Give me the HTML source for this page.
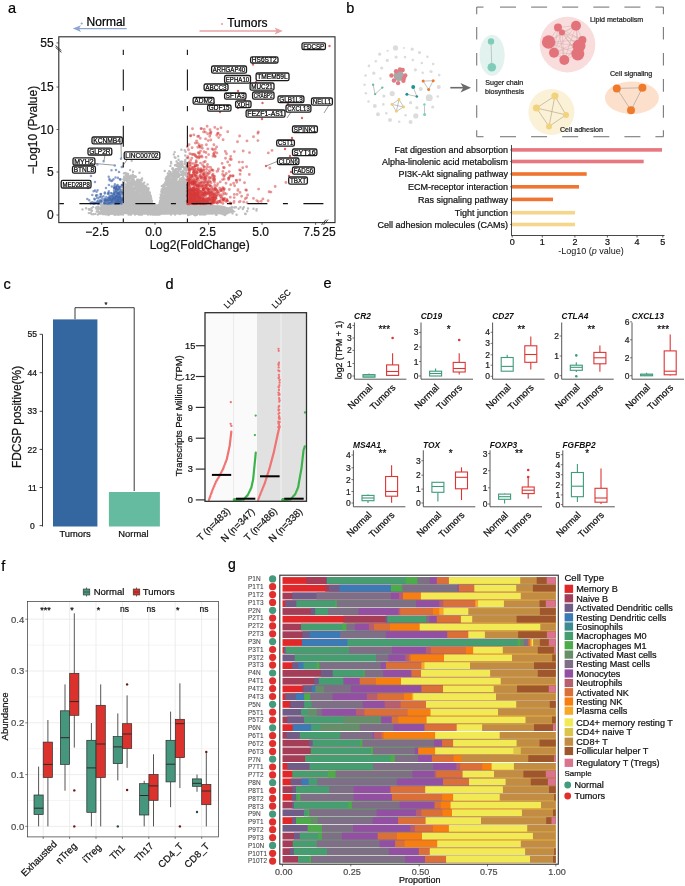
<!DOCTYPE html>
<html><head><meta charset="utf-8"><style>
html,body{margin:0;padding:0;background:#fff;}
svg{display:block;font-family:"Liberation Sans", sans-serif;will-change:transform;}
</style></head><body>
<svg width="685" height="886" viewBox="0 0 685 886">
<rect width="685" height="886" fill="#fff"/>
<text x="8" y="12.8" font-size="14.5" text-anchor="start" fill="#000" stroke="#000" stroke-width="0.22" >a</text>
<text x="86.6" y="25.5" font-size="12" text-anchor="start" fill="#000" stroke="#000" stroke-width="0.22" >Normal</text>
<line x1="126.7" y1="28.6" x2="77" y2="28.6" stroke="#8ea6cf" stroke-width="1.3" />
<polygon points="72.8,28.6 81,25.2 79,28.6 81,32" fill="#8ea6cf"/>
<circle cx="81.7" cy="23.5" r="1.1" fill="#8ea6cf" />
<text x="227.2" y="26.7" font-size="12" text-anchor="start" fill="#000" stroke="#000" stroke-width="0.22" >Tumors</text>
<line x1="199.5" y1="31" x2="278" y2="31" stroke="#e8a3a6" stroke-width="1.3" />
<polygon points="282.8,31 274.6,27.6 276.6,31 274.6,34.4" fill="#e8a3a6"/>
<circle cx="222" cy="24" r="1.1" fill="#e8a3a6" />
<defs><clipPath id="cpa"><rect x="59.3" y="37.3" width="275.2" height="184.8"/></clipPath></defs>
<g clip-path="url(#cpa)">
<polygon points="123,191.8 123.5,191.8 124,191.9 124.6,191.9 125.1,191.9 125.6,192 126.2,192 126.7,192.1 127.2,192.1 127.8,192.1 128.3,192.2 128.8,192.2 129.4,192.2 129.9,192.3 130.4,192.3 131,192.4 131.5,192.4 132,192.4 132.6,192.5 133.1,192.5 133.7,192.6 134.2,192.7 134.7,192.9 135.3,193.1 135.8,193.3 136.3,193.5 136.9,193.7 137.4,193.9 137.9,194.1 138.5,194.3 139,194.5 139.5,194.7 140.1,194.9 140.6,195.1 141.1,195.3 141.7,195.5 142.2,195.7 142.7,195.8 143.3,196 143.8,196.2 144.3,196.4 144.9,197 145.4,197.5 145.9,198.1 146.5,198.6 147,199.2 147.5,199.7 148.1,200.3 148.6,200.9 149.1,201.4 149.7,202 150.2,202.6 150.7,203.7 151.3,204.8 151.8,205.9 152.3,207 152.9,208.1 153.4,209.3 153.9,210.4 154.5,211.5 155,212.7 155.5,212.1 156.1,211.6 156.6,211.1 157.1,210.5 157.7,210 158.2,209.4 158.7,208.9 159.3,208.4 159.8,206.8 160.3,204.7 160.9,202.5 161.4,200.4 161.9,199.1 162.5,198.4 163,197.7 163.5,196.9 164.1,196.2 164.6,195.5 165.1,194.8 165.7,194.1 166.2,193.4 166.7,192.6 167.3,191.9 167.8,191.4 168.3,191 168.9,190.6 169.4,190.1 169.9,189.7 170.5,189.2 171,188.8 171.5,188.4 172.1,187.9 172.6,187.5 173.1,187.1 173.7,186.7 174.2,186.5 174.7,186.2 175.3,185.9 175.8,185.7 176.3,185.4 176.9,185.1 177.4,184.9 178,184.6 178.5,184.4 179,184.1 179.6,183.8 180.1,183.6 180.6,183.4 181.2,183.3 181.7,183.2 182.2,183.1 182.8,183 183.3,182.9 183.8,182.8 184.4,182.7 184.9,182.6 185.4,182.5 186,182.4 186.5,182.3 187,182.2 187,214.2 187,213.8 184.9,213.8 182.8,213.9 180.6,213.9 178.5,214 176.3,214 174.2,214 172.1,214.1 169.9,214.1 167.8,214.2 165.7,214.2 163.5,214.2 161.4,214.3 159.3,214.3 157.1,214.4 155,214.4 152.9,214.4 150.7,214.3 148.6,214.3 146.5,214.2 144.3,214.2 142.2,214.2 140.1,214.1 137.9,214.1 135.8,214 133.7,214 131.5,214 129.4,213.9 127.2,213.9 125.1,213.8 123,213.8" fill="#bdbdbd"/>
<polygon points="104,205.5 112,204.2 200,204.2 222,205.5 232,208.5 236,212 226,214.2 150,214.8 108,213.8 100,211 99,208" fill="#bdbdbd"/>
<path d="M180.4 204.4h0M155.6 211.2h0M140.8 188.8h0M186.7 184.6h0M133.2 213.1h0M152.8 207.7h0M138.8 184.9h0M146.6 199.8h0M179.4 184.6h0M128.8 187.2h0M161.3 194.9h0M175.3 186.7h0M163.8 212.2h0M148.8 204.5h0M142.2 193.8h0M162.4 199.7h0M182.4 166.2h0M159.5 205.1h0M179.1 174h0M124.6 180.2h0M151.7 201.8h0M160.8 208h0M181.2 186.9h0M174.9 173.8h0M163.2 202.9h0M135.7 184.7h0M146 192.4h0M185.8 174.5h0M160.2 206.6h0M141.4 188.6h0M174.6 180.6h0M148.5 189.7h0M143.7 190.5h0M165.2 196.1h0M163.7 186.2h0M175.2 210.8h0M154.6 212h0M124.3 179.3h0M125.5 177.4h0M142.9 196.4h0M162.1 194.8h0M175.1 214.6h0M130.2 187.9h0M157.8 209.6h0M159.7 208.1h0M163.5 192h0M178.5 205.8h0M136.7 196.3h0M152.2 213.7h0M165.4 205.9h0M136.7 185.7h0M171.2 174.5h0M131.4 177.8h0M157.3 210.7h0M150.8 209.3h0M169.6 179.8h0M127.1 192.9h0M157.3 208h0M174.2 177h0M164.8 201.7h0M171.6 181.7h0M149.9 202h0M158.1 211.1h0M152.6 208.2h0M168.6 176.6h0M151.7 202.6h0M181.5 182.5h0M125.1 179.4h0M126.6 179.9h0M148.2 192.8h0M130.9 194.9h0M165.9 187.9h0M163.2 190.2h0M161.3 191.8h0M140 208.3h0M181.6 163.6h0M138.1 195.7h0M156.2 209.6h0M142.3 195.3h0M141.1 197.7h0M128.8 192.8h0M174.3 187.2h0M149.6 195.2h0M136.4 194.6h0M124 196.6h0M156.5 214.1h0M182.7 173h0M127.7 183h0M164.4 195.7h0M174.7 183.1h0M164.1 192.2h0M147.3 198.6h0M175.9 184.8h0M168.6 179.5h0M158.7 207.9h0M134.7 182.2h0M137.7 182.7h0M157.6 207.7h0M166.9 195.8h0M135.7 195.2h0M172.2 176.2h0M143.3 193h0M175.3 169.8h0M164.2 193.2h0M156.6 213.1h0M142.6 185h0M168.4 176.6h0M154.2 210.9h0M171 179.2h0M132.1 188.6h0M134.1 196.2h0M133.5 177.5h0M173.7 180.6h0M175.3 189.4h0M126.1 191h0M184 206.3h0M176.2 169.5h0M166.4 192.6h0M155.8 211.8h0M177.5 200h0M134.8 185.1h0M180.5 168.6h0M173.4 172.3h0M136.6 195.3h0M131.3 210.8h0M158.2 214.1h0M161.9 195.3h0M153.3 208h0M169.4 199.3h0M166.2 191.2h0M178.1 169.5h0M137 183.8h0M136.7 181.7h0M155.4 210.6h0M174.5 175.3h0M155.7 210.9h0M139.9 202h0M162.1 192.6h0M159.3 208.7h0M159.6 208.2h0M135.7 187.8h0M175.3 174h0M140.3 189h0M129.8 178.7h0M134.1 180.4h0M135.3 196.6h0M154.2 210.2h0M145.6 196h0M142.1 214.6h0M152.2 208.2h0M141.2 185.3h0M145.8 191.1h0M171.3 178.8h0M179.8 192.9h0M131.9 190.2h0M168.6 173.7h0M131.2 214.6h0M183.1 182.2h0M159.4 206.4h0M186.8 183.9h0M180.1 205.1h0M145.2 200.2h0M171.4 180.2h0M131.9 188.8h0M174.4 172.5h0M171.7 176.6h0M129.8 187.7h0M125.2 187.2h0M162 191.1h0M185.1 169.6h0M149.9 194.4h0M156.4 210.4h0M123.2 187.5h0M144.3 182.6h0M136.1 210.2h0M149.7 211.7h0M137 181.2h0M133 200.8h0M174 184.9h0M139.6 198h0M156.2 212h0M167.4 183.3h0M125.2 173h0M152.7 205.7h0M135.8 194.3h0M147.8 201.7h0M125.9 191.5h0M155.3 212.9h0M132.7 195.4h0M159.9 206.6h0M135.4 197.1h0M150.4 213.9h0M157.6 209h0M134.1 177.1h0M178 185h0M144.4 185.4h0M162.9 190h0M162.9 197.1h0M152.6 213.3h0M178.6 183.6h0M156.2 209.4h0M166.3 179.2h0M135.1 184.7h0M165.5 183.2h0M174 201.3h0M155.3 212.4h0M186.4 169.8h0M133.3 180.8h0M143.4 195h0M131.8 187.6h0M157.1 207.7h0M169.8 198h0M149.5 211.4h0M156 212.7h0M181.9 181.6h0M164.2 201.5h0M154.8 211.5h0M142.5 186.8h0M159.5 204.7h0M178.7 199.5h0M180.3 165h0M132.4 183.6h0M177.9 172.8h0M172.3 191.9h0M152.8 214.6h0M140 190.9h0M153.1 205.8h0M155.8 211.4h0M152.6 207.9h0M147.6 197.7h0M149.1 193.7h0M175.1 189.1h0M176.2 183.1h0M128.5 214.5h0M144.9 194.6h0M154.9 211.6h0M166.2 189.9h0M160.7 204.5h0M158.6 210.5h0M128.3 203.4h0M146.4 187.7h0M153.4 208.6h0M164.6 185.8h0M169.6 178.9h0M156.4 213.8h0M131.1 208.1h0M146.1 195.1h0M155 212.3h0M162.5 189.8h0M157.1 211.3h0M158 206.1h0M127.8 178.2h0M134.3 188.7h0M162.1 196h0M146.4 192.4h0M151.2 203.1h0M162.6 205.9h0M164.6 209.2h0M174 175.5h0M139.9 190.9h0M173.6 182.5h0M128.3 190.2h0M137.4 195.9h0M128.6 186.4h0M152.9 212.3h0M143.6 192.8h0M166.4 193.3h0M152.4 203.7h0M147.7 197.5h0M129.7 210.6h0M146.2 186.8h0M168.7 200.8h0M160.1 201.9h0M131.6 194.8h0M178.8 176.5h0M146.7 188.9h0M124.4 200.1h0M165.2 200.9h0M170.7 172.1h0M174.3 175.1h0M135 183.6h0M176.1 181.4h0M143.9 186.5h0M177.5 176.8h0M155.5 211.6h0M171.5 192.7h0M145.6 189.8h0M186.3 169.6h0M184.8 182.5h0M129.8 182.2h0M162.5 194h0M183.4 170.4h0M152.5 206.7h0M154.3 209.7h0M164.1 193.3h0M135.5 193.2h0M156.8 209.8h0M150 213.3h0M166.3 191h0M142.8 196.5h0M125.1 190.4h0M145.3 193.1h0M135.2 182.1h0M186.4 170.7h0M127.2 190.8h0M135 195.2h0M128.1 175.6h0M149.5 197.4h0M129.6 195h0M157.7 209.6h0M124.5 202.7h0M163.1 199.3h0M139.9 186.1h0M152.8 205.8h0M145.1 192.3h0M146.8 199.9h0M143.2 194.3h0M180.4 178.6h0M179 190.1h0M147.3 190.4h0M141.4 187.1h0M154.8 212.2h0M168.7 179.3h0M169.2 187.6h0M130.7 178.3h0M172.6 185.9h0M135.4 187.7h0M145 198.8h0M168.3 188.4h0M145.8 192.1h0M138.9 185.8h0M125.4 179.4h0M146.1 192.3h0M143.8 186.3h0M165.4 187.9h0M137.7 191.4h0M176.8 171.8h0M164.4 189.5h0M176.8 181.5h0M151 200h0M160.5 201.1h0M154.8 211.5h0M141.9 185.3h0M136.1 186.5h0M155.1 211.2h0M151.9 200.9h0M136.1 193.2h0M156.4 209h0M148.2 192.5h0M141 188.4h0M153.9 207.9h0M127.8 192.3h0M152.5 207.9h0M145.5 189.2h0M178.6 200.1h0M181.8 166.9h0M186.3 165.9h0M141.9 211.1h0M159 207.6h0M147.6 193.9h0M156.2 211.6h0M145.4 205.8h0M164.9 209.5h0M151.7 205h0M156.4 209.4h0M172.8 186.2h0M176.3 179.8h0M176.4 186h0M180.4 182.3h0M157 211.5h0M167.9 193.8h0M175.5 184.2h0M126.2 187.3h0M173.3 197.6h0M123.3 179.1h0M150.3 196.2h0M153.1 206.1h0M157.5 209.8h0M153.9 210.1h0M156.8 208.8h0M147.8 196.2h0M174.2 211.1h0M171.1 179.4h0M141.6 195.6h0M170.1 184.2h0M154.1 210.4h0M172.7 194.1h0M133.6 199.8h0M132.3 186.5h0M174.3 173.6h0M151.5 201.1h0M147.4 196.3h0M185.4 181.7h0M174.1 175.6h0M155.4 213.8h0M138.2 184.5h0M142.1 193.2h0M137.1 212.1h0M154.5 211.1h0M167.4 204.3h0M173.1 176h0M155.5 212.1h0M155 214h0M127.8 184.9h0M130.8 197.3h0M136.4 185.2h0M176.6 188.5h0M134.7 193.8h0M165.7 178.7h0M143.1 206.8h0M164.3 185.8h0M165.4 192h0M130.4 189.5h0M164.8 202.6h0M156.4 211.5h0M150.2 200.8h0M141.5 183.3h0M124.4 184h0M167.3 187.4h0M155.2 212.3h0M130.7 189.5h0M159.9 205.2h0M153.1 212.5h0M134.5 184.7h0M178.2 174.6h0M163.1 190.5h0M143.3 187h0M153.6 209.3h0M176.8 190.4h0M176.2 184.6h0M138.5 194h0M162.4 196.3h0M129.2 188.9h0M161.9 205.1h0M158 209.2h0M150.1 198.8h0M161.5 206.2h0M159.7 204.7h0M172.6 183.8h0M141.8 180.4h0M171.9 175.8h0M155.1 211.2h0M156.7 210.1h0M145.6 191.1h0M184 182.1h0M161.1 201.1h0M154.5 210.3h0M140.6 194h0M185.9 173.3h0M171.9 177h0M133.3 191.5h0M186.5 179.5h0M128.4 192h0M157.1 210.7h0M146.4 188.2h0M138 188.8h0M155.7 213.1h0M170 180.7h0M137.3 189.9h0M144 198.4h0M168.1 205.2h0M133.9 194.7h0M131.7 195.7h0M161.9 193.7h0M164.7 190.6h0M168.8 189.2h0M147.2 198.9h0M146.8 193h0M178.9 167.3h0M139.5 189.8h0M140.2 190.1h0M147.1 207.2h0M141.9 187.2h0M135.4 192.2h0M172.7 168.3h0M148 195.1h0M172.1 177.8h0M161.2 203.3h0M184.3 168.3h0M178.7 170.8h0M138.4 185.6h0M155.6 211.7h0M140.1 188.7h0M134.2 189.5h0M159 209.2h0M176.3 180.7h0M167.8 185.7h0M152.4 203.8h0M154.7 213.3h0M171.6 209.6h0M181.5 161.7h0M155.9 211.3h0M152.7 212.3h0M140.5 181.1h0M149.8 196.6h0M155.5 211.1h0M175 187.9h0M147.1 189.1h0M184.6 179.5h0M180.9 174.7h0M168.8 190.5h0M186.4 172.8h0M168.5 190.9h0M180.1 180.2h0M138.6 190.3h0M123.1 190.3h0M138.8 190.3h0M169.3 196.8h0M177.4 205.7h0M149.9 205.1h0M143.1 196h0M186.8 158.1h0M155.8 211.3h0M149.5 196.5h0M180.6 166h0M147.3 193.2h0M126.1 200.5h0M155.2 212h0M147.6 202.3h0M126.8 199h0M150.3 205.4h0M156.2 211.6h0M132.8 187.9h0M164.1 185.4h0M183.6 166.7h0M143.6 189.4h0M125.1 194.1h0M153.5 212.6h0M181.2 164.8h0M163.5 191.9h0M132.7 181.6h0M141.7 198.5h0M155.4 211.9h0M159.6 211.5h0M156.2 209.2h0M142.8 208.4h0M166.1 188.7h0M170.5 172.8h0M157 208.7h0M151.5 204.8h0M178.7 166.1h0M164.5 190.4h0M161.8 199.3h0M162.7 204.6h0M136.6 183.6h0M140.5 180h0M166.5 177.1h0M124.1 196.7h0M164.9 202.9h0M181.3 182.8h0M154.3 212.3h0M143.6 201.5h0M167.6 189.6h0M178.2 166.3h0M162 212.8h0M149.2 202.2h0M159.9 202.6h0M149.9 196.9h0M140.3 183.9h0M168.6 178.7h0M156.2 210.3h0M163.4 190.9h0M162.9 186.2h0M156.2 210.2h0M159 208.5h0M143.6 185.2h0M173 183.6h0M148.6 194.9h0M146.6 199.4h0M136.9 212.5h0M154.7 211.3h0M140.5 197.2h0M135.4 186.3h0M147.2 201.4h0M127.8 186.3h0M148.3 195.7h0M141.2 187.2h0M175.3 191.5h0M132.1 177.5h0M175.8 173.9h0M154.1 211h0M152.8 204.9h0M172.3 168.7h0M182.6 185h0M154 209.2h0M157.3 211.3h0M170.3 190h0M127.4 195h0M146.3 201.8h0M154.9 214.6h0M156.8 208.4h0M179.8 179.4h0M136.7 213.7h0M160.4 197.7h0M168.1 181.1h0M163.2 200.9h0M169.6 173.9h0M152 200.7h0M127.5 181h0M185.3 175h0M179.2 186.3h0M155.9 211.1h0M140.7 190.5h0M154.6 214.3h0M144.6 192.7h0M172.1 189.2h0M157.9 211.2h0M161.1 202.8h0M157.9 209h0M168.6 175.9h0M161.7 194.8h0M129.9 211.4h0M180.8 168.9h0M169.5 188.8h0M174.5 182.1h0M124.3 194.2h0M129.3 202.7h0M150.8 207.1h0M123.1 181.9h0M176.7 179.2h0M145.3 203.8h0M155.3 214.6h0M156.5 210h0M125.9 184.5h0M164.1 184.6h0M179.5 181.5h0M138.6 194.6h0M170.7 179.5h0M138.4 204.3h0M142.8 187.9h0M136.9 188.1h0M138.6 187.2h0M126.5 178.1h0M182.9 166.6h0M163.1 204.4h0M174.6 193.4h0M166.9 183.1h0M158.7 206.2h0M172 182.9h0M155.6 212.2h0M159.2 207.2h0M136.5 189.1h0M146 190.5h0M151.9 204.3h0M123.1 207.7h0M160.6 208.6h0M177 165.9h0M150.3 197.1h0M139.3 211.4h0M155.7 211.5h0M166.3 194.2h0M154 208.4h0M181.1 195.4h0M135.7 191.2h0M170 175.9h0M175.6 175.9h0M131.4 183.7h0M151.7 208.6h0M148.2 200.8h0M128.9 176.5h0M142.9 187.6h0M163.5 207.2h0M131.6 176.7h0M143.6 194.4h0M130.2 185.5h0M162.2 198.8h0M148.1 193.2h0M170.5 187.7h0M147.7 197.6h0M168.7 184h0M169.7 182h0M180.9 171.8h0M136 185.3h0M125.4 191.6h0M156.1 209.5h0M155.3 214.4h0M157.5 213.6h0M173 180.4h0M148.6 200.8h0M128.9 190.1h0M154.5 210.4h0M147.6 200.5h0M167.7 190h0M172.1 176.9h0M178 165.8h0M159.6 214.6h0M146.1 189.4h0M147.1 192.1h0M157.1 208.5h0M162.1 200.5h0M139 207.5h0M176.3 172.8h0M172.3 180.2h0M156.9 208.7h0M145 203.6h0M129.7 196.3h0M159.6 205.5h0M171.3 201.3h0M183.3 186.9h0M136.5 208.5h0M184 201.1h0M149.1 200.6h0M123.8 211.7h0M147.5 194.6h0M173.3 172h0M169.5 178.3h0M176.8 173h0M141.3 183.2h0M173.5 174.8h0M183 182.6h0M158.7 207.9h0M131 176.5h0M151.1 199.1h0M135.5 188.9h0M142.8 193.7h0M178.4 171.2h0M154.7 210.2h0M166.4 206h0M158.8 207.3h0M140.3 195.5h0M174.4 187.4h0M185.8 181.8h0M154.1 210.8h0M151.5 202.6h0M162.3 202.1h0M173.1 177.4h0M139.5 184.8h0M146.8 199.7h0M156.7 213.1h0M152.3 203.9h0M161.4 195.6h0M159.4 209.8h0M151.7 206.4h0M154.6 211h0M157.7 214h0M145 192.1h0M160.7 194.6h0M183.7 178.5h0M127.5 177.9h0M143 185.9h0M166.7 194.8h0M156 209.8h0M177.2 207h0M152 213.1h0M146.4 205.4h0M153.6 206h0M150 196.1h0M152.1 211.3h0M161.7 199.6h0M138.2 202.8h0M167.6 180h0M179.6 208.8h0M166.7 179.7h0M162.4 190.8h0M128.3 186.8h0M152.9 207h0M136.7 183.2h0M153.3 209.5h0M144 189.4h0M132.7 200.4h0M155.3 211h0M175.9 174.9h0M177.3 174h0M125.9 187.2h0M161.9 191.9h0M150.7 201.8h0M164.1 189.8h0M146.1 206.4h0M140.5 185.3h0M175.8 179.8h0M161.6 194.1h0M127.1 181.6h0M165.2 209.2h0M139.6 180.2h0M135.6 193.9h0M160.3 204.1h0M156.1 212.1h0M163.7 195.9h0M124.5 186.6h0M165.5 195.4h0M145.6 191.5h0M139.9 182.1h0M186 187.6h0M123.9 203.5h0M168.2 194.2h0M136.1 181.8h0M145.5 192.4h0M169.5 204.8h0M164.3 184.1h0M168.1 186.5h0M159.7 206.4h0M159.9 209.3h0M138.9 181.6h0M180.3 210h0M132.7 181.6h0M175.2 181.7h0M182.5 171.4h0M169.4 177.8h0M177.9 173.1h0M130 190.9h0M176.4 172.4h0M179.1 167.8h0M131.8 193.4h0M170.5 179.7h0M163.1 196h0M135.7 176.8h0M139.4 188.4h0M130.3 187.5h0M167 188.6h0M181.1 178.7h0M142 191.7h0M126.1 206.4h0M141.9 186.7h0M160.5 213.4h0M124.1 181.3h0M164.4 201.7h0M139.1 196.4h0M169.4 182.5h0M174.2 173.7h0M183.9 174.1h0M172.6 180.3h0M158 207.6h0M168 184.5h0M140.2 182.3h0M166.7 192h0M139.6 212.9h0M134.5 193h0M141 187.7h0M142.4 196.1h0M147.5 196.7h0M136.2 181.8h0M139.1 186.8h0M137.2 179.6h0M142.8 188.5h0M176.9 182.6h0M163.7 191.4h0M146.2 194.8h0M167.4 205.6h0M147.8 202h0M159.6 203.7h0M139.2 201.9h0M180.6 183.7h0M154.6 210.1h0M138.5 179.6h0M123.2 191.8h0M167 198.1h0M147.1 210.7h0M127 200.8h0M170.6 182.7h0M137.8 192.1h0M169.8 174.2h0M166.6 207.7h0M149 200.5h0M124.7 207.2h0M133.9 193.4h0M134.8 184.8h0M177.9 203.4h0M176.7 189.7h0M151.8 208.1h0M169.5 184.7h0M177 192.8h0M130.8 195.9h0M170 210.1h0M142.1 206.3h0M150.6 198.2h0M128.4 191.4h0M157.9 208.1h0M143.4 183.6h0M153.3 208.7h0M131.2 184.8h0M150.5 204.7h0M143.7 190.9h0M149.7 194.3h0M173.2 171.8h0M185.3 159.9h0M172.5 169.1h0M159 207.5h0M145.4 190.3h0M149.2 203.4h0M153.7 207.8h0M125.1 189.6h0M152.5 206.4h0M158.8 205.8h0M164.4 191.5h0M143.2 194.7h0M164 191.9h0M179.2 164.8h0M131.7 182.2h0M141.8 202h0M135 214.6h0M141.5 190h0M157.5 210.5h0M159.2 208.2h0M172.6 193.6h0M127.3 179h0M159.4 210.2h0M150.5 195.6h0M128.1 204.5h0M158.3 214.6h0M139.8 203.7h0M143.1 188h0M157 209.5h0M153.4 207.1h0M162.4 204.6h0M123.8 189.4h0M151.5 210h0M147.1 198.4h0M127.3 200.1h0M146.5 202.3h0M141.7 202.1h0M148.9 204.4h0M151.2 200.8h0M124 205.8h0M170.6 185.8h0M166.1 184.7h0M184.8 201.2h0M164.6 188.8h0M182.1 202.6h0M161.6 194.9h0M130.4 214.6h0M172.6 186h0M147.9 207h0M160.3 201.7h0M170.5 205h0M138.9 182.7h0M145.4 187.4h0M133.5 179.2h0M149.1 200.7h0M168.1 175.6h0M139.2 189.4h0M147.4 203.6h0M148.9 193.2h0M141.2 185.8h0M159.3 206.4h0M129 203.6h0M181.4 212.6h0M161.8 200.6h0M152.4 209.2h0M163.1 185.3h0M145.8 193h0M143.6 185.8h0M143.7 211.4h0M125.3 210.2h0M149.6 203.7h0M163.6 190.8h0M150.4 202.4h0M127.5 179.5h0M123.3 197.6h0M181.7 173.1h0M170.9 189.3h0M159.2 205.1h0M158.4 211.9h0M151.2 201.1h0M144.5 186.5h0M140.7 214.6h0M144.2 203.3h0M181.6 185.1h0M184.9 188.5h0M132.8 179h0M152.2 208.6h0M127.6 188.9h0M142.1 195.1h0M173 190.3h0M142.1 206.1h0M151.7 205.8h0M140.1 194.9h0M154.7 213.6h0M167.5 209.5h0M126.8 190.4h0M154.7 211.3h0M124.3 181.9h0M169.2 180.9h0M180.7 167h0M145.7 189.1h0M127.5 203.2h0M145.6 186.4h0M131 180.9h0M133.8 206.7h0M187 209.7h0M180.5 208h0M157.8 206.1h0M145.6 187.1h0M172.5 173.7h0M135.5 195.8h0M133.2 181.9h0M148 199.4h0M126.8 179.3h0M153.5 206.9h0M127.5 178.2h0M168.6 190.8h0M169.1 199.4h0M137.4 189.8h0M170.2 174h0M150.8 196.3h0M149.8 202.4h0M165.4 194.9h0M153.6 209.6h0M131.5 192.7h0M128.4 182.8h0M179.6 187.1h0M159.6 204.6h0M159.1 207h0M179.8 214.1h0M155.2 214.6h0M185.7 211.9h0M159 213.5h0M141.7 208.7h0M167.2 188.5h0M165.3 193.2h0M177.4 174h0M152.5 213.3h0M157.3 208.3h0M178 162.9h0M172.4 176.1h0M156.1 210.2h0M145 196.5h0M155.8 210.5h0M161.6 191.4h0M124.6 198.4h0M139.3 187.3h0M166.2 180.8h0M133.5 195.9h0M173.3 185.7h0M170.9 184.6h0M176.4 177.4h0M159.6 210.4h0M164 195.9h0M144.1 199.6h0M170.6 201h0M128.4 198h0M150.2 199.8h0M124.2 177.3h0M147.5 209.2h0M136.3 183.4h0M166.4 193.1h0M182.1 173.2h0M161.2 197.5h0M163.7 196.3h0M187 173.7h0M158 206.9h0M125.3 190.1h0M156.1 210.1h0M145 198.1h0M135.8 176.7h0M127.2 176.5h0M177.3 190.7h0M139.7 214.6h0M179.2 176.2h0M182.4 177.6h0M162.7 192h0M180.8 206.6h0M137.7 191.8h0M158.3 206h0M145.3 197.6h0M149.7 197.3h0M151 198.3h0M146 198.9h0M184.6 161.8h0M167.4 183.2h0M146.3 200.3h0M148.7 201.9h0M154.5 211.4h0M168.3 194.1h0M152.1 214h0M150.9 207.1h0M176.4 190.3h0M123.3 182h0M149.8 200.8h0M151.1 211.4h0M138 184.3h0M157.8 206.4h0M148.4 198.8h0M148.8 196.5h0M131.9 190.5h0M174.9 182.4h0M138.6 182.8h0M154.8 211.9h0M186.6 191.5h0M177.3 168.6h0M158.7 213h0M140.3 185.7h0M171.6 181h0M129.3 189.3h0M145.3 193.8h0M173.3 178.1h0M153.4 214.2h0M148 191.2h0M123.3 212.1h0M148.8 206.9h0M134.6 210.8h0M163.8 187h0M143.1 186.4h0M123.8 183.5h0M153.7 210.2h0M179.1 181.3h0M128 188.7h0M131.2 185.5h0M143.8 187.2h0M123.9 173.4h0M165.3 201h0M134.9 188.5h0M170.7 203.6h0M140.8 185.5h0M149.7 194.6h0M132.1 205.7h0M186 162.7h0M152.1 204.5h0M133.1 206.2h0M130.5 185.4h0M146.6 195.1h0M163 198h0M145.3 199.7h0M177.7 208.9h0M143.5 195.4h0M171 214.6h0M141.8 200.1h0M136.1 195.6h0M174.1 175.6h0M172.4 178.2h0M123.5 209.5h0M139.3 196.4h0M149.5 196.2h0M154.1 214.6h0M150.3 197.9h0M124.1 190.6h0M135.5 198.4h0M147.2 204.1h0M186.9 176.7h0M170.4 180.2h0M172.7 187.1h0M174.6 186h0M172 189.4h0M178.5 170.3h0M174.2 193.8h0M178 184.1h0M167.4 177.2h0M163.7 210.1h0M162.4 194.3h0M157.8 210.7h0M152.6 203.8h0M132.9 179.6h0M162.5 204.8h0M150.5 214.6h0M157.2 211h0M145.2 208.3h0M150.7 196.9h0M171.1 202.7h0M138.1 212.1h0M140.3 195h0M128.2 197.7h0M155.1 212.8h0M164.5 192.2h0M156 209.9h0M123.4 182.7h0M134.1 184.6h0M139.2 196.2h0M163.2 192h0M160.7 199.1h0M163.5 189.8h0M185 169.5h0M151.4 207.4h0M123.9 184.4h0M171.2 212.3h0M165 192.6h0M172 190.4h0M124.3 176.5h0M138.6 193.3h0M183.5 173.1h0M148.5 199.2h0M153.4 205.8h0M133.5 184.8h0M157.6 210.9h0M163.4 191.6h0M128.8 179.8h0M150.1 199h0M145.8 190.2h0M150.3 199.4h0M123.1 214.6h0M126.3 197.9h0M145.5 195.7h0M155.3 210.8h0M153.1 205h0M169.2 188.1h0M136.9 182.9h0M144.7 196.2h0M140.4 198.5h0M167.8 185.1h0M182 161.6h0M133.5 196.4h0M145.6 212.9h0M166.5 197.1h0M161 205.6h0M155.8 214.6h0M157.2 209.9h0M132.3 199.5h0M183.8 187h0M168.8 211.8h0M180.9 189.6h0M151.4 201.2h0M129.9 184.7h0M139.2 188.4h0M151.2 198.5h0M171.7 179.1h0M152.8 204.9h0M182.5 179.8h0M178.9 166.1h0M155.9 213.6h0M171.7 188.5h0M157 213.2h0M159.4 204.2h0M173.8 188.1h0M170.5 184.9h0M153.2 212.1h0M142.4 198h0M178.1 185.9h0M180.3 180.9h0M141.3 198.4h0M142.5 194.1h0M169.1 204.7h0M157.1 208.1h0M169.9 191.9h0M148.3 193.9h0M137.8 195.7h0M149.8 192.5h0M178.7 169.5h0M126.4 203.4h0M139.2 182.3h0M173 169.5h0M129 213.1h0M168.8 190.9h0M156.8 212h0M165.3 195.8h0M147.2 193h0M148.3 211.1h0M131.3 186.1h0M136.2 196.7h0M161.1 198.8h0M175 178h0M177.9 182.6h0M183.7 192.6h0M160.6 198.4h0M134.6 199.6h0M124.6 178.3h0M145.3 207.7h0M159.6 205.5h0M138.7 184.6h0M140.9 186.1h0M145.6 212.5h0M129 193h0M178.3 169.2h0M169.5 211.8h0M158.8 206.8h0M157.9 210.3h0M132.9 195.6h0M173.1 182.5h0M148 214.6h0M124.6 198.2h0M137.8 195.3h0M180.1 187.6h0M159.4 207.9h0M164.6 198.7h0M137.4 192.8h0M172.2 185.3h0M159.5 208.8h0M182.9 187.9h0M186.7 163.4h0M163.7 192.9h0M138.4 184.8h0M179.6 199.1h0M160.9 205.3h0M169.8 189.4h0M128.7 183.5h0M163.8 190.8h0M138.3 191.3h0M176.6 189.2h0M185.3 163.5h0M166.7 183.1h0M150.6 198.7h0M138.8 214.6h0M174.5 181.4h0M134.6 187.5h0M169.5 176.3h0M176.1 199.2h0M132.4 177h0M174.1 180.7h0M162.3 194.7h0M140.2 189.9h0M146.2 192.1h0M163.7 186.3h0M171.5 198.7h0M167.3 192.3h0M163 198.4h0M158.4 214.2h0M153.2 207.8h0M140 195.3h0M182 207h0M158.7 206.1h0M169.1 186.3h0M127.8 182.2h0M155.2 214.2h0M152.6 209.4h0M136.8 195.7h0M159.8 202.3h0M149.8 195.7h0M166.3 193.5h0M180.3 163.3h0M177.5 176.1h0M155.9 212h0M155.4 210.8h0M140.2 198h0M183.5 202.2h0M152.6 207.4h0M170.4 193.8h0M163.9 186.3h0M145.6 188.3h0M145.6 186.8h0M167.1 178.2h0M152.4 206.9h0M157.1 214.6h0M157.6 210.5h0M183.2 177.3h0M177.9 188.6h0M184.8 168h0M143.9 189.8h0M153.2 205.3h0M184.3 172.5h0M164.4 195.8h0M154.5 212.1h0M165.8 190.5h0M157.8 214.1h0M158.1 208h0M158.4 211.6h0M145.9 188.8h0M156.3 210.2h0M150.6 199.7h0M175.5 207.9h0M134.4 203.9h0M158.6 208.3h0M127.2 191.4h0M129.6 190.3h0M169.5 182.7h0M158.4 209.5h0M173.9 176.4h0M161 211.2h0M177.9 176.1h0M152.6 207h0M165.3 182.5h0M151 212.8h0M163.1 191.3h0M157.8 206.3h0M182.7 179.6h0M171.4 188.5h0M159.8 208.1h0M158.7 206.1h0M170.8 191.1h0M185.3 161.9h0M163.2 201.9h0M173 168.8h0M131.9 188.2h0M170.8 174.7h0M186.4 166.4h0M131.9 197h0M166.6 178.8h0M150.9 202.2h0M132.5 190.3h0M133.5 184h0M171.2 189.5h0M182.2 166.8h0M154.2 209.3h0M135.5 186.9h0M132.2 179.2h0M132.8 174.8h0M134.6 199.3h0M180 169.3h0M159.1 210.2h0M133.9 180.7h0M146.2 191.6h0M159.4 204.9h0M178.3 177.1h0M125.9 188.4h0M167.2 185.3h0M157 209.9h0M180.8 182.5h0M156.5 212.4h0M182.5 164h0M157.3 211.9h0M160.2 200.7h0M126.4 188.8h0M165.7 184h0M130.1 191.9h0M165.5 193.7h0M160.1 201.2h0M140 183.1h0M168.1 181.8h0M161 196.6h0M164.2 187.2h0M159.3 206.3h0M184.1 180.1h0M172.5 176.7h0M154.5 212.6h0M173.3 170.6h0M166.6 180h0M173.8 171h0M150.7 198.6h0M150.8 197.7h0M166.6 200.2h0M149.7 194.1h0M167.5 184.2h0M130.2 181.7h0M141.2 190.6h0M157.9 210h0M164.5 192.9h0M125 196.7h0M157.1 209.7h0M133.8 182h0M155.6 210.6h0M175.5 181.3h0M151.6 203.7h0M145.5 211h0M139.6 210.7h0M155.3 213.8h0M171.1 205.2h0M156.3 212.8h0M173.3 191.8h0M150 197.2h0M140.2 198.2h0M186.5 168.8h0M153.6 209h0M178.3 172.6h0M163.2 189.6h0M127.3 211.8h0M125.1 184.5h0M185.5 168.2h0M138.7 214h0M125.2 187h0M141.6 190.7h0M165.5 192.6h0M174.8 171.9h0M168.2 181h0M183.7 199.7h0M175.8 169.2h0M146.1 193.7h0M169.8 179.2h0M127.1 189.1h0M161.8 200.9h0M155.5 214.6h0M159.8 207h0M182.9 175.5h0M174.8 187.7h0M159.8 210.3h0M132 203.1h0M141.1 188.5h0M182.2 178.8h0M147.3 197.5h0M152.9 204.7h0M128.5 188h0M127.2 186.7h0M157 208.2h0M130.1 176.6h0M163.5 189.5h0M173.9 179.5h0M185.8 175.5h0M179.2 194.8h0M148.2 204.1h0M183.4 180h0M126.1 211.2h0M149 211.8h0M132.7 195.4h0M140.2 191.5h0M154.6 210.5h0M145 194.6h0M153.9 209h0M141.3 188.9h0M143.6 204.1h0M154.2 210h0M175.8 177.1h0M168.2 177.6h0M131.1 194.7h0M128.8 185.7h0M167.9 185.7h0M166.6 209.4h0M146.8 190.5h0M143.6 199h0M153.7 209.7h0M184.9 163.9h0M166.8 210.8h0M126.6 173.5h0M147.3 194.7h0M128.9 179.4h0M148.8 202h0M161.7 189.5h0M163.2 187.9h0M145 204.4h0M130.7 213.3h0M155.5 213.8h0M127.1 178.9h0M177.3 183.9h0M165 199.1h0M179.3 209.6h0M198 206.3h0M119.4 207.4h0M231.8 210h0M189.3 208.3h0M207.4 209.2h0M120.1 206.9h0M202.9 212.5h0M193.6 207.1h0M203.4 209.5h0M201.1 209.5h0M110.6 209.6h0M103 206.5h0M118.3 214.7h0M189.9 212.8h0M200.6 210.4h0M199.3 213.8h0M212.2 210.2h0M115.4 208h0M220.9 212.6h0M197.8 208.8h0M215.7 212.4h0M110.7 211.7h0M215.5 208.7h0M105 208.1h0M197 203.5h0M187.6 211.6h0M226.3 210.2h0M112.5 210.4h0M222.8 208.2h0M199.5 208.7h0M191.3 206.2h0M211.5 213h0M205.7 205.3h0M193.6 213.9h0M110.4 210.1h0M115.2 207.1h0M194.4 213.1h0M119 210.7h0M119.2 214.3h0M220.8 208.3h0M111.8 210.8h0M114.7 207.4h0M200.8 208.4h0M119 213.2h0M188.9 205.9h0M102.5 214h0M116.8 211.2h0M109.7 213.3h0M195.9 214.2h0M110.7 208.2h0M202.8 212.6h0M203.4 210.2h0M190.4 205.1h0M198.9 204.4h0M219.4 208.2h0M108.3 204.4h0M201.1 208.8h0M118.5 213.2h0M99.1 213.6h0M232.3 207.5h0M236.6 214.8h0M121.5 211.9h0M117.3 208.9h0M103.1 209.5h0M189.5 213.3h0M211.3 207.2h0M189.5 206.1h0M121.9 214.1h0M188.7 207.3h0M196.5 211.4h0M192.6 204h0M188.3 205.7h0M116.4 214h0M206.5 208.6h0M196.8 209.6h0M120.7 206.4h0M188.9 211.1h0M119 207.3h0M214.6 207.1h0M225.9 211.3h0M224.3 207.5h0M119.4 213.1h0M92 210.8h0M191.3 207.5h0M198.9 211.5h0M112.8 206.2h0M225.3 214.5h0M106.4 212.5h0M230.4 209.5h0M229.6 208.2h0M205.3 209.7h0M205.8 207.6h0M207.2 208.2h0M211.6 211h0M118.1 213.3h0M121 207h0M98.1 207.7h0M98.1 206.7h0M195.5 212.7h0M222.7 214.1h0M210.7 208.5h0M230.6 208.5h0M196.5 214.5h0M196.2 211.2h0M188.6 214.9h0M120 211.1h0M119.2 210.9h0M96.7 211.6h0M224.5 214.8h0M118.1 205.4h0M200.8 213.2h0M227.2 213.3h0M119.5 209h0M104.7 204.2h0M218.9 208.7h0M191.3 213.7h0M95.9 207.8h0M112 210.5h0M82.5 209.4h0M107 213h0M102.5 208.7h0M236 207.2h0M117 214.3h0M107.1 206.4h0M188.1 215h0M112.4 213.2h0M202.1 214.1h0M194.4 203.4h0M189.5 211.6h0M91.6 208.3h0M205.1 207.1h0M208.3 207.4h0M188.3 204.8h0M196.1 214.3h0M202.2 205.5h0M210.9 210.2h0M101.3 203.5h0M112.1 210.3h0M187.2 207.4h0M248 208.5h0M217.6 209.4h0M197.4 204.3h0M119.9 210.4h0M116.6 205h0M89.3 209.9h0M199.3 204.3h0M197.6 208.3h0M93.2 214.2h0M195.1 211.9h0M116.6 210.1h0M105.7 204.1h0M116.8 211.6h0M212.4 213.6h0M115 204.5h0M199.2 209h0M190.5 206.8h0M205.6 207.3h0M103.8 204.6h0M223.4 207.4h0M214.4 208.9h0M91.5 214.1h0M120.2 213.3h0M104 206.4h0M112.9 209.8h0M105.6 214.3h0M116.9 212.6h0M201.3 214.1h0M100.1 208.4h0M195.9 204.4h0M99 212.1h0M98.9 212.5h0M207.1 212.5h0M114.9 212.7h0M107.2 207.1h0M109.6 205.1h0M122.2 214.3h0M209.6 209.3h0M203.4 209.9h0M197 208.2h0M90.2 209.5h0M211.2 211h0M111.1 213.7h0M117.8 206.6h0M101.6 205.4h0M103.4 209.8h0M121 206h0M247.2 211.3h0M121.5 204.8h0M117.8 213.4h0M194.7 213.3h0M207.3 208.8h0M118.5 211.2h0M97 211.3h0M121 214.2h0M104.7 211.6h0M204.1 204.9h0M118.1 211.8h0M112.7 204.7h0M256.5 210.6h0M111.7 212.7h0M93 207.1h0M115.1 214.8h0M111.7 210.1h0M114.2 210.6h0M100.8 211.4h0M232.6 213.4h0M109.8 208.7h0M192.1 213.5h0M231.7 207h0M104.1 212.7h0M202.1 212h0M97.9 214.6h0M118.2 211.5h0M108.6 205.5h0M189.9 214.3h0M218.9 206.4h0M116.1 213.5h0M216.3 210.9h0M115.3 209.6h0M114.3 210.1h0M118.8 212.9h0M113.6 207h0M117.5 205h0M194.7 206.7h0M192.3 213.3h0M199 205.5h0M113.2 207.6h0M196.4 211.6h0M116.5 211.6h0M253.5 208.7h0M205.6 208.7h0M105.6 207h0M190.7 210.1h0M191.5 213.4h0M242.8 209h0M122.9 208.5h0M108.1 206.5h0M114.5 212.9h0M99.4 207.7h0M122.2 211.6h0M118.9 212.4h0M104.8 206.9h0M228 210h0M206.5 208.1h0M234.5 207.5h0M204.6 206.5h0M121.9 210.3h0M204.2 205.7h0M116.5 210.9h0M102.2 206.8h0M189.5 204.8h0M189.7 208h0M116.9 210.9h0M256.7 209.1h0M98.6 207.8h0M114 205.3h0M116.7 204.6h0M106.9 212.9h0M194.6 211.7h0M117.2 211.5h0M202.6 206.1h0M199.7 210h0M198.3 207.1h0M122.3 209.8h0M197.7 211.8h0M203.8 214.3h0M109.2 214.3h0M196.5 209.1h0M121.1 212.5h0M88.8 213.1h0M110.4 211.9h0M215.7 214.6h0M113.5 211.9h0M100.7 204.8h0M106.3 211.1h0M111.9 204.6h0M194.9 214.8h0M113.7 208.5h0M113.9 214.4h0M120.5 206.6h0M189 210.1h0M113.7 213.1h0M121 207.8h0M199.1 212.1h0M201.6 204.7h0M205.6 210.7h0M108.4 204.2h0M228.3 210.4h0M201.1 204.1h0M117.1 208.9h0M121 211.1h0M240.4 207.2h0M197.4 203.7h0M191.5 209.2h0M238.6 208.7h0M225.7 214.1h0M115.2 212.8h0M107.7 204.3h0M197.3 211.2h0M201.5 213.6h0M217.1 209.3h0M115 214h0M106.2 212.7h0M191.3 206.6h0M202.5 214.2h0M190.7 210.4h0M193.8 210.6h0M114.7 204.8h0M108.9 213h0M189.2 211.2h0M121.9 206.5h0M103.1 212.3h0M188.3 214.2h0M212.1 212.8h0M97 207.1h0M195 206h0M203 207h0M243.8 207.1h0M198.8 208.5h0M194.1 210.6h0M115.1 205h0M104.4 206.3h0M209 211.2h0M218.3 209.4h0M201.6 205.1h0M100.1 213.7h0M108.6 207h0M121.6 211.5h0M107.1 212.1h0M108.4 212.8h0M102.6 210.8h0M108.5 215h0M205.2 206h0M226.9 209.1h0M192.6 208.5h0M96.2 208.6h0M104.2 211.3h0M121.5 204.4h0M201 204.7h0M111.2 205.5h0M198.3 205.1h0M100 213.4h0M204.7 207.9h0M200.6 209.2h0M192.7 210.9h0M118.6 211.7h0M192 204.9h0M121.8 208.6h0M200.5 211h0M118.6 206.9h0M90.7 212.8h0M225.8 213h0M195.4 212.5h0M191.5 207.4h0M115.9 213.7h0M109.1 205.7h0M204 208.1h0M117.5 211.3h0M111.4 205.2h0M204.8 208.4h0M225 215.1h0M229.5 208h0M88.8 209.3h0M120.5 208h0M193.5 209.3h0M120.4 207.9h0M221.2 208.8h0M205.4 212.3h0M190.7 209.6h0M106.8 209.2h0M216.6 214.8h0M120.9 205h0M207.1 209.8h0M195.9 214.6h0M108.2 212.4h0M118.3 207.4h0M193.3 212.8h0M213.5 210.3h0M97.5 208h0M111.4 206.5h0M116.6 208.4h0M109 211.8h0M103.9 204.1h0M109.8 209.1h0M194.7 206.7h0M111.4 206.4h0M114.4 211.2h0M101.9 204.4h0M201.7 205.8h0M118.4 208.2h0M204.7 214.5h0M120.6 203.9h0M98.2 211.6h0M223 213.1h0M119.7 212.5h0M194.1 211.9h0M205.5 214.3h0M97.8 210h0M256.5 209.6h0M190.7 214.3h0M86.1 208.2h0M193.7 213.5h0M194.2 214.7h0M201.6 211.7h0M207.9 209h0M112.4 205.2h0M203.7 204.4h0M214 206.9h0M188 209.9h0M195.1 212.6h0M194.6 211.6h0M118.8 209.3h0M220.7 213.2h0M215.8 207.7h0M245.1 213.7h0M112.1 213.6h0M202.8 209.7h0M89.6 209.2h0M209.5 208.4h0M100.3 213.4h0M194.9 207.8h0M117.3 205.2h0M215.9 214.2h0M103.8 208.7h0M121.9 207.6h0M122.3 211.7h0M120.8 214.3h0M207.8 208.7h0M117.7 211.9h0M189.2 208.8h0M119.8 213.1h0M211.9 210.9h0M114.6 205.9h0M199.4 206.3h0M111.5 206h0M104.5 204.5h0M213.9 209.2h0M107.4 206.9h0M113.8 214.2h0M199.1 204.9h0M193.4 212.8h0M190.2 208.6h0M189.1 212.3h0M109.3 210.2h0M204 211.2h0M229.8 209.6h0M191.1 204.4h0M200 214.6h0M195.3 215.3h0M119 204.4h0M207.7 212.2h0M197.8 204.6h0M100.8 212.7h0M201.2 214.4h0M203.2 210.6h0M211.6 210.8h0M187.9 211.4h0M209.8 213.4h0M103.9 214h0M207.8 213.3h0M101.9 212.5h0M243.3 208.1h0M106.8 205.6h0M188.9 214h0M112.8 212.4h0M199.2 205.7h0M120.7 207.2h0M100.3 207.7h0M205 208.9h0M189.8 213.9h0M204.6 207.6h0M197.3 208.5h0M196.9 214.4h0M234.8 207.4h0M98 208.7h0M190.3 206.3h0M245.8 214.1h0M112.8 206.9h0M194.1 213h0M119.5 213h0M196.6 214.9h0M99.9 208.9h0M190.7 205.8h0M196 207.3h0M106.3 214.4h0M192 213.6h0M194.2 207.7h0M122.4 207.1h0M95.4 213.9h0M181.4 149.7h0M166.9 176.6h0M184.7 150.3h0M142.1 178.5h0M133 171.8h0M147.6 184.4h0M174.7 157.3h0M173.8 154.4h0M167.9 173.4h0M133.9 176h0M169.2 171.3h0M161.8 186.1h0M176.5 161.5h0M134.4 176.3h0M185.2 155.5h0M176.6 164.4h0M130.1 170.1h0M178.2 156.2h0M139.5 172.7h0M171.1 162h0M131.7 160.8h0M175.5 157.8h0M148.6 188.3h0M132.5 177.2h0M180.3 161.6h0M171.2 163.4h0M170.4 165.9h0M164.7 170.9h0M128.1 173.9h0M130.6 175.8h0M175 165.3h0M126.2 174.9h0M185.6 151.7h0M178.5 159.7h0M174.7 152.1h0" stroke="#bdbdbd" stroke-width="2.4" stroke-linecap="round" fill="none"/>
<path d="M116.3 192.1h0M93.4 203.8h0M114.3 192h0M114.6 197.6h0M118.4 185.9h0M101.8 196.9h0M118.8 202.6h0M116.1 201.4h0M117.7 201.3h0M118.5 202h0M113 200.6h0M110.8 199.6h0M122.5 185.1h0M122.1 203.3h0M114 187.8h0M121.6 200.7h0M101 193.9h0M117 195.8h0M95 190.5h0M108.7 194.2h0M119 197.1h0M112.7 199.3h0M110 200h0M105.6 200.4h0M121.3 186.5h0M115.4 197.8h0M118.1 185.8h0M106.4 203.4h0M108.9 185h0M118.3 197.2h0M109 197.6h0M111.4 202.1h0M115.7 188.9h0M117.1 192.8h0M110.1 203.2h0M107.8 201.1h0M122.7 200h0M101 196.3h0M96.1 195.8h0M111.8 186.5h0M117.8 199.4h0M122.7 199.1h0M120.4 196.9h0M109.6 180.2h0M115.6 188.6h0M121.8 199.9h0M117 193.6h0M111.9 193.5h0M121.8 201.4h0M89.2 200.3h0M113.6 194.9h0M102 198.9h0M112.8 199.9h0M113.4 200.4h0M120.4 202.6h0M116 195.9h0M117.7 184.9h0M107.1 201.5h0M112.8 195.7h0M119.2 195.3h0M115.6 203.3h0M116 203.2h0M110.3 203.7h0M118.1 193h0M117 186.6h0M121.2 199.3h0M90.7 202.7h0M104.5 202.8h0M114.7 195.6h0M100.3 199.9h0M102.3 201.3h0M94 203.7h0M119.2 202h0M114.6 196.4h0M97.4 164.4h0M91 176h0" stroke="#3a62a8" stroke-width="2.5" stroke-linecap="round" fill="none" stroke-opacity="0.6"/>
<path d="M122.1 197.7h0M112.4 196.5h0M104.8 192.6h0M115.2 198.8h0M119.1 189.5h0M117.6 193.8h0M116.5 196.7h0M118.5 193.7h0M105 199.7h0M118.6 197.9h0M115 203.4h0M117.4 191.7h0M92.4 202.4h0M110.1 197.7h0M109.7 202.8h0M104.3 199.1h0M113.7 194.2h0M114.9 187.5h0M106 200.3h0M96.4 195.2h0M109.5 178.9h0M115.5 177.5h0M118.8 197.8h0M119.2 201.1h0M112.3 180.5h0M115.9 201.4h0M99.1 202.4h0M115.4 187.9h0M119.9 198.5h0M118.4 203.5h0M119 187h0M120.3 196.9h0M114.5 203h0M97.2 201.4h0M120.9 200.4h0M116.6 200.1h0M107.9 200.2h0M116.3 196.3h0M122.3 198.5h0M112.4 197.1h0M115.4 203.4h0M115.7 192.5h0M112.1 199.1h0M117.1 193h0M119.9 198.3h0M111 193h0M104.5 200.3h0M115 200.6h0M120.8 191.9h0M116.1 190.2h0M119.6 191.6h0M120.8 203.4h0M117.8 199.7h0M104.4 203.5h0M113.1 197.4h0M119.1 197.4h0M117.6 198.7h0M92.1 202.5h0M104.1 203.2h0M118.8 198.4h0M111.5 196.5h0M109.6 196.5h0M114.9 184.2h0M119.2 193.2h0M116.6 192.5h0M117.4 194.6h0M120.5 179.4h0M116.9 189.2h0M118.4 202.3h0M117.1 201.8h0M95.7 202.9h0M119.9 200.6h0M97.2 195.2h0M98 203.6h0M121 158.7h0M95 182h0" stroke="#3a62a8" stroke-width="2.5" stroke-linecap="round" fill="none" stroke-opacity="0.6"/>
<path d="M106.3 199.6h0M112.1 202h0M120.2 200.9h0M121.8 185.1h0M120.2 192.1h0M108.8 191.3h0M119.6 198h0M114.1 188h0M112.1 202.2h0M121 190.2h0M118 193.3h0M117.3 201h0M121.2 201.8h0M114.4 199.3h0M93.6 202.7h0M114.4 186h0M108.2 198.5h0M110.6 197.6h0M116 201.5h0M108.7 192h0M113.9 202.1h0M118.8 202.7h0M115.8 201.7h0M118.7 200.1h0M100 201.5h0M117.8 203.2h0M115.3 202.9h0M113.3 197.8h0M116.3 201.3h0M116.5 203.3h0M115.5 190.6h0M121.1 200h0M118.3 203.2h0M103.5 196.3h0M118.8 188.1h0M115.3 201.7h0M118.4 200h0M117.1 200.6h0M112.1 200.4h0M116 188h0M107.7 193.4h0M116.1 197.1h0M99.8 196.9h0M118.4 203.2h0M116 202.6h0M111.5 170.3h0M116.8 185.8h0M110 199.7h0M108.9 203.3h0M113.5 199.4h0M115.9 200.5h0M119.4 193.4h0M115.9 202.4h0M117.5 189.4h0M99.1 203.4h0M114.8 194.3h0M115.7 196.5h0M113.5 179.3h0M93.5 202.9h0M101.1 201.2h0M119.5 196.6h0M120.3 194.7h0M120.5 202.4h0M95.2 203h0M87.3 199h0M122.6 192.7h0M121.1 191.3h0M104.6 200.3h0M94.7 199.6h0M113 198.8h0M114.1 200.9h0M114 190.2h0M119.8 179.2h0M103.6 161.2h0M121.8 166.9h0M119 172h0" stroke="#3a62a8" stroke-width="2.5" stroke-linecap="round" fill="none" stroke-opacity="0.6"/>
<path d="M118.9 193.4h0M97.2 202.9h0M105.5 198.3h0M121.5 193.9h0M117.4 197.9h0M117.9 177.8h0M118.5 197h0M118 189.6h0M118.2 195.5h0M121.4 199h0M112.5 199.4h0M106 188.1h0M107.9 202.6h0M101 201.6h0M120.9 194.5h0M117.9 202h0M122.6 193h0M122.7 200h0M110.5 199.7h0M98.2 197.9h0M90.7 203.5h0M115.4 199.1h0M120.1 197.7h0M108.7 199.4h0M107.8 203.7h0M98.4 203.3h0M108.7 176.7h0M97.6 190.3h0M105 201.7h0M97 198h0M113.8 193.8h0M116.4 196h0M111.3 181.1h0M106.7 197.7h0M105.6 200.1h0M116.4 186.9h0M92.3 195h0M122.1 194.6h0M111 201.1h0M118.9 197.6h0M93.6 191.2h0M120 187.2h0M115 197.3h0M109.8 201.8h0M114.1 193h0M106.3 197.1h0M117.5 201.3h0M117.5 199.2h0M120.1 198.1h0M104.8 193.6h0M94.4 198.8h0M116.4 198.8h0M109.2 198.3h0M112 196.2h0M112.2 201.5h0M98.3 200.8h0M96.6 191.8h0M111.8 202.7h0M104.8 203h0M120.3 188.4h0M114.1 198.1h0M94.9 203h0M110.7 195.8h0M100.5 194.3h0M109.2 201.4h0M119.7 201.4h0M105.6 202.5h0M114.3 203.4h0M112 203.3h0M108.4 193.1h0M118.6 199.1h0M108.1 200h0M106.1 200.3h0M114.8 165.4h0M88 188h0M116 170h0" stroke="#3a62a8" stroke-width="2.5" stroke-linecap="round" fill="none" stroke-opacity="0.6"/>
<path d="M211 186.2h0M194.3 195.2h0M238 189.7h0M193.5 201.7h0M195.4 172.8h0M200.2 203.5h0M233 175.7h0M194.5 193.2h0M194.8 199.2h0M195.2 201.3h0M199.2 153.2h0M201.9 199.4h0M200.1 196.6h0M194.8 201.1h0M191 197.8h0M192.1 194.7h0M189 192.1h0M194.4 203.4h0M195.7 200.6h0M188.3 202.7h0M194.8 183.8h0M212.7 197.5h0M200.4 196.1h0M188.5 196.4h0M218.3 193.3h0M196.9 172.6h0M233.9 202.5h0M213.5 200h0M189.9 153.8h0M210.4 192.9h0M261.2 201.3h0M202.4 148.3h0M207 200.2h0M191.8 189.6h0M201.2 195.9h0M199.8 157.2h0M191.8 158.3h0M204.8 195h0M198.2 152.8h0M207.7 181.5h0M206.1 187.7h0M201.4 185.9h0M207.8 193h0M196.3 175h0M191.6 182h0M214.2 196.4h0M195 188.7h0M199.6 191.3h0M241.6 196.2h0M189.3 163.1h0M240.6 170.6h0M198.5 197.2h0M194 191.4h0M197.4 202.3h0M197.6 165.2h0M203 196.4h0M191.2 190.5h0M203.5 189.1h0M195.6 185.8h0M189.9 190.5h0M192.5 200.5h0M213.9 144.7h0M215.3 196.5h0M230.7 203.3h0M208.1 201.8h0M205.8 200.1h0M207.7 188.7h0M221.2 198.2h0M194.1 182h0M224.3 189.2h0M213.6 195.6h0M193.6 184.4h0M187.8 203.7h0M211.1 203.7h0M198.9 146.3h0M196.8 193h0M199.6 197.4h0M187.7 194.2h0M190.5 194.7h0M202.4 194.8h0M200.2 138.2h0M188.4 200h0M197.7 185.1h0M203.4 198.1h0M210.2 194.5h0M193.4 172.3h0M188.4 167.4h0M188.9 196.7h0M193.4 188.8h0M217.1 185.6h0M228.6 179.6h0M196.6 194.7h0M190.6 199.1h0M193.5 194.9h0M213.7 176.3h0M197.2 203.4h0M189.5 202.8h0M198 191.8h0M199.5 195.2h0M207.9 173.4h0M194.4 183.2h0M196.4 161.9h0M234.1 201.4h0M198.4 169.8h0M208.6 154.6h0M196.4 202h0M209.2 190.7h0M197 191.8h0M212.8 195.4h0M197.8 202.5h0M190 191.1h0M205.1 200.8h0M208.1 188.1h0M195.1 193.6h0M205.2 200h0M214.9 196.6h0M210.7 191.9h0M205.6 180.1h0M188.2 177h0M203.6 203.5h0M201.6 195.1h0M226 183.2h0M210 129.7h0M194.5 200.9h0M195.2 174.6h0M203.3 194.6h0M194.4 154.2h0M212.2 186.9h0M191.9 202.1h0M189.2 202.5h0M194.4 181.6h0M210.6 189.8h0M206.2 201.2h0M223.3 199.5h0M226.9 200.6h0M192 197h0M202.8 182.4h0M189.8 200.3h0M198.4 191.2h0M189.6 179.9h0M247.6 194.9h0M198 194.6h0M191.8 199.9h0M189.3 195.8h0M191.9 188.1h0M210.3 132.8h0M205.7 199.1h0M191.2 200.8h0M194.7 189.9h0M190 175.7h0M197.6 195.6h0M195 155.6h0M196.1 176.2h0M200.7 196.8h0M189.4 196.7h0M192.5 201.2h0M199.2 185.7h0M211.7 200.8h0M208.2 198.7h0M203.9 193.7h0M205.5 178.6h0M191 182.3h0M200.4 175.8h0M197.8 147.2h0M218.4 193.4h0M201.3 170.5h0M188.7 202.5h0M224.3 167.7h0M213 156.2h0M268.3 152.9h0M201.9 192.6h0M243.2 151h0M204.4 176.3h0M201 128.6h0M237.9 190.4h0M205.9 152.5h0M213.5 201.8h0M229.4 176.9h0M257.9 140.6h0M239.2 162.1h0M215.1 189.9h0M230.6 176.3h0M214.8 127.4h0M257.9 133.2h0" stroke="#d63434" stroke-width="2.9" stroke-linecap="round" fill="none" stroke-opacity="0.5"/>
<path d="M198.5 200h0M204.9 200h0M193.1 202h0M193.3 174.1h0M190.5 166h0M188.2 194.7h0M208 203.3h0M215.7 197.9h0M193.5 190.4h0M193.5 173h0M200.7 200.5h0M222.9 171.4h0M200.4 199.1h0M215.3 156.5h0M211.6 188.8h0M205.8 202.8h0M222.5 179.6h0M213.2 149.7h0M195.6 194h0M199.5 203.5h0M197.1 179.2h0M199.5 193.3h0M193 190.6h0M188.5 199.2h0M195.3 155.2h0M211.8 191.3h0M193.6 192.2h0M217.2 190.1h0M194.7 169.3h0M190.6 199.8h0M190.6 201.7h0M198.6 201.2h0M188.4 200.2h0M204.7 193.6h0M194 171.7h0M191.4 199.3h0M204.6 173.4h0M192.6 192.2h0M187.1 180.1h0M220.2 196.3h0M190.4 192.8h0M223.5 190.3h0M187.8 203.8h0M210.6 167.5h0M191.1 182.7h0M216.8 190.2h0M190.2 202.3h0M196.1 196.8h0M197.8 202.1h0M211.8 202h0M205.3 200.3h0M253.5 198.4h0M209.6 199.9h0M196.6 194.6h0M190.5 177.9h0M191.6 167.5h0M188 197h0M221.8 190.8h0M206.1 194.6h0M196.7 202.8h0M205.7 182.1h0M206.7 201h0M214 153.8h0M197.8 194.4h0M191.1 180.8h0M223.4 191.7h0M211 202.8h0M203.2 189.5h0M192 168.8h0M200.2 201h0M191.5 202.5h0M195.4 200.4h0M190.6 189.5h0M213.1 170.5h0M205.2 182h0M211.2 196.8h0M206.3 203.4h0M190.8 194.9h0M204.1 182.9h0M193.1 198.1h0M195.6 194.1h0M193.7 184.9h0M188.5 179.9h0M223.6 199h0M199.1 153h0M193.2 189.5h0M193.8 187.5h0M188.8 190.2h0M195.3 175.4h0M196.3 201.8h0M203.6 201.3h0M189.9 198.8h0M193.4 202.7h0M210.4 182h0M230.1 159.3h0M236.8 182.3h0M200.3 199.5h0M201.9 191.3h0M206.3 172.4h0M211.3 193.8h0M207.4 202.5h0M200.7 177h0M192.9 203.3h0M201.5 202.8h0M230.3 197.2h0M208 189.7h0M189.8 190.8h0M190.6 193.1h0M220.4 202.2h0M198.8 203h0M191.1 163.3h0M202 170.9h0M194.8 196.9h0M191 199.7h0M202.6 203.4h0M189.9 180.4h0M195 201.5h0M216.7 195.8h0M212.4 202.3h0M245.3 198.8h0M214.3 194.3h0M194.1 195.1h0M191.9 184.2h0M195.1 165.7h0M194.8 196.1h0M188.4 180h0M202.3 177h0M194.2 185.2h0M194.3 183.1h0M242.7 167.8h0M201 194.7h0M230.7 184.7h0M202.1 199.2h0M198 197.8h0M203.1 199.5h0M196.2 160.6h0M236.3 180.6h0M194.2 200h0M200.2 202.9h0M194.1 195.2h0M196.6 194.7h0M202.9 192.7h0M227 201h0M210.4 196.5h0M188.9 189.1h0M226.2 201.6h0M188.7 185h0M205.6 192.2h0M189 144.6h0M203.6 131.9h0M194.6 203.7h0M224.7 193.2h0M211.8 202.7h0M215 188.3h0M198.8 199.2h0M204.2 129.2h0M193.3 201.7h0M200.9 183.3h0M222.8 200.3h0M192 176.5h0M193.4 180.1h0M194.2 182.3h0M205 203.8h0M197.1 194.2h0M192.5 203.6h0M189.7 169.2h0M211.1 183.1h0M199.4 186.3h0M218.2 133.3h0M220.3 200.7h0M227.7 162h0M214 154.2h0M209.1 167.1h0M201.5 128.6h0M233 176.1h0M216.8 135.3h0M209.7 136.3h0M216.6 146.9h0M229.2 171.6h0M214.9 152.1h0M240.1 174.2h0M209.8 177.4h0M207.5 164.5h0M285.9 182.5h0" stroke="#d63434" stroke-width="2.9" stroke-linecap="round" fill="none" stroke-opacity="0.5"/>
<path d="M199.2 200.2h0M189.1 197.6h0M196.8 202.6h0M188.1 179.3h0M246.5 190.2h0M196.1 196.8h0M205 195.4h0M194.6 203.5h0M189.1 200.4h0M213.1 201.4h0M228.5 178.1h0M217.6 192h0M192.1 201.6h0M200.6 203.7h0M194 200.8h0M189.3 192h0M269.1 191.7h0M216.3 198.5h0M204.4 188.7h0M198.7 203h0M190.6 200.5h0M187.5 165.7h0M194.3 201.6h0M203.3 199.9h0M200.1 170.6h0M197.9 190.9h0M190.8 191.8h0M190 197.8h0M222.2 189.2h0M195 181.7h0M197.7 136.5h0M197.5 203.4h0M203.5 174.2h0M193.7 193.1h0M194.7 203.2h0M191.9 193.6h0M197.5 178.1h0M208.3 192.6h0M204.5 191.1h0M203.1 201.2h0M187.7 156.8h0M209.2 197.7h0M190 200.7h0M202.6 195.5h0M189 162.1h0M189.1 203.7h0M220.9 190.2h0M213.8 178.6h0M192.2 202.4h0M197.5 201h0M191.9 200h0M197.6 190.9h0M190.7 198.8h0M189.5 171.7h0M189.3 182.9h0M223.4 167.5h0M192.5 201h0M193.1 191.9h0M211.2 199.1h0M196.6 172.8h0M197 201.8h0M190.9 189.4h0M189.6 194.9h0M210 172.4h0M191.8 175.3h0M193.7 197.4h0M204.8 200.9h0M198 195h0M198.9 189.1h0M240.1 201.5h0M197.1 200.1h0M219.9 201.5h0M217.9 201.4h0M195.3 200.7h0M206.6 185.1h0M193.1 163.6h0M195.6 193.5h0M191.9 192.7h0M196.3 190.3h0M198.5 198.3h0M194.2 201.9h0M197.8 195.8h0M239.2 201.9h0M197.3 142.8h0M195.1 199.5h0M205.6 196.5h0M187.5 196.4h0M212.8 202.4h0M234.6 185.7h0M199.4 193.4h0M246.9 202.6h0M196.6 140.9h0M193.3 202.1h0M206.4 193.6h0M187.2 191.3h0M195.6 188.6h0M190.8 197.1h0M193.2 195.5h0M194.1 198.4h0M196.3 201.1h0M196.5 202.1h0M198.9 199.2h0M188.7 163.1h0M223.3 188.2h0M215.7 188.8h0M199.3 197.7h0M202 202.2h0M210.3 186.1h0M207.1 198.5h0M188.8 168.1h0M194.8 195.8h0M189.9 199.1h0M200.8 181.6h0M201.4 191.9h0M224 188.6h0M193.7 182.9h0M201.3 201.4h0M189.6 165h0M197.6 186.8h0M256.8 200.6h0M195.8 179.2h0M198.9 200.7h0M192.1 182.2h0M193.6 170h0M197.2 197.9h0M188.2 200.6h0M192.7 195.3h0M215.4 201.4h0M200 197.7h0M222.1 163.4h0M187.4 184.8h0M191.1 168.9h0M226.3 194h0M194 172.8h0M188.8 199.9h0M190.6 202.4h0M213.2 200.8h0M200.7 195.9h0M201 195.7h0M193 154.6h0M190.5 178.4h0M201.1 191.9h0M189.5 190.7h0M197.5 187.9h0M196.9 188.3h0M189.7 203.8h0M194.4 182.1h0M212.9 197.9h0M217 171.4h0M189.1 190.7h0M197.3 170h0M209.3 189.5h0M187.7 187.4h0M226.3 173.5h0M195.7 179h0M188.9 194h0M191.5 183.6h0M196.1 202.2h0M199.7 193.5h0M193.8 200.1h0M213.2 197.9h0M200.3 195.5h0M196 169.5h0M200.5 163.1h0M207.4 198.3h0M207.7 133.8h0M269.8 168h0M199.2 200.6h0M258.3 132h0M199.8 146.4h0M205.2 161.5h0M217.8 170.9h0M239.8 180h0M204.1 166.9h0M195.2 189.5h0M201.8 177.3h0M213.6 194.1h0M220.3 135.2h0M210.8 140h0M249.5 152.6h0M246.7 197.6h0M247 140.9h0M223.1 139.8h0M213.8 180.4h0" stroke="#d63434" stroke-width="2.9" stroke-linecap="round" fill="none" stroke-opacity="0.5"/>
<path d="M194.7 203.2h0M207.5 182.4h0M194 180.3h0M193.6 196.3h0M204.8 180.2h0M188.3 191.1h0M190.6 135.7h0M191.6 175.8h0M203.5 186.9h0M191.2 189.7h0M201.9 182.6h0M206.9 201.3h0M198.7 185.7h0M223 203.5h0M190 198h0M188.7 178.4h0M199.7 201.5h0M200.2 147.4h0M208 194.3h0M189.9 194.1h0M188.7 179.6h0M214.7 179.9h0M190.6 195.1h0M193.3 191.9h0M204.7 185.1h0M214.6 156.1h0M203.5 189.8h0M188.6 181.4h0M199.3 197h0M213.1 199.4h0M195.7 171.4h0M210 192.3h0M258.6 189.1h0M225.3 151.4h0M194.5 200.7h0M220.9 189.6h0M193.1 188.1h0M195.9 176.1h0M193 192.9h0M201.9 145.5h0M193.6 198.6h0M195.7 182.6h0M193.9 181.1h0M195.3 183.2h0M212.1 192.8h0M198.6 199.7h0M223.4 199.4h0M206.6 169.4h0M194.5 195.8h0M201.1 183.2h0M208.7 179.6h0M193.8 167h0M229.9 202.9h0M222.5 202.9h0M196.7 185.4h0M233.6 183.3h0M198.4 201.3h0M208.2 189.3h0M204.2 180.5h0M190.6 199.6h0M197.5 189.3h0M197.7 194h0M206.1 157.2h0M213.4 180h0M240 192.4h0M213.1 174.3h0M202.2 194h0M205.1 192h0M205.9 186.5h0M226.8 199.1h0M209.4 178.5h0M193.9 170.7h0M191.2 194.5h0M191.4 202.5h0M190.8 180.2h0M204 202.5h0M188.9 183.8h0M188.3 199.5h0M189.8 189.9h0M200.5 172.3h0M203.2 185.7h0M196.2 192.9h0M197.9 202.1h0M197.7 177.7h0M195.3 194.6h0M223.2 194.4h0M197.9 190.4h0M208.6 199.4h0M189.9 187h0M199.4 199h0M222.8 187.8h0M189.9 202.3h0M203.1 199.7h0M197 165.4h0M195.2 202h0M190.4 175.1h0M190.6 198h0M193.8 179.1h0M188.5 203.8h0M190.6 193.8h0M199.2 144.6h0M197.6 194.3h0M190.7 200.8h0M213.8 196.9h0M193.2 194.5h0M207.6 190.9h0M193.1 202.6h0M217.2 203.1h0M194.3 190.1h0M194.2 198.8h0M193.4 201.4h0M195 180.6h0M216.4 194.6h0M190.8 203.5h0M193.7 183.8h0M197.6 192.2h0M192 180.4h0M206.4 199h0M195.3 143.1h0M193.8 200.4h0M196.7 190.6h0M202.5 197.8h0M195.3 196.6h0M203.8 196h0M197.9 201.7h0M188.1 192.5h0M192.7 193.2h0M187.6 201.7h0M188.9 170.2h0M214.7 176.4h0M236.4 180.1h0M195.3 176.6h0M219.1 191.5h0M188.4 203.5h0M196.7 203.2h0M188 203.4h0M204.7 182.3h0M209.8 185.8h0M198.3 199.6h0M222.6 174.4h0M202.1 201.6h0M191.2 200.5h0M216.6 192.9h0M200.8 169.7h0M207 199.6h0M192.3 190.8h0M192.1 182.4h0M189.6 201h0M195.2 201.2h0M190.6 196.5h0M203.3 169.9h0M196.6 156.9h0M189.8 195h0M193.4 188h0M197.2 199.7h0M190.3 176.5h0M192.5 199.1h0M195.5 199.2h0M220.3 190.8h0M207.4 199.7h0M218.4 191.6h0M203 203.7h0M221.2 194.8h0M207 201.9h0M197.9 176.7h0M188.9 183.7h0M210.5 134h0M202.7 188.1h0M227.7 131.7h0M198.7 158.1h0M253.5 136.8h0M197.4 196.2h0M213.4 189.2h0M204 166.6h0M204.4 178.2h0M208.8 178h0M226.5 153.8h0M268.1 200.8h0M214.3 199.6h0M196.2 180.4h0M234.2 197.6h0M217.6 133.5h0M231.3 159.5h0M211.6 170.1h0" stroke="#d63434" stroke-width="2.9" stroke-linecap="round" fill="none" stroke-opacity="0.5"/>
<path d="M196.4 203.8h0M214.5 178.8h0M202.6 179.3h0M206.4 144.7h0M200.1 171.4h0M199.9 200.2h0M195.5 202.7h0M230.7 156.5h0M203.7 202.7h0M218.4 168.9h0M195.3 190h0M193.3 201.1h0M188.4 175.4h0M203 189.8h0M206.1 186.9h0M213.1 198.3h0M199 196.1h0M203.7 162.2h0M199 192.6h0M196.1 184.7h0M223.6 199h0M195 200.8h0M193.9 183h0M193 176h0M219.8 188.2h0M200.9 201.2h0M213.7 153.7h0M195.1 166.7h0M197.9 185.3h0M193.7 203.6h0M189.8 194h0M198.1 200.8h0M197.1 195.2h0M204.1 169.6h0M188.8 182.1h0M188.7 190.4h0M199.9 191.2h0M188.4 182.9h0M230.9 203.4h0M197.4 185.2h0M199.7 184.6h0M205.2 177.2h0M207.2 202.1h0M208.4 173.9h0M193.4 191.3h0M193.8 134.9h0M191.1 198.9h0M204.3 193.3h0M212.8 194.5h0M195 203.4h0M188.6 173.8h0M190.8 199.8h0M214.8 185.3h0M208.8 184.8h0M190.8 193.5h0M224.6 175.2h0M190.5 183.7h0M197.5 172.7h0M203.3 198.4h0M205.8 185h0M210.6 192.9h0M206.6 203.4h0M224.6 198.4h0M214 202.5h0M206.6 187.6h0M195 191.9h0M203.2 189.3h0M210.4 194.7h0M229.6 165.3h0M212.7 201.9h0M191.3 200h0M194.7 200h0M203 174.4h0M206.3 193.4h0M188.9 186.2h0M193.4 189.8h0M201 168.6h0M215.1 185.9h0M189.2 173.8h0M197 199.2h0M191.7 183.5h0M192.5 197h0M205.3 186.3h0M224.2 179.1h0M197.1 200.9h0M214.5 182.2h0M275.2 186.5h0M199.7 192.5h0M198.8 200.6h0M192.7 197.7h0M205.4 132.1h0M214.9 199h0M188.7 191.5h0M188.5 202.7h0M211.8 193.2h0M212 202.5h0M208.1 183.3h0M199 183.4h0M200.5 198h0M199.1 171.2h0M194.1 194.7h0M193.3 194.9h0M190.2 201.4h0M197.7 178.9h0M204 151.7h0M193.1 197.7h0M196.8 203.2h0M215.4 198h0M190 196.8h0M191.8 200.2h0M202.2 185.8h0M210 200.7h0M213.4 202.4h0M207.3 175.7h0M191.1 197.6h0M203.7 171.7h0M217.8 183.6h0M196.6 185h0M205.5 179.1h0M198.1 193.2h0M199.1 201h0M208.9 201.1h0M188.9 190h0M201.3 172.4h0M192.1 147.7h0M187.3 201.3h0M190.4 185.4h0M211.2 178.1h0M194.7 197.4h0M197.6 186.9h0M201.3 178.5h0M227.5 200.8h0M187.7 188.7h0M203.7 202.1h0M197.4 193.4h0M197.4 188.8h0M188.5 189.9h0M190.6 189.5h0M194.9 192.6h0M190.6 135.8h0M193.5 181.4h0M188.7 181.1h0M195.5 203.5h0M189.3 202.8h0M212.1 148.9h0M193.1 189.6h0M198.8 196.2h0M200.6 202.4h0M190.5 197.3h0M192.9 167.5h0M192 190.6h0M197.1 194.5h0M190.6 160.4h0M237.1 194.4h0M204.2 193.2h0M198.4 192.5h0M206.6 201.7h0M192.4 199.5h0M193.4 184h0M209.6 202.3h0M203.2 201.3h0M210.4 198.9h0M194.5 174.8h0M197.7 180.7h0M215.4 149.3h0M199 156.3h0M221 127.7h0M237.5 141.7h0M203.6 178.8h0M218.6 137.6h0M225.5 158.2h0M212.2 177h0M198.6 180.3h0M211 131.9h0M198.1 168.3h0M244.5 182.7h0M213.7 178.2h0M272 150.4h0M228.9 178.4h0M200.5 151.1h0M217.6 129.1h0M201.4 155.9h0M200.7 169.3h0M230.4 175.6h0" stroke="#d63434" stroke-width="2.9" stroke-linecap="round" fill="none" stroke-opacity="0.5"/>
<path d="M196.6 202.5h0M207.9 202.5h0M209.9 199.4h0M192.5 128.8h0M188.6 184.4h0M217.6 203h0M206.7 167h0M192.6 201.8h0M200 175.2h0M195.7 198.6h0M189 169.9h0M209 198.2h0M224.5 200.6h0M195.8 197.2h0M200 198.1h0M205.6 201.8h0M204.1 202.6h0M205.9 189.1h0M192.8 198.7h0M200 199.5h0M191.8 202.3h0M197 201.4h0M199.2 190.3h0M192.3 196.5h0M193.7 195h0M188.9 201.2h0M187.4 146.7h0M195.4 196.5h0M209.2 170.7h0M187.4 185.2h0M214.8 202.7h0M210.2 203.7h0M201.5 199.3h0M212.5 203.8h0M195.6 165.6h0M187.2 195.4h0M197.9 201.4h0M193.3 193.6h0M223.8 176.4h0M188.8 173.4h0M189.1 202.8h0M187.8 199.5h0M192.9 194.6h0M219 201.4h0M188.3 199.8h0M199.1 199.6h0M189.3 201.2h0M205.2 177.3h0M193.4 199.9h0M190 200.6h0M205.2 193h0M187.9 187.8h0M216.6 190.4h0M214.8 194.9h0M202.5 165h0M211.4 196.7h0M197.8 192.3h0M239.6 169.9h0M191.9 154.2h0M201.2 198.6h0M189.6 199h0M221.8 196.9h0M198.6 190.3h0M194.2 182.5h0M216.9 152.9h0M209.6 198.8h0M215.5 193.4h0M242.5 162.1h0M207.6 184.4h0M198.7 202.3h0M206 175.6h0M192.1 203.1h0M200.4 200.3h0M187.2 200.9h0M193.5 198h0M208.1 189.6h0M189.5 188h0M194 198.5h0M213.4 196.6h0M197.9 197.8h0M192.8 190.8h0M218.8 195h0M196.9 191.3h0M214.7 200.3h0M208.9 193.7h0M195.5 164.8h0M202.1 157h0M205 200.5h0M203 185.7h0M215.9 196.3h0M187.6 165.7h0M189.6 190.6h0M209.8 198.2h0M196.8 189.2h0M213.9 192h0M190.8 195.6h0M197.4 196h0M190.8 192.8h0M193.2 189.3h0M196.1 194.8h0M198.6 183.2h0M214.4 196.7h0M197 157.3h0M210.1 181.6h0M245.8 189.9h0M214 191h0M188.6 182.4h0M196.8 203.1h0M209.9 196.2h0M217 202.7h0M212.5 203h0M205.7 175h0M270.9 192.1h0M188.8 186.5h0M189.1 188.6h0M205.9 177.9h0M191.2 198.2h0M188.5 149.7h0M200.7 202h0M208.1 199.1h0M195.4 198.2h0M200.4 177.7h0M196.8 202.9h0M192.2 200.4h0M203.7 188.3h0M194.3 182.8h0M239.6 136h0M188.9 199.6h0M202.9 189.7h0M215.3 188.8h0M189.5 190.9h0M190.1 170h0M203.2 194.7h0M195.5 163.1h0M188.1 201.6h0M196.4 193.2h0M203.4 193.8h0M194.8 189.8h0M203.9 199.4h0M196 201.7h0M192.3 177.4h0M190.5 193h0M212.4 199.8h0M195.2 189.4h0M214.1 202.2h0M220.2 181.9h0M187.7 200.5h0M188.2 158.1h0M194.2 203.5h0M234.3 194.4h0M195 195.8h0M195.5 193.1h0M197.1 192.9h0M201.5 186.9h0M229.3 189.5h0M193.7 187.8h0M193 203.6h0M212.1 169.8h0M203.9 174.6h0M196.6 182.4h0M190.3 195.6h0M209.4 203.3h0M209.1 202.7h0M258.4 201.6h0M188.6 199.4h0M192.4 194.4h0M205.5 175.7h0M199.9 187.9h0M208.4 201.6h0M262.9 198.9h0M208.2 140.6h0M198.7 136.1h0M206.9 185.3h0M249.3 174.5h0M196.8 185.8h0M243.7 201.9h0M205.6 138.9h0M207.8 148.9h0M212.3 175.1h0M208.6 191.9h0M234.3 151.6h0M246.6 166.7h0M213.7 189.7h0M207.1 126.3h0" stroke="#d63434" stroke-width="2.9" stroke-linecap="round" fill="none" stroke-opacity="0.5"/>
<line x1="123.3" y1="-6.4" x2="123.3" y2="240" stroke="#111" stroke-width="1.1" stroke-dasharray="5.2 14.6 21 15.4" />
<line x1="187.4" y1="-6.4" x2="187.4" y2="240" stroke="#111" stroke-width="1.1" stroke-dasharray="5.2 14.6 21 15.4" />
<line x1="23.4" y1="203.6" x2="340" y2="203.6" stroke="#111" stroke-width="1.1" stroke-dasharray="20 15.5 5 15.5" />
<path d="M329.5 46h0M253 64.5h0M247 76h0M256 82h0M238 91h0M262 92.5h0M245 100h0M262.5 103h0M288 104h0M300 110h0M214 103h0M220 112h0M238 108h0M262 119h0M302 118h0M296 128h0M292 138h0M285 149h0M290 156h0M266 166h0M291 172h0M289 176h0" stroke="#e06868" stroke-width="2.4" stroke-linecap="round" fill="none"/>
</g>
<line x1="121" y1="143.7" x2="121.3" y2="158.2" stroke="#555" stroke-width="0.6" />
<line x1="105" y1="154.9" x2="104" y2="160.6" stroke="#555" stroke-width="0.6" />
<line x1="94.9" y1="163.5" x2="114.2" y2="165.2" stroke="#555" stroke-width="0.6" />
<line x1="127.5" y1="159.2" x2="122.5" y2="166.2" stroke="#555" stroke-width="0.6" />
<line x1="277.5" y1="161.3" x2="267" y2="165.6" stroke="#555" stroke-width="0.6" />
<line x1="329" y1="105" x2="324" y2="113" stroke="#555" stroke-width="0.6" />
<line x1="291" y1="112" x2="287" y2="118" stroke="#555" stroke-width="0.6" />
<rect x="302" y="42.9" width="23.4" height="6.6" rx="1.6" fill="#fff" stroke="#1a1a1a" stroke-width="1.3"/>
<text x="313.8" y="48.5" font-size="6.4" text-anchor="middle" fill="#000" stroke="#000" stroke-width="0.22" textLength="20.9" lengthAdjust="spacingAndGlyphs">FDCSP</text>
<rect x="250.6" y="56.9" width="27.4" height="6.1" rx="1.6" fill="#fff" stroke="#1a1a1a" stroke-width="1.3"/>
<text x="264.2" y="62.3" font-size="6.4" text-anchor="middle" fill="#000" stroke="#000" stroke-width="0.22" textLength="24.9" lengthAdjust="spacingAndGlyphs">HS6ST2</text>
<rect x="211.6" y="66" width="34.9" height="7.1" rx="1.6" fill="#fff" stroke="#1a1a1a" stroke-width="1.3"/>
<text x="229" y="71.8" font-size="6.4" text-anchor="middle" fill="#000" stroke="#000" stroke-width="0.22" textLength="32.4" lengthAdjust="spacingAndGlyphs">ARHGAP40</text>
<rect x="256.1" y="73" width="32.9" height="7.6" rx="1.6" fill="#fff" stroke="#1a1a1a" stroke-width="1.3"/>
<text x="272.5" y="79" font-size="6.4" text-anchor="middle" fill="#000" stroke="#000" stroke-width="0.22" textLength="30.4" lengthAdjust="spacingAndGlyphs">TMEM59L</text>
<rect x="224.6" y="75.5" width="25.9" height="7.6" rx="1.6" fill="#fff" stroke="#1a1a1a" stroke-width="1.3"/>
<text x="237.5" y="81.5" font-size="6.4" text-anchor="middle" fill="#000" stroke="#000" stroke-width="0.22" textLength="23.4" lengthAdjust="spacingAndGlyphs">EPHA10</text>
<rect x="204.1" y="84" width="23.9" height="6.6" rx="1.6" fill="#fff" stroke="#1a1a1a" stroke-width="1.3"/>
<text x="216" y="89.5" font-size="6.4" text-anchor="middle" fill="#000" stroke="#000" stroke-width="0.22" textLength="21.4" lengthAdjust="spacingAndGlyphs">ABCC3</text>
<rect x="250.1" y="83" width="23.9" height="7.1" rx="1.6" fill="#fff" stroke="#1a1a1a" stroke-width="1.3"/>
<text x="262" y="88.8" font-size="6.4" text-anchor="middle" fill="#000" stroke="#000" stroke-width="0.22" textLength="21.4" lengthAdjust="spacingAndGlyphs">MUC21</text>
<rect x="224.6" y="93" width="21.4" height="6.1" rx="1.6" fill="#fff" stroke="#1a1a1a" stroke-width="1.3"/>
<text x="235.2" y="98.3" font-size="6.4" text-anchor="middle" fill="#000" stroke="#000" stroke-width="0.22" textLength="18.9" lengthAdjust="spacingAndGlyphs">SFTA3</text>
<rect x="252.6" y="92" width="21.4" height="7.1" rx="1.6" fill="#fff" stroke="#1a1a1a" stroke-width="1.3"/>
<text x="263.2" y="97.8" font-size="6.4" text-anchor="middle" fill="#000" stroke="#000" stroke-width="0.22" textLength="18.9" lengthAdjust="spacingAndGlyphs">CRABP2</text>
<rect x="278" y="96" width="25.9" height="6.6" rx="1.6" fill="#fff" stroke="#1a1a1a" stroke-width="1.3"/>
<text x="291" y="101.5" font-size="6.4" text-anchor="middle" fill="#000" stroke="#000" stroke-width="0.22" textLength="23.4" lengthAdjust="spacingAndGlyphs">GLB1L3</text>
<rect x="311.5" y="98" width="20.9" height="7.1" rx="1.6" fill="#fff" stroke="#1a1a1a" stroke-width="1.3"/>
<text x="322" y="103.8" font-size="6.4" text-anchor="middle" fill="#000" stroke="#000" stroke-width="0.22" textLength="18.4" lengthAdjust="spacingAndGlyphs">NELL1</text>
<rect x="193.1" y="97.5" width="20.9" height="6.6" rx="1.6" fill="#fff" stroke="#1a1a1a" stroke-width="1.3"/>
<text x="203.5" y="103" font-size="6.4" text-anchor="middle" fill="#000" stroke="#000" stroke-width="0.22" textLength="18.4" lengthAdjust="spacingAndGlyphs">ADM2</text>
<rect x="207.6" y="105" width="23.4" height="6.1" rx="1.6" fill="#fff" stroke="#1a1a1a" stroke-width="1.3"/>
<text x="219.2" y="110.3" font-size="6.4" text-anchor="middle" fill="#000" stroke="#000" stroke-width="0.22" textLength="20.9" lengthAdjust="spacingAndGlyphs">GDF15</text>
<rect x="235.6" y="101" width="15.4" height="6.6" rx="1.6" fill="#fff" stroke="#1a1a1a" stroke-width="1.3"/>
<text x="243.2" y="106.5" font-size="6.4" text-anchor="middle" fill="#000" stroke="#000" stroke-width="0.22" textLength="12.9" lengthAdjust="spacingAndGlyphs">XDH</text>
<rect x="286" y="105" width="24.9" height="7.1" rx="1.6" fill="#fff" stroke="#1a1a1a" stroke-width="1.3"/>
<text x="298.5" y="110.8" font-size="6.4" text-anchor="middle" fill="#000" stroke="#000" stroke-width="0.22" textLength="22.4" lengthAdjust="spacingAndGlyphs">CXCL13</text>
<rect x="246.1" y="110" width="38.9" height="7.1" rx="1.6" fill="#fff" stroke="#1a1a1a" stroke-width="1.3"/>
<text x="265.5" y="115.8" font-size="6.4" text-anchor="middle" fill="#000" stroke="#000" stroke-width="0.22" textLength="36.4" lengthAdjust="spacingAndGlyphs">FEZF1-AS1</text>
<rect x="292.5" y="126" width="24.9" height="6.6" rx="1.6" fill="#fff" stroke="#1a1a1a" stroke-width="1.3"/>
<text x="305" y="131.6" font-size="6.4" text-anchor="middle" fill="#000" stroke="#000" stroke-width="0.22" textLength="22.4" lengthAdjust="spacingAndGlyphs">SPINK1</text>
<rect x="276.7" y="140" width="17.7" height="6.1" rx="1.6" fill="#fff" stroke="#1a1a1a" stroke-width="1.3"/>
<text x="285.6" y="145.3" font-size="6.4" text-anchor="middle" fill="#000" stroke="#000" stroke-width="0.22" textLength="15.2" lengthAdjust="spacingAndGlyphs">CST1</text>
<rect x="292.5" y="149" width="24.4" height="6.6" rx="1.6" fill="#fff" stroke="#1a1a1a" stroke-width="1.3"/>
<text x="304.8" y="154.6" font-size="6.4" text-anchor="middle" fill="#000" stroke="#000" stroke-width="0.22" textLength="21.9" lengthAdjust="spacingAndGlyphs">SYT16</text>
<rect x="277.5" y="158" width="21.4" height="6.6" rx="1.6" fill="#fff" stroke="#1a1a1a" stroke-width="1.3"/>
<text x="288.2" y="163.6" font-size="6.4" text-anchor="middle" fill="#000" stroke="#000" stroke-width="0.22" textLength="18.9" lengthAdjust="spacingAndGlyphs">CLDN6</text>
<rect x="292.5" y="167" width="21.9" height="7.1" rx="1.6" fill="#fff" stroke="#1a1a1a" stroke-width="1.3"/>
<text x="303.5" y="172.8" font-size="6.4" text-anchor="middle" fill="#000" stroke="#000" stroke-width="0.22" textLength="19.4" lengthAdjust="spacingAndGlyphs">FADS6</text>
<rect x="288.7" y="177" width="18.7" height="7.1" rx="1.6" fill="#fff" stroke="#1a1a1a" stroke-width="1.3"/>
<text x="298.1" y="182.8" font-size="6.4" text-anchor="middle" fill="#000" stroke="#000" stroke-width="0.22" textLength="16.2" lengthAdjust="spacingAndGlyphs">TBXT</text>
<rect x="92" y="137" width="30.3" height="6.8" rx="1.6" fill="#fff" stroke="#1a1a1a" stroke-width="1.3"/>
<text x="107.1" y="142.7" font-size="6.4" text-anchor="middle" fill="#000" stroke="#000" stroke-width="0.22" textLength="27.8" lengthAdjust="spacingAndGlyphs">KCNMB4</text>
<rect x="88" y="148.2" width="23.8" height="6.8" rx="1.6" fill="#fff" stroke="#1a1a1a" stroke-width="1.3"/>
<text x="99.8" y="153.9" font-size="6.4" text-anchor="middle" fill="#000" stroke="#000" stroke-width="0.22" textLength="21.3" lengthAdjust="spacingAndGlyphs">GLP2R</text>
<rect x="73" y="157.9" width="21.9" height="7.1" rx="1.6" fill="#fff" stroke="#1a1a1a" stroke-width="1.3"/>
<text x="83.9" y="163.7" font-size="6.4" text-anchor="middle" fill="#000" stroke="#000" stroke-width="0.22" textLength="19.4" lengthAdjust="spacingAndGlyphs">MYH2</text>
<rect x="72.5" y="166.2" width="22.9" height="7" rx="1.6" fill="#fff" stroke="#1a1a1a" stroke-width="1.3"/>
<text x="83.9" y="171.9" font-size="6.4" text-anchor="middle" fill="#000" stroke="#000" stroke-width="0.22" textLength="20.4" lengthAdjust="spacingAndGlyphs">BTNL8</text>
<rect x="124.2" y="151.9" width="35.6" height="7.4" rx="1.6" fill="#fff" stroke="#1a1a1a" stroke-width="1.3"/>
<text x="141.9" y="157.9" font-size="6.4" text-anchor="middle" fill="#000" stroke="#000" stroke-width="0.22" textLength="33.1" lengthAdjust="spacingAndGlyphs">LINC00702</text>
<rect x="61.2" y="180.4" width="29.8" height="7.6" rx="1.6" fill="#fff" stroke="#1a1a1a" stroke-width="1.3"/>
<text x="76.1" y="186.5" font-size="6.4" text-anchor="middle" fill="#000" stroke="#000" stroke-width="0.22" textLength="27.3" lengthAdjust="spacingAndGlyphs">MED28P8</text>
<rect x="58.8" y="36.8" width="276.2" height="185.8" fill="none" stroke="#2a2a2a" stroke-width="1.1"/>
<line x1="55.6" y1="45.6" x2="61.4" y2="50.6" stroke="#2a2a2a" stroke-width="0.9" />
<line x1="55.6" y1="47.4" x2="61.4" y2="52.4" stroke="#2a2a2a" stroke-width="0.9" />
<line x1="321.5" y1="225" x2="326" y2="219.6" stroke="#2a2a2a" stroke-width="0.9" />
<line x1="323.5" y1="225" x2="328" y2="219.6" stroke="#2a2a2a" stroke-width="0.9" />
<text x="53.7" y="47.2" font-size="12" text-anchor="end" fill="#111" stroke="#111" stroke-width="0.22" >55</text>
<line x1="56.5" y1="42.9" x2="58.8" y2="42.9" stroke="#333" stroke-width="0.8" />
<text x="53.7" y="91.3" font-size="12" text-anchor="end" fill="#111" stroke="#111" stroke-width="0.22" >15</text>
<line x1="56.5" y1="87" x2="58.8" y2="87" stroke="#333" stroke-width="0.8" />
<text x="53.7" y="133.8" font-size="12" text-anchor="end" fill="#111" stroke="#111" stroke-width="0.22" >10</text>
<line x1="56.5" y1="129.5" x2="58.8" y2="129.5" stroke="#333" stroke-width="0.8" />
<text x="53.7" y="176.3" font-size="12" text-anchor="end" fill="#111" stroke="#111" stroke-width="0.22" >5</text>
<line x1="56.5" y1="172" x2="58.8" y2="172" stroke="#333" stroke-width="0.8" />
<text x="53.7" y="219.3" font-size="12" text-anchor="end" fill="#111" stroke="#111" stroke-width="0.22" >0</text>
<line x1="56.5" y1="215" x2="58.8" y2="215" stroke="#333" stroke-width="0.8" />
<text transform="translate(37.2 130) rotate(-90)" font-size="12" text-anchor="middle" fill="#111" stroke="#111" stroke-width="0.22" >−Log10 (Pvalue)</text>
<text x="97.1" y="236.2" font-size="12" text-anchor="middle" fill="#111" stroke="#111" stroke-width="0.22" >−2.5</text>
<text x="153.5" y="236.2" font-size="12" text-anchor="middle" fill="#111" stroke="#111" stroke-width="0.22" >0.0</text>
<text x="207.5" y="236.2" font-size="12" text-anchor="middle" fill="#111" stroke="#111" stroke-width="0.22" >2.5</text>
<text x="260.7" y="236.2" font-size="12" text-anchor="middle" fill="#111" stroke="#111" stroke-width="0.22" >5.0</text>
<text x="311.6" y="236.2" font-size="12" text-anchor="middle" fill="#111" stroke="#111" stroke-width="0.22" >7.5</text>
<text x="328.9" y="236.2" font-size="12" text-anchor="middle" fill="#111" stroke="#111" stroke-width="0.22" >25</text>
<line x1="101.7" y1="222.6" x2="101.7" y2="224.8" stroke="#333" stroke-width="0.8" />
<line x1="155" y1="222.6" x2="155" y2="224.8" stroke="#333" stroke-width="0.8" />
<line x1="208.6" y1="222.6" x2="208.6" y2="224.8" stroke="#333" stroke-width="0.8" />
<line x1="262" y1="222.6" x2="262" y2="224.8" stroke="#333" stroke-width="0.8" />
<line x1="315.6" y1="222.6" x2="315.6" y2="224.8" stroke="#333" stroke-width="0.8" />
<text x="199.7" y="248.8" font-size="12" text-anchor="middle" fill="#111" stroke="#111" stroke-width="0.22" >Log2(FoldChange)</text>
<text x="346.3" y="12.9" font-size="14.5" text-anchor="start" fill="#000" stroke="#000" stroke-width="0.22" >b</text>
<circle cx="395.5" cy="47.9" r="2.6" fill="#dcdcdc" />
<circle cx="387.6" cy="50.8" r="1.1" fill="#dcdcdc" />
<circle cx="404" cy="47.9" r="1" fill="#dcdcdc" />
<circle cx="412.2" cy="49.2" r="1.6" fill="#dcdcdc" />
<circle cx="419.5" cy="52.5" r="1.6" fill="#dcdcdc" />
<circle cx="379.7" cy="54.2" r="1.6" fill="#dcdcdc" />
<circle cx="396.1" cy="57.1" r="1.6" fill="#dcdcdc" />
<circle cx="405" cy="57.1" r="1.3" fill="#dcdcdc" />
<circle cx="387.3" cy="60.4" r="1.6" fill="#dcdcdc" />
<circle cx="412.8" cy="60.1" r="1.3" fill="#dcdcdc" />
<circle cx="427.4" cy="56.8" r="1.3" fill="#dcdcdc" />
<circle cx="375.8" cy="61.3" r="1.3" fill="#dcdcdc" />
<circle cx="421.8" cy="63" r="1.3" fill="#dcdcdc" />
<circle cx="433.2" cy="64" r="1.3" fill="#dcdcdc" />
<circle cx="368.9" cy="65.9" r="1.3" fill="#dcdcdc" />
<circle cx="381.7" cy="68" r="1.6" fill="#dcdcdc" />
<circle cx="415.4" cy="69.8" r="1.6" fill="#dcdcdc" />
<circle cx="373.8" cy="73.2" r="1.6" fill="#dcdcdc" />
<circle cx="422.7" cy="72.8" r="1.3" fill="#dcdcdc" />
<circle cx="431" cy="71.5" r="1.6" fill="#dcdcdc" />
<circle cx="365.5" cy="75.5" r="1.3" fill="#dcdcdc" />
<circle cx="380.4" cy="78.5" r="1.3" fill="#dcdcdc" />
<circle cx="439.2" cy="75.1" r="1.3" fill="#dcdcdc" />
<circle cx="364.6" cy="84.7" r="1.3" fill="#dcdcdc" />
<circle cx="420.7" cy="88.9" r="2" fill="#dcdcdc" />
<circle cx="438.8" cy="86.9" r="2" fill="#dcdcdc" />
<circle cx="365.9" cy="93.2" r="1.3" fill="#dcdcdc" />
<circle cx="392.2" cy="93.6" r="2.6" fill="#dcdcdc" />
<circle cx="383.9" cy="96.1" r="1.6" fill="#dcdcdc" />
<circle cx="429.2" cy="97.8" r="3.5" fill="#dcdcdc" />
<circle cx="437.8" cy="96.5" r="1.3" fill="#dcdcdc" />
<circle cx="368.5" cy="101.5" r="1.3" fill="#dcdcdc" />
<circle cx="374.8" cy="106.1" r="2" fill="#dcdcdc" />
<circle cx="383.3" cy="104.4" r="1.3" fill="#dcdcdc" />
<circle cx="410.6" cy="102.7" r="1.6" fill="#dcdcdc" />
<circle cx="416.9" cy="107.7" r="1.6" fill="#dcdcdc" />
<circle cx="432.7" cy="107" r="1.6" fill="#dcdcdc" />
<circle cx="378" cy="114.2" r="2" fill="#dcdcdc" />
<circle cx="386.3" cy="113.2" r="1.3" fill="#dcdcdc" />
<circle cx="405.6" cy="115.3" r="1.3" fill="#dcdcdc" />
<circle cx="415.8" cy="115.9" r="2.6" fill="#dcdcdc" />
<circle cx="390" cy="120.1" r="2" fill="#dcdcdc" />
<circle cx="399.2" cy="121.7" r="1.3" fill="#dcdcdc" />
<circle cx="410.6" cy="121.9" r="2" fill="#dcdcdc" />
<circle cx="398.8" cy="75.8" r="5.2" fill="#a8a8a8" />
<circle cx="402.7" cy="70" r="2.2" fill="#e07b82" />
<circle cx="396.1" cy="71.3" r="2.2" fill="#e07b82" />
<circle cx="391.5" cy="75.5" r="2.2" fill="#e07b82" />
<circle cx="405.3" cy="75.5" r="2.2" fill="#e07b82" />
<circle cx="403.4" cy="80.7" r="2.2" fill="#e07b82" />
<circle cx="398.1" cy="83.1" r="2.2" fill="#e07b82" />
<circle cx="393.9" cy="80.5" r="2.2" fill="#e07b82" />
<circle cx="404" cy="78.1" r="2.2" fill="#e07b82" />
<circle cx="400" cy="69.5" r="2.2" fill="#e07b82" />
<line x1="373.1" y1="84.7" x2="375.1" y2="94.1" stroke="#9a9a9a" stroke-width="0.6" />
<line x1="375.1" y1="94.1" x2="382.3" y2="87.6" stroke="#9a9a9a" stroke-width="0.6" />
<circle cx="373.1" cy="84.7" r="1.2" fill="#6bbfa3" />
<circle cx="382.3" cy="87.6" r="1.2" fill="#6bbfa3" />
<circle cx="375.1" cy="94.1" r="1.2" fill="#6bbfa3" />
<line x1="413.2" y1="86.9" x2="416.8" y2="96.5" stroke="#9a9a9a" stroke-width="0.6" />
<line x1="406.9" y1="94.3" x2="416.8" y2="96.5" stroke="#9a9a9a" stroke-width="0.6" />
<circle cx="413.2" cy="86.9" r="2" fill="#1f9590" />
<circle cx="406.9" cy="94.3" r="1.5" fill="#1f9590" />
<circle cx="416.8" cy="96.5" r="1.3" fill="#1f9590" />
<line x1="423.1" y1="81.1" x2="433.2" y2="80.7" stroke="#9a9a9a" stroke-width="0.6" />
<line x1="433.2" y1="80.7" x2="428.6" y2="89.5" stroke="#9a9a9a" stroke-width="0.6" />
<line x1="428.6" y1="89.5" x2="423.1" y2="81.1" stroke="#9a9a9a" stroke-width="0.6" />
<circle cx="423.1" cy="81.1" r="1.5" fill="#f07a2c" />
<circle cx="433.2" cy="80.7" r="1.5" fill="#f07a2c" />
<circle cx="428.6" cy="89.5" r="1.5" fill="#f07a2c" />
<line x1="399" y1="99.5" x2="391.9" y2="104.4" stroke="#9a9a9a" stroke-width="0.6" />
<line x1="399" y1="99.5" x2="403.6" y2="107" stroke="#9a9a9a" stroke-width="0.6" />
<line x1="399" y1="99.5" x2="396.4" y2="111.3" stroke="#9a9a9a" stroke-width="0.6" />
<line x1="391.9" y1="104.4" x2="403.6" y2="107" stroke="#9a9a9a" stroke-width="0.6" />
<line x1="391.9" y1="104.4" x2="396.4" y2="111.3" stroke="#9a9a9a" stroke-width="0.6" />
<line x1="403.6" y1="107" x2="396.4" y2="111.3" stroke="#9a9a9a" stroke-width="0.6" />
<circle cx="399" cy="99.5" r="1.4" fill="#f3cd6c" />
<circle cx="391.9" cy="104.4" r="1.4" fill="#f3cd6c" />
<circle cx="403.6" cy="107" r="1.4" fill="#f3cd6c" />
<circle cx="396.4" cy="111.3" r="1.4" fill="#f3cd6c" />
<line x1="424.4" y1="104.4" x2="424.6" y2="114.6" stroke="#9a9a9a" stroke-width="0.6" />
<circle cx="424.4" cy="104.4" r="1.2" fill="#7fd0c0" />
<circle cx="424.6" cy="114.6" r="1.5" fill="#7fd0c0" />
<line x1="450.3" y1="87.7" x2="465" y2="87.7" stroke="#6b6b6b" stroke-width="1.6" />
<polygon points="471,87.7 460.5,82.9 463.3,87.7 460.5,92.5" fill="#6b6b6b"/>
<line x1="476.7" y1="7.1" x2="483.5" y2="7.1" stroke="#7a7a7a" stroke-width="1.1" />
<line x1="500" y1="7.1" x2="516" y2="7.1" stroke="#7a7a7a" stroke-width="1.1" />
<line x1="531.1" y1="7.1" x2="547.1" y2="7.1" stroke="#7a7a7a" stroke-width="1.1" />
<line x1="562.2" y1="7.1" x2="578.2" y2="7.1" stroke="#7a7a7a" stroke-width="1.1" />
<line x1="593.3" y1="7.1" x2="609.3" y2="7.1" stroke="#7a7a7a" stroke-width="1.1" />
<line x1="624.4" y1="7.1" x2="640.4" y2="7.1" stroke="#7a7a7a" stroke-width="1.1" />
<line x1="655.4" y1="7.1" x2="663.4" y2="7.1" stroke="#7a7a7a" stroke-width="1.1" />
<line x1="476.7" y1="136.7" x2="483.5" y2="136.7" stroke="#7a7a7a" stroke-width="1.1" />
<line x1="500" y1="136.7" x2="516" y2="136.7" stroke="#7a7a7a" stroke-width="1.1" />
<line x1="531.1" y1="136.7" x2="547.1" y2="136.7" stroke="#7a7a7a" stroke-width="1.1" />
<line x1="562.2" y1="136.7" x2="578.2" y2="136.7" stroke="#7a7a7a" stroke-width="1.1" />
<line x1="593.3" y1="136.7" x2="609.3" y2="136.7" stroke="#7a7a7a" stroke-width="1.1" />
<line x1="624.4" y1="136.7" x2="640.4" y2="136.7" stroke="#7a7a7a" stroke-width="1.1" />
<line x1="655.4" y1="136.7" x2="663.4" y2="136.7" stroke="#7a7a7a" stroke-width="1.1" />
<line x1="476.7" y1="7.1" x2="476.7" y2="14.2" stroke="#7a7a7a" stroke-width="1.1" />
<line x1="476.7" y1="26.9" x2="476.7" y2="39.5" stroke="#7a7a7a" stroke-width="1.1" />
<line x1="476.7" y1="53" x2="476.7" y2="65.6" stroke="#7a7a7a" stroke-width="1.1" />
<line x1="476.7" y1="79.1" x2="476.7" y2="91.7" stroke="#7a7a7a" stroke-width="1.1" />
<line x1="476.7" y1="105.2" x2="476.7" y2="117.8" stroke="#7a7a7a" stroke-width="1.1" />
<line x1="476.7" y1="130.3" x2="476.7" y2="136.7" stroke="#7a7a7a" stroke-width="1.1" />
<line x1="663.4" y1="7.1" x2="663.4" y2="14.2" stroke="#7a7a7a" stroke-width="1.1" />
<line x1="663.4" y1="26.9" x2="663.4" y2="39.5" stroke="#7a7a7a" stroke-width="1.1" />
<line x1="663.4" y1="53" x2="663.4" y2="65.6" stroke="#7a7a7a" stroke-width="1.1" />
<line x1="663.4" y1="79.1" x2="663.4" y2="91.7" stroke="#7a7a7a" stroke-width="1.1" />
<line x1="663.4" y1="105.2" x2="663.4" y2="117.8" stroke="#7a7a7a" stroke-width="1.1" />
<line x1="663.4" y1="130.3" x2="663.4" y2="136.7" stroke="#7a7a7a" stroke-width="1.1" />
<ellipse cx="492.1" cy="55.3" rx="12.6" ry="20.5" fill="#e2f2ee"/>
<line x1="491" y1="41.4" x2="491.8" y2="67.2" stroke="#9a9a9a" stroke-width="0.5" />
<circle cx="491" cy="41.4" r="3.2" fill="#7fcdb9" />
<circle cx="491.8" cy="67.2" r="4.3" fill="#7fcdb9" />
<text x="485.3" y="85.2" font-size="7.1" text-anchor="start" fill="#222" stroke="#222" stroke-width="0.22" >Suger chain</text>
<text x="485" y="93.9" font-size="7.1" text-anchor="start" fill="#222" stroke="#222" stroke-width="0.22" >biosynthesis</text>
<circle cx="567.5" cy="44.6" r="27.8" fill="#f9dcdc" />
<line x1="558" y1="27.5" x2="576" y2="25.7" stroke="#c99a9a" stroke-width="0.35" />
<line x1="558" y1="27.5" x2="548.6" y2="42" stroke="#c99a9a" stroke-width="0.35" />
<line x1="558" y1="27.5" x2="554" y2="52.7" stroke="#c99a9a" stroke-width="0.35" />
<line x1="558" y1="27.5" x2="564.3" y2="60" stroke="#c99a9a" stroke-width="0.35" />
<line x1="558" y1="27.5" x2="577.8" y2="54" stroke="#c99a9a" stroke-width="0.35" />
<line x1="558" y1="27.5" x2="579" y2="46" stroke="#c99a9a" stroke-width="0.35" />
<line x1="558" y1="27.5" x2="582.4" y2="40" stroke="#c99a9a" stroke-width="0.35" />
<line x1="558" y1="27.5" x2="562" y2="32.4" stroke="#c99a9a" stroke-width="0.35" />
<line x1="576" y1="25.7" x2="548.6" y2="42" stroke="#c99a9a" stroke-width="0.35" />
<line x1="576" y1="25.7" x2="554" y2="52.7" stroke="#c99a9a" stroke-width="0.35" />
<line x1="576" y1="25.7" x2="564.3" y2="60" stroke="#c99a9a" stroke-width="0.35" />
<line x1="576" y1="25.7" x2="577.8" y2="54" stroke="#c99a9a" stroke-width="0.35" />
<line x1="576" y1="25.7" x2="579" y2="46" stroke="#c99a9a" stroke-width="0.35" />
<line x1="576" y1="25.7" x2="582.4" y2="40" stroke="#c99a9a" stroke-width="0.35" />
<line x1="576" y1="25.7" x2="562" y2="32.4" stroke="#c99a9a" stroke-width="0.35" />
<line x1="548.6" y1="42" x2="554" y2="52.7" stroke="#c99a9a" stroke-width="0.35" />
<line x1="548.6" y1="42" x2="564.3" y2="60" stroke="#c99a9a" stroke-width="0.35" />
<line x1="548.6" y1="42" x2="577.8" y2="54" stroke="#c99a9a" stroke-width="0.35" />
<line x1="548.6" y1="42" x2="579" y2="46" stroke="#c99a9a" stroke-width="0.35" />
<line x1="548.6" y1="42" x2="582.4" y2="40" stroke="#c99a9a" stroke-width="0.35" />
<line x1="548.6" y1="42" x2="562" y2="32.4" stroke="#c99a9a" stroke-width="0.35" />
<line x1="554" y1="52.7" x2="564.3" y2="60" stroke="#c99a9a" stroke-width="0.35" />
<line x1="554" y1="52.7" x2="577.8" y2="54" stroke="#c99a9a" stroke-width="0.35" />
<line x1="554" y1="52.7" x2="579" y2="46" stroke="#c99a9a" stroke-width="0.35" />
<line x1="554" y1="52.7" x2="582.4" y2="40" stroke="#c99a9a" stroke-width="0.35" />
<line x1="554" y1="52.7" x2="562" y2="32.4" stroke="#c99a9a" stroke-width="0.35" />
<line x1="564.3" y1="60" x2="577.8" y2="54" stroke="#c99a9a" stroke-width="0.35" />
<line x1="564.3" y1="60" x2="579" y2="46" stroke="#c99a9a" stroke-width="0.35" />
<line x1="564.3" y1="60" x2="582.4" y2="40" stroke="#c99a9a" stroke-width="0.35" />
<line x1="564.3" y1="60" x2="562" y2="32.4" stroke="#c99a9a" stroke-width="0.35" />
<line x1="577.8" y1="54" x2="579" y2="46" stroke="#c99a9a" stroke-width="0.35" />
<line x1="577.8" y1="54" x2="582.4" y2="40" stroke="#c99a9a" stroke-width="0.35" />
<line x1="577.8" y1="54" x2="562" y2="32.4" stroke="#c99a9a" stroke-width="0.35" />
<line x1="579" y1="46" x2="582.4" y2="40" stroke="#c99a9a" stroke-width="0.35" />
<line x1="579" y1="46" x2="562" y2="32.4" stroke="#c99a9a" stroke-width="0.35" />
<line x1="582.4" y1="40" x2="562" y2="32.4" stroke="#c99a9a" stroke-width="0.35" />
<circle cx="558" cy="27.5" r="4" fill="#e3737b" />
<circle cx="576" cy="25.7" r="5" fill="#e3737b" />
<circle cx="548.6" cy="42" r="6.7" fill="#e3737b" />
<circle cx="554" cy="52.7" r="5" fill="#e3737b" />
<circle cx="564.3" cy="60" r="5" fill="#e3737b" />
<circle cx="577.8" cy="54" r="6.5" fill="#e3737b" />
<circle cx="579" cy="46" r="6.5" fill="#e3737b" />
<circle cx="582.4" cy="40" r="4" fill="#e3737b" />
<circle cx="562" cy="32.4" r="3" fill="#e3737b" />
<text x="590" y="22" font-size="7.1" text-anchor="start" fill="#222" stroke="#222" stroke-width="0.22" >Lipid metabolism</text>
<ellipse cx="631.9" cy="97.8" rx="27" ry="16.2" fill="#fde0cc"/>
<line x1="616.8" y1="88.4" x2="642.4" y2="87.8" stroke="#999" stroke-width="0.6" />
<line x1="642.4" y1="87.8" x2="631" y2="110.3" stroke="#999" stroke-width="0.6" />
<line x1="631" y1="110.3" x2="616.8" y2="88.4" stroke="#999" stroke-width="0.6" />
<circle cx="616.8" cy="88.4" r="4" fill="#f07a2c" />
<circle cx="642.4" cy="87.8" r="4" fill="#f07a2c" />
<circle cx="631" cy="110.3" r="4" fill="#f07a2c" />
<text x="610" y="76.4" font-size="7.1" text-anchor="start" fill="#222" stroke="#222" stroke-width="0.22" >Cell signaling</text>
<circle cx="551.4" cy="112" r="23" fill="#fbf1d6" />
<line x1="554.9" y1="96" x2="536.5" y2="108" stroke="#b0a080" stroke-width="0.6" />
<line x1="554.9" y1="96" x2="566" y2="114.9" stroke="#b0a080" stroke-width="0.6" />
<line x1="554.9" y1="96" x2="549" y2="126.5" stroke="#b0a080" stroke-width="0.6" />
<line x1="536.5" y1="108" x2="566" y2="114.9" stroke="#b0a080" stroke-width="0.6" />
<line x1="536.5" y1="108" x2="549" y2="126.5" stroke="#b0a080" stroke-width="0.6" />
<line x1="566" y1="114.9" x2="549" y2="126.5" stroke="#b0a080" stroke-width="0.6" />
<circle cx="554.9" cy="96" r="3.6" fill="#f3d27e" />
<circle cx="536.5" cy="108" r="3.6" fill="#f3d27e" />
<circle cx="566" cy="114.9" r="3" fill="#f3d27e" />
<circle cx="549" cy="126.5" r="3" fill="#f3d27e" />
<text x="560" y="131.6" font-size="7.1" text-anchor="start" fill="#222" stroke="#222" stroke-width="0.22" >Cell adhesion</text>
<rect x="511.5" y="148.1" width="150.5" height="3.6" fill="#e8787f" />
<text x="508" y="153.1" font-size="9" text-anchor="end" fill="#111" stroke="#111" stroke-width="0.22" >Fat digestion and absorption</text>
<line x1="510.2" y1="149.9" x2="511.5" y2="149.9" stroke="#333" stroke-width="0.7" />
<rect x="511.5" y="159.7" width="132.2" height="3.6" fill="#e8787f" />
<text x="508" y="164.7" font-size="9" text-anchor="end" fill="#111" stroke="#111" stroke-width="0.22" >Alpha-linolenic acid metabolism</text>
<line x1="510.2" y1="161.5" x2="511.5" y2="161.5" stroke="#333" stroke-width="0.7" />
<rect x="511.5" y="172.2" width="75.2" height="3.6" fill="#f07530" />
<text x="508" y="177.2" font-size="9" text-anchor="end" fill="#111" stroke="#111" stroke-width="0.22" >PI3K-Akt signaling pathway</text>
<line x1="510.2" y1="174" x2="511.5" y2="174" stroke="#333" stroke-width="0.7" />
<rect x="511.5" y="185" width="67.5" height="3.6" fill="#f07530" />
<text x="508" y="190" font-size="9" text-anchor="end" fill="#111" stroke="#111" stroke-width="0.22" >ECM-receptor interaction</text>
<line x1="510.2" y1="186.8" x2="511.5" y2="186.8" stroke="#333" stroke-width="0.7" />
<rect x="511.5" y="197.6" width="41.5" height="3.6" fill="#f07530" />
<text x="508" y="202.6" font-size="9" text-anchor="end" fill="#111" stroke="#111" stroke-width="0.22" >Ras signaling pathway</text>
<line x1="510.2" y1="199.4" x2="511.5" y2="199.4" stroke="#333" stroke-width="0.7" />
<rect x="511.5" y="210.9" width="63.5" height="3.6" fill="#f5d68a" />
<text x="508" y="215.9" font-size="9" text-anchor="end" fill="#111" stroke="#111" stroke-width="0.22" >Tight junction</text>
<line x1="510.2" y1="212.7" x2="511.5" y2="212.7" stroke="#333" stroke-width="0.7" />
<rect x="511.5" y="222.7" width="63.5" height="3.6" fill="#f5d68a" />
<text x="508" y="227.7" font-size="9" text-anchor="end" fill="#111" stroke="#111" stroke-width="0.22" >Cell adhesion molecules (CAMs)</text>
<line x1="510.2" y1="224.5" x2="511.5" y2="224.5" stroke="#333" stroke-width="0.7" />
<line x1="511.5" y1="145" x2="511.5" y2="235.8" stroke="#333" stroke-width="0.9" />
<line x1="511.5" y1="235.5" x2="664.5" y2="235.5" stroke="#333" stroke-width="0.9" />
<line x1="512.2" y1="235.5" x2="512.2" y2="237.5" stroke="#333" stroke-width="0.8" />
<text x="512.2" y="245.2" font-size="9" text-anchor="middle" fill="#111" stroke="#111" stroke-width="0.22" >0</text>
<line x1="542.3" y1="235.5" x2="542.3" y2="237.5" stroke="#333" stroke-width="0.8" />
<text x="542.3" y="245.2" font-size="9" text-anchor="middle" fill="#111" stroke="#111" stroke-width="0.22" >1</text>
<line x1="574.9" y1="235.5" x2="574.9" y2="237.5" stroke="#333" stroke-width="0.8" />
<text x="574.9" y="245.2" font-size="9" text-anchor="middle" fill="#111" stroke="#111" stroke-width="0.22" >2</text>
<line x1="607.4" y1="235.5" x2="607.4" y2="237.5" stroke="#333" stroke-width="0.8" />
<text x="607.4" y="245.2" font-size="9" text-anchor="middle" fill="#111" stroke="#111" stroke-width="0.22" >3</text>
<line x1="637" y1="235.5" x2="637" y2="237.5" stroke="#333" stroke-width="0.8" />
<text x="637" y="245.2" font-size="9" text-anchor="middle" fill="#111" stroke="#111" stroke-width="0.22" >4</text>
<line x1="662.8" y1="235.5" x2="662.8" y2="237.5" stroke="#333" stroke-width="0.8" />
<text x="662.8" y="245.2" font-size="9" text-anchor="middle" fill="#111" stroke="#111" stroke-width="0.22" >5</text>
<text x="591" y="254.3" font-size="9" text-anchor="middle" fill="#111">-Log10 (<tspan font-style="italic">p</tspan> value)</text>
<text x="3.4" y="288.9" font-size="14.5" text-anchor="start" fill="#000" stroke="#000" stroke-width="0.22" >c</text>
<line x1="42.5" y1="334.3" x2="42.5" y2="526.5" stroke="#222" stroke-width="0.9" />
<line x1="39.6" y1="334.3" x2="42.5" y2="334.3" stroke="#222" stroke-width="0.8" />
<text x="32.3" y="337.4" font-size="8.5" text-anchor="middle" fill="#111" stroke="#111" stroke-width="0.22" >55</text>
<line x1="39.6" y1="372.7" x2="42.5" y2="372.7" stroke="#222" stroke-width="0.8" />
<text x="32.3" y="375.8" font-size="8.5" text-anchor="middle" fill="#111" stroke="#111" stroke-width="0.22" >44</text>
<line x1="39.6" y1="411.3" x2="42.5" y2="411.3" stroke="#222" stroke-width="0.8" />
<text x="32.3" y="414.4" font-size="8.5" text-anchor="middle" fill="#111" stroke="#111" stroke-width="0.22" >33</text>
<line x1="39.6" y1="449.4" x2="42.5" y2="449.4" stroke="#222" stroke-width="0.8" />
<text x="32.3" y="452.5" font-size="8.5" text-anchor="middle" fill="#111" stroke="#111" stroke-width="0.22" >22</text>
<line x1="39.6" y1="487.5" x2="42.5" y2="487.5" stroke="#222" stroke-width="0.8" />
<text x="32.3" y="490.6" font-size="8.5" text-anchor="middle" fill="#111" stroke="#111" stroke-width="0.22" >11</text>
<line x1="39.6" y1="525.6" x2="42.5" y2="525.6" stroke="#222" stroke-width="0.8" />
<text x="32.3" y="528.7" font-size="8.5" text-anchor="middle" fill="#111" stroke="#111" stroke-width="0.22" >0</text>
<text transform="translate(21.4 417) rotate(-90)" font-size="11.9" text-anchor="middle" fill="#111" stroke="#111" stroke-width="0.22" >FDCSP positive(%)</text>
<rect x="53" y="319.4" width="44.4" height="207.1" fill="#3466a0" />
<rect x="108.9" y="492" width="51" height="34.5" fill="#64bba0" />
<polyline points="75,319.2 75,307.7 134.2,307.7 134.2,491" fill="none" stroke="#222" stroke-width="0.9"/>
<text x="106" y="307.2" font-size="7.5" text-anchor="middle" fill="#111" stroke="#111" stroke-width="0.22" >*</text>
<text x="75.1" y="537" font-size="9.4" text-anchor="middle" fill="#111" stroke="#111" stroke-width="0.22" >Tumors</text>
<text x="133.4" y="537" font-size="9.4" text-anchor="middle" fill="#111" stroke="#111" stroke-width="0.22" >Normal</text>
<text x="165.4" y="288.9" font-size="14.5" text-anchor="start" fill="#000" stroke="#000" stroke-width="0.22" >d</text>
<rect x="205" y="312.7" width="52" height="188.6" fill="#fafafa" />
<rect x="257" y="312.7" width="49.5" height="188.6" fill="#e1e1e1" />
<line x1="233.6" y1="312.7" x2="233.6" y2="501.3" stroke="#e6e6e6" stroke-width="0.8" />
<line x1="281" y1="312.7" x2="281" y2="501.3" stroke="#f6f6f6" stroke-width="0.8" />
<path d="M209 499.9h0M209 499.8h0M209.1 499.6h0M209.1 499.5h0M209.2 499.4h0M209.2 499.3h0M209.3 499.1h0M209.3 499h0M209.4 498.9h0M209.4 498.8h0M209.5 498.6h0M209.5 498.5h0M209.6 498.4h0M209.6 498.2h0M209.7 498.1h0M209.7 498h0M209.7 497.9h0M209.8 497.7h0M209.8 497.6h0M209.9 497.5h0M209.9 497.4h0M210 497.2h0M210 497.1h0M210.1 497h0M210.1 496.8h0M210.2 496.7h0M210.2 496.6h0M210.3 496.5h0M210.3 496.3h0M210.4 496.2h0M210.4 496.1h0M210.4 496h0M210.5 495.8h0M210.5 495.7h0M210.6 495.6h0M210.6 495.4h0M210.7 495.3h0M210.7 495.2h0M210.8 495.1h0M210.8 494.9h0M210.9 494.8h0M210.9 494.7h0M211 494.6h0M211 494.4h0M211 494.3h0M211.1 494.2h0M211.1 494h0M211.2 493.9h0M211.2 493.8h0M211.3 493.7h0M211.3 493.5h0M211.4 493.4h0M211.4 493.3h0M211.5 493.2h0M211.5 493h0M211.6 492.9h0M211.6 492.8h0M211.7 492.7h0M211.7 492.5h0M211.7 492.4h0M211.8 492.3h0M211.8 492.1h0M211.9 492h0M211.9 491.9h0M212 491.8h0M212 491.6h0M212.1 491.5h0M212.1 491.4h0M212.2 491.3h0M212.2 491.1h0M212.3 491h0M212.3 490.9h0M212.4 490.7h0M212.4 490.6h0M212.4 490.5h0M212.5 490.4h0M212.5 490.2h0M212.6 490.1h0M212.6 490h0M212.7 489.9h0M212.7 489.8h0M212.8 489.7h0M212.8 489.5h0M212.9 489.4h0M212.9 489.3h0M213 489.2h0M213 489.1h0M213.1 489h0M213.1 488.9h0M213.1 488.8h0M213.2 488.7h0M213.2 488.5h0M213.3 488.4h0M213.3 488.3h0M213.4 488.2h0M213.4 488.1h0M213.5 488h0M213.5 487.9h0M213.6 487.8h0M213.6 487.7h0M213.7 487.5h0M213.7 487.4h0M213.7 487.3h0M213.8 487.2h0M213.8 487.1h0M213.9 487h0M213.9 486.9h0M214 486.8h0M214 486.7h0M214.1 486.6h0M214.1 486.4h0M214.2 486.3h0M214.2 486.2h0M214.3 486.1h0M214.3 486h0M214.4 485.9h0M214.4 485.8h0M214.4 485.7h0M214.5 485.6h0M214.5 485.4h0M214.6 485.3h0M214.6 485.2h0M214.7 485.1h0M214.7 485h0M214.8 484.9h0M214.8 484.8h0M214.9 484.7h0M214.9 484.6h0M215 484.4h0M215 484.3h0M215.1 484.2h0M215.1 484.1h0M215.1 484h0M215.2 483.9h0M215.2 483.8h0M215.3 483.7h0M215.3 483.6h0M215.4 483.4h0M215.4 483.3h0M215.5 483.2h0M215.5 483.1h0M215.6 483h0M215.6 482.9h0M215.7 482.8h0M215.7 482.7h0M215.8 482.6h0M215.8 482.5h0M215.8 482.3h0M215.9 482.2h0M215.9 482.1h0M216 482h0M216 481.9h0M216.1 481.8h0M216.1 481.7h0M216.2 481.7h0M216.2 481.6h0M216.3 481.5h0M216.3 481.4h0M216.4 481.4h0M216.4 481.3h0M216.4 481.2h0M216.5 481.1h0M216.5 481.1h0M216.6 481h0M216.6 480.9h0M216.7 480.8h0M216.7 480.7h0M216.8 480.7h0M216.8 480.6h0M216.9 480.5h0M216.9 480.4h0M217 480.4h0M217 480.3h0M217.1 480.2h0M217.1 480.1h0M217.1 480.1h0M217.2 480h0M217.2 479.9h0M217.3 479.8h0M217.3 479.7h0M217.4 479.7h0M217.4 479.6h0M217.5 479.5h0M217.5 479.4h0M217.6 479.4h0M217.6 479.3h0M217.7 479.2h0M217.7 479.1h0M217.8 479.1h0M217.8 479h0M217.8 478.9h0M217.9 478.8h0M217.9 478.8h0M218 478.7h0M218 478.6h0M218.1 478.5h0M218.1 478.4h0M218.2 478.4h0M218.2 478.3h0M218.3 478.2h0M218.3 478.1h0M218.4 478.1h0M218.4 478h0M218.5 477.9h0M218.5 477.8h0M218.5 477.8h0M218.6 477.7h0M218.6 477.6h0M218.7 477.5h0M218.7 477.4h0M218.8 477.4h0M218.8 477.3h0M218.9 477.2h0M218.9 477.1h0M219 477.1h0M219 477h0M219.1 476.9h0M219.1 476.8h0M219.1 476.8h0M219.2 476.7h0M219.2 476.6h0M219.3 476.5h0M219.3 476.4h0M219.4 476.4h0M219.4 476.3h0M219.5 476.2h0M219.5 476.1h0M219.6 476.1h0M219.6 476h0M219.7 475.9h0M219.7 475.8h0M219.8 475.7h0M219.8 475.6h0M219.8 475.5h0M219.9 475.4h0M219.9 475.3h0M220 475.3h0M220 475.2h0M220.1 475.1h0M220.1 475h0M220.2 474.9h0M220.2 474.8h0M220.3 474.7h0M220.3 474.6h0M220.4 474.5h0M220.4 474.4h0M220.5 474.3h0M220.5 474.2h0M220.5 474.1h0M220.6 474.1h0M220.6 474h0M220.7 473.9h0M220.7 473.8h0M220.8 473.7h0M220.8 473.6h0M220.9 473.5h0M220.9 473.4h0M221 473.3h0M221 473.2h0M221.1 473.1h0M221.1 473h0M221.2 472.9h0M221.2 472.9h0M221.2 472.8h0M221.3 472.7h0M221.3 472.6h0M221.4 472.5h0M221.4 472.4h0M221.5 472.3h0M221.5 472.2h0M221.6 472.1h0M221.6 472h0M221.7 471.9h0M221.7 471.8h0M221.8 471.7h0M221.8 471.7h0M221.8 471.6h0M221.9 471.5h0M221.9 471.4h0M222 471.3h0M222 471.2h0M222.1 471.1h0M222.1 471h0M222.2 470.9h0M222.2 470.8h0M222.3 470.7h0M222.3 470.6h0M222.4 470.5h0M222.4 470.5h0M222.5 470.4h0M222.5 470.3h0M222.5 470.2h0M222.6 470.1h0M222.6 470h0M222.7 469.9h0M222.7 469.8h0M222.8 469.7h0M222.8 469.6h0M222.9 469.5h0M222.9 469.4h0M223 469.3h0M223 469.2h0M223.1 469.2h0M223.1 469.1h0M223.2 469h0M223.2 468.9h0M223.2 468.7h0M223.3 468.6h0M223.3 468.5h0M223.4 468.4h0M223.4 468.2h0M223.5 468.1h0M223.5 468h0M223.6 467.9h0M223.6 467.8h0M223.7 467.6h0M223.7 467.5h0M223.8 467.4h0M223.8 467.3h0M223.9 467.1h0M223.9 467h0M223.9 466.9h0M224 466.8h0M224 466.7h0M224.1 466.5h0M224.1 466.4h0M224.2 466.3h0M224.2 466.2h0M224.3 466h0M224.3 465.9h0M224.4 465.8h0M224.4 465.7h0M224.5 465.6h0M224.5 465.4h0M224.5 465.3h0M224.6 465.2h0M224.6 465.1h0M224.7 464.9h0M224.7 464.8h0M224.8 464.7h0M224.8 464.6h0M224.9 464.5h0M224.9 464.3h0M225 464.2h0M225 464.1h0M225.1 464h0M225.1 463.8h0M225.2 463.7h0M225.2 463.6h0M225.2 463.5h0M225.3 463.4h0M225.3 463.2h0M225.4 463.1h0M225.4 463h0M225.5 462.9h0M225.5 462.7h0M225.6 462.6h0M225.6 462.5h0M225.7 462.4h0M225.7 462.3h0M225.8 462.1h0M225.8 462h0M225.9 461.9h0M225.9 461.8h0M225.9 461.6h0M226 461.5h0M226 461.4h0M226.1 461.3h0M226.1 461.2h0M226.2 461h0M226.2 460.9h0M226.3 460.8h0M226.3 460.7h0M226.4 460.5h0M226.4 460.4h0M226.5 460.3h0M226.5 460.2h0M226.6 460.1h0M226.6 459.9h0M226.6 459.8h0M226.7 459.7h0M226.7 459.5h0M226.8 459.2h0M226.8 459h0M226.9 458.8h0M226.9 458.6h0M227 458.4h0M227 458.2h0M227.1 457.9h0M227.1 457.7h0M227.2 457.5h0M227.2 457.3h0M227.2 457.1h0M227.3 456.9h0M227.3 456.6h0M227.4 456.4h0M227.4 456.2h0M227.5 456h0M227.5 455.8h0M227.6 455.6h0M227.6 455.3h0M227.7 455.1h0M227.7 454.9h0M227.8 454.7h0M227.8 454.5h0M227.9 454.3h0M227.9 454.1h0M227.9 453.8h0M228 453.6h0M228 453.4h0M228.1 453.2h0M228.1 453h0M228.2 452.8h0M228.2 452.5h0M228.3 452.3h0M228.3 452.1h0M228.4 451.9h0M228.4 451.7h0M228.5 451.5h0M228.5 451.2h0M228.6 451h0M228.6 450.8h0M228.6 450.6h0M228.7 450.4h0M228.7 450.2h0M228.8 449.9h0M228.8 449.7h0M228.9 449.5h0M228.9 449.3h0M229 449.1h0M229 448.9h0M229.1 448.6h0M229.1 448.4h0M229.2 448.2h0M229.2 448h0M229.3 447.8h0M229.3 447.6h0M229.3 447.3h0M229.4 447.1h0M229.4 446.9h0M229.5 446.7h0M229.5 446.5h0M229.6 446.3h0M229.6 446.1h0M229.7 445.8h0M229.7 445.5h0M229.8 445.1h0M229.8 444.7h0M229.9 444.3h0M229.9 443.9h0M229.9 443.5h0M230 443.1h0M230 442.7h0M230.1 442.3h0M230.1 441.9h0M230.2 441.5h0M230.2 441.1h0M230.3 440.7h0M230.3 440.3h0M230.4 439.9h0M230.4 439.4h0M230.5 439h0M230.5 438.6h0M230.6 438.2h0M230.6 437.8h0M230.6 437.4h0M230.7 437h0M230.7 436.6h0M230.8 436.2h0M230.8 435.8h0M230.9 435.4h0M230.9 435h0M231 434.6h0M231 434.2h0M231.1 433.8h0M231.1 433.4h0M231.2 433h0M231.2 432.6h0M231.3 432.1h0M231.3 431.7h0M231.4 425.9h0M230.6 423.8h0M230.8 402.2h0" stroke="#f07474" stroke-width="2.3" stroke-linecap="round" fill="none"/>
<path d="M233.8 499.9h0M233.9 499.9h0M233.9 499.9h0M234 499.9h0M234.1 499.9h0M234.1 499.9h0M234.2 499.9h0M234.2 499.9h0M234.3 499.9h0M234.4 499.9h0M234.4 499.9h0M234.5 499.9h0M234.6 499.9h0M234.6 499.9h0M234.7 499.9h0M234.8 499.9h0M234.8 499.9h0M234.9 499.9h0M235 499.9h0M235 499.9h0M235.1 499.9h0M235.1 499.9h0M235.2 499.9h0M235.3 499.9h0M235.3 499.9h0M235.4 499.9h0M235.5 499.9h0M235.5 499.9h0M235.6 499.9h0M235.7 499.9h0M235.7 499.9h0M235.8 499.9h0M235.8 499.9h0M235.9 499.9h0M236 499.9h0M236 499.9h0M236.1 499.9h0M236.2 499.9h0M236.2 499.8h0M236.3 499.8h0M236.4 499.8h0M236.4 499.8h0M236.5 499.8h0M236.6 499.8h0M236.6 499.8h0M236.7 499.8h0M236.7 499.8h0M236.8 499.8h0M236.9 499.8h0M236.9 499.8h0M237 499.8h0M237.1 499.8h0M237.1 499.8h0M237.2 499.8h0M237.3 499.8h0M237.3 499.8h0M237.4 499.8h0M237.4 499.8h0M237.5 499.8h0M237.6 499.8h0M237.6 499.8h0M237.7 499.8h0M237.8 499.8h0M237.8 499.8h0M237.9 499.8h0M238 499.8h0M238 499.8h0M238.1 499.8h0M238.1 499.8h0M238.2 499.8h0M238.3 499.8h0M238.3 499.8h0M238.4 499.8h0M238.5 499.8h0M238.5 499.8h0M238.6 499.8h0M238.7 499.8h0M238.7 499.8h0M238.8 499.8h0M238.9 499.8h0M238.9 499.8h0M239 499.8h0M239 499.8h0M239.1 499.8h0M239.2 499.8h0M239.2 499.8h0M239.3 499.8h0M239.4 499.8h0M239.4 499.8h0M239.5 499.8h0M239.6 499.8h0M239.6 499.8h0M239.7 499.8h0M239.7 499.8h0M239.8 499.8h0M239.9 499.8h0M239.9 499.8h0M240 499.8h0M240.1 499.8h0M240.1 499.8h0M240.2 499.8h0M240.3 499.8h0M240.3 499.8h0M240.4 499.8h0M240.5 499.8h0M240.5 499.8h0M240.6 499.8h0M240.6 499.8h0M240.7 499.8h0M240.8 499.8h0M240.8 499.8h0M240.9 499.8h0M241 499.8h0M241 499.7h0M241.1 499.7h0M241.2 499.7h0M241.2 499.7h0M241.3 499.7h0M241.3 499.7h0M241.4 499.7h0M241.5 499.7h0M241.5 499.7h0M241.6 499.7h0M241.7 499.7h0M241.7 499.7h0M241.8 499.7h0M241.9 499.7h0M241.9 499.7h0M242 499.7h0M242.1 499.7h0M242.1 499.7h0M242.2 499.7h0M242.2 499.7h0M242.3 499.7h0M242.4 499.7h0M242.4 499.7h0M242.5 499.7h0M242.6 499.7h0M242.6 499.7h0M242.7 499.7h0M242.8 499.7h0M242.8 499.7h0M242.9 499.7h0M242.9 499.7h0M243 499.7h0M243.1 499.7h0M243.1 499.7h0M243.2 499.7h0M243.3 499.7h0M243.3 499.7h0M243.4 499.7h0M243.5 499.7h0M243.5 499.7h0M243.6 499.7h0M243.6 499.7h0M243.7 499.7h0M243.8 499.6h0M243.8 499.5h0M243.9 499.5h0M244 499.4h0M244 499.3h0M244.1 499.2h0M244.2 499.2h0M244.2 499.1h0M244.3 499h0M244.4 498.9h0M244.4 498.9h0M244.5 498.8h0M244.5 498.7h0M244.6 498.6h0M244.7 498.6h0M244.7 498.5h0M244.8 498.4h0M244.9 498.4h0M244.9 498.3h0M245 498.2h0M245.1 498.1h0M245.1 498.1h0M245.2 498h0M245.2 497.9h0M245.3 497.8h0M245.4 497.8h0M245.4 497.7h0M245.5 497.6h0M245.6 497.6h0M245.6 497.5h0M245.7 497.4h0M245.8 497.3h0M245.8 497.3h0M245.9 497.2h0M246 497.1h0M246 497.1h0M246.1 497h0M246.1 496.9h0M246.2 496.8h0M246.3 496.8h0M246.3 496.7h0M246.4 496.6h0M246.5 496.6h0M246.5 496.5h0M246.6 496.4h0M246.7 496.4h0M246.7 496.3h0M246.8 496.2h0M246.8 496.1h0M246.9 496.1h0M247 496h0M247 495.9h0M247.1 495.9h0M247.2 495.8h0M247.2 495.7h0M247.3 495.6h0M247.4 495.6h0M247.4 495.5h0M247.5 495.4h0M247.6 495.4h0M247.6 495.3h0M247.7 495.2h0M247.7 495.2h0M247.8 495.1h0M247.9 495h0M247.9 494.9h0M248 494.9h0M248.1 494.8h0M248.1 494.7h0M248.2 494.6h0M248.3 494.4h0M248.3 494.3h0M248.4 494.2h0M248.4 494h0M248.5 493.9h0M248.6 493.7h0M248.6 493.6h0M248.7 493.5h0M248.8 493.3h0M248.8 493.2h0M248.9 493h0M249 492.9h0M249 492.8h0M249.1 492.6h0M249.1 492.5h0M249.2 492.4h0M249.3 492.2h0M249.3 492.1h0M249.4 491.9h0M249.5 491.8h0M249.5 491.7h0M249.6 491.5h0M249.7 491.4h0M249.7 491.3h0M249.8 491.1h0M249.9 491h0M249.9 490.8h0M250 490.7h0M250 490.6h0M250.1 490.4h0M250.2 490.3h0M250.2 490.1h0M250.3 490h0M250.4 489.9h0M250.4 489.7h0M250.5 489.6h0M250.6 489.5h0M250.6 489.3h0M250.7 489.2h0M250.7 489h0M250.8 488.9h0M250.9 488.8h0M250.9 488.6h0M251 488.5h0M251.1 488.4h0M251.1 488.2h0M251.2 488.1h0M251.3 487.9h0M251.3 487.7h0M251.4 487.4h0M251.5 487.1h0M251.5 486.8h0M251.6 486.6h0M251.6 486.3h0M251.7 486h0M251.8 485.7h0M251.8 485.4h0M251.9 485.1h0M252 484.8h0M252 484.5h0M252.1 484.2h0M252.2 483.9h0M252.2 483.6h0M252.3 483.3h0M252.3 483.1h0M252.4 482.8h0M252.5 482.5h0M252.5 482.2h0M252.6 481.9h0M252.7 481.6h0M252.7 481.3h0M252.8 481h0M252.9 480.7h0M252.9 480.4h0M253 480.1h0M253.1 479.8h0M253.1 479.6h0M253.2 479.2h0M253.2 478.5h0M253.3 477.8h0M253.4 477.2h0M253.4 476.5h0M253.5 475.9h0M253.6 475.2h0M253.6 474.6h0M253.7 473.9h0M253.8 473.2h0M253.8 472.6h0M253.9 471.9h0M253.9 471.3h0M254 470.6h0M254.1 470h0M254.1 469.3h0M254.2 468.6h0M254.3 468h0M254.3 467.3h0M254.4 466.7h0M254.5 466.1h0M254.5 465.4h0M254.6 464.8h0M254.6 464.1h0M254.7 463.5h0M254.8 462.9h0M254.8 462.2h0M254.9 461.6h0M255 460.9h0M255 460.3h0M255.1 459.7h0M255.2 459h0M255.2 458.4h0M255.3 457.7h0M255.4 457.1h0M255.4 456.5h0M255.5 455.8h0M255.5 455.2h0M255.6 454.5h0M255.7 453.9h0M255.7 453.3h0M255.8 452.6h0M254.9 435.1h0M255.7 415.6h0" stroke="#3bb34a" stroke-width="2.3" stroke-linecap="round" fill="none"/>
<path d="M258.2 499.9h0M258.2 499.8h0M258.3 499.7h0M258.3 499.5h0M258.4 499.4h0M258.4 499.3h0M258.5 499.2h0M258.5 499.1h0M258.6 499h0M258.6 498.8h0M258.7 498.7h0M258.7 498.6h0M258.8 498.5h0M258.8 498.4h0M258.9 498.2h0M258.9 498.1h0M259 498h0M259 497.9h0M259 497.8h0M259.1 497.7h0M259.1 497.5h0M259.2 497.4h0M259.2 497.3h0M259.3 497.2h0M259.3 497.1h0M259.4 496.9h0M259.4 496.8h0M259.5 496.7h0M259.5 496.6h0M259.6 496.5h0M259.6 496.3h0M259.7 496.2h0M259.7 496.1h0M259.8 496h0M259.8 495.9h0M259.9 495.8h0M259.9 495.6h0M259.9 495.5h0M260 495.4h0M260 495.3h0M260.1 495.2h0M260.1 495h0M260.2 494.9h0M260.2 494.8h0M260.3 494.7h0M260.3 494.6h0M260.4 494.5h0M260.4 494.3h0M260.5 494.2h0M260.5 494.1h0M260.6 494h0M260.6 493.9h0M260.7 493.7h0M260.7 493.6h0M260.7 493.5h0M260.8 493.4h0M260.8 493.3h0M260.9 493.2h0M260.9 493h0M261 492.9h0M261 492.8h0M261.1 492.7h0M261.1 492.6h0M261.2 492.4h0M261.2 492.3h0M261.3 492.2h0M261.3 492.1h0M261.4 492h0M261.4 491.8h0M261.5 491.7h0M261.5 491.6h0M261.6 491.5h0M261.6 491.4h0M261.6 491.3h0M261.7 491.1h0M261.7 491h0M261.8 490.9h0M261.8 490.8h0M261.9 490.7h0M261.9 490.5h0M262 490.4h0M262 490.3h0M262.1 490.2h0M262.1 490.1h0M262.2 490h0M262.2 489.8h0M262.3 489.7h0M262.3 489.6h0M262.4 489.5h0M262.4 489.4h0M262.4 489.2h0M262.5 489.1h0M262.5 489h0M262.6 488.9h0M262.6 488.8h0M262.7 488.7h0M262.7 488.5h0M262.8 488.4h0M262.8 488.3h0M262.9 488.2h0M262.9 488.1h0M263 487.9h0M263 487.8h0M263.1 487.7h0M263.1 487.6h0M263.2 487.5h0M263.2 487.4h0M263.2 487.2h0M263.3 487.1h0M263.3 487h0M263.4 486.9h0M263.4 486.8h0M263.5 486.6h0M263.5 486.5h0M263.6 486.4h0M263.6 486.3h0M263.7 486.2h0M263.7 486h0M263.8 485.9h0M263.8 485.8h0M263.9 485.7h0M263.9 485.6h0M264 485.5h0M264 485.3h0M264.1 485.2h0M264.1 485.1h0M264.1 485h0M264.2 484.9h0M264.2 484.7h0M264.3 484.6h0M264.3 484.5h0M264.4 484.4h0M264.4 484.3h0M264.5 484.2h0M264.5 484h0M264.6 483.9h0M264.6 483.8h0M264.7 483.7h0M264.7 483.6h0M264.8 483.4h0M264.8 483.3h0M264.9 483.2h0M264.9 483.1h0M264.9 483h0M265 482.8h0M265 482.7h0M265.1 482.5h0M265.1 482.4h0M265.2 482.2h0M265.2 482.1h0M265.3 481.9h0M265.3 481.8h0M265.4 481.6h0M265.4 481.5h0M265.5 481.3h0M265.5 481.2h0M265.6 481h0M265.6 480.9h0M265.7 480.7h0M265.7 480.6h0M265.8 480.4h0M265.8 480.3h0M265.8 480.1h0M265.9 480h0M265.9 479.8h0M266 479.7h0M266 479.5h0M266.1 479.4h0M266.1 479.2h0M266.2 479.1h0M266.2 478.9h0M266.3 478.8h0M266.3 478.6h0M266.4 478.5h0M266.4 478.3h0M266.5 478.2h0M266.5 478h0M266.6 477.9h0M266.6 477.7h0M266.6 477.6h0M266.7 477.4h0M266.7 477.3h0M266.8 477.1h0M266.8 477h0M266.9 476.8h0M266.9 476.7h0M267 476.5h0M267 476.4h0M267.1 476.2h0M267.1 476.1h0M267.2 475.9h0M267.2 475.8h0M267.3 475.6h0M267.3 475.5h0M267.4 475.3h0M267.4 475.2h0M267.4 475h0M267.5 474.9h0M267.5 474.7h0M267.6 474.6h0M267.6 474.4h0M267.7 474.3h0M267.7 474.1h0M267.8 474h0M267.8 473.8h0M267.9 473.7h0M267.9 473.5h0M268 473.4h0M268 473.2h0M268.1 473.1h0M268.1 472.9h0M268.2 472.8h0M268.2 472.6h0M268.3 472.5h0M268.3 472.3h0M268.3 472.2h0M268.4 472h0M268.4 471.9h0M268.5 471.7h0M268.5 471.6h0M268.6 471.4h0M268.6 471.3h0M268.7 471.1h0M268.7 471h0M268.8 470.8h0M268.8 470.7h0M268.9 470.5h0M268.9 470.4h0M269 470.2h0M269 470.1h0M269.1 469.9h0M269.1 469.8h0M269.1 469.6h0M269.2 469.5h0M269.2 469.3h0M269.3 469.2h0M269.3 469h0M269.4 468.9h0M269.4 468.7h0M269.5 468.5h0M269.5 468.3h0M269.6 468.2h0M269.6 468h0M269.7 467.8h0M269.7 467.6h0M269.8 467.4h0M269.8 467.3h0M269.9 467.1h0M269.9 466.9h0M270 466.7h0M270 466.6h0M270 466.4h0M270.1 466.2h0M270.1 466h0M270.2 465.9h0M270.2 465.7h0M270.3 465.5h0M270.3 465.3h0M270.4 465.2h0M270.4 465h0M270.5 464.8h0M270.5 464.6h0M270.6 464.5h0M270.6 464.3h0M270.7 464.1h0M270.7 463.9h0M270.8 463.8h0M270.8 463.6h0M270.8 463.4h0M270.9 463.2h0M270.9 463h0M271 462.9h0M271 462.7h0M271.1 462.5h0M271.1 462.3h0M271.2 462.2h0M271.2 462h0M271.3 461.8h0M271.3 461.6h0M271.4 461.5h0M271.4 461.3h0M271.5 461.1h0M271.5 460.9h0M271.6 460.8h0M271.6 460.6h0M271.6 460.4h0M271.7 460.2h0M271.7 460.1h0M271.8 459.9h0M271.8 459.7h0M271.9 459.5h0M271.9 459.4h0M272 459.2h0M272 459h0M272.1 458.8h0M272.1 458.6h0M272.2 458.5h0M272.2 458.3h0M272.3 458.1h0M272.3 457.9h0M272.4 457.8h0M272.4 457.6h0M272.5 457.4h0M272.5 457.2h0M272.5 457.1h0M272.6 456.9h0M272.6 456.7h0M272.7 456.5h0M272.7 456.4h0M272.8 456.2h0M272.8 456h0M272.9 455.8h0M272.9 455.7h0M273 455.5h0M273 455.3h0M273.1 455.1h0M273.1 455h0M273.2 454.8h0M273.2 454.6h0M273.3 454.4h0M273.3 454.2h0M273.3 454.1h0M273.4 453.9h0M273.4 453.7h0M273.5 453.5h0M273.5 453.4h0M273.6 453.2h0M273.6 453h0M273.7 452.8h0M273.7 452.7h0M273.8 452.5h0M273.8 452.2h0M273.9 452h0M273.9 451.8h0M274 451.6h0M274 451.4h0M274.1 451.1h0M274.1 450.9h0M274.2 450.7h0M274.2 450.5h0M274.2 450.3h0M274.3 450.1h0M274.3 449.8h0M274.4 449.6h0M274.4 449.4h0M274.5 449.2h0M274.5 449h0M274.6 448.7h0M274.6 448.5h0M274.7 448.3h0M274.7 448.1h0M274.8 447.9h0M274.8 447.6h0M274.9 447.4h0M274.9 447.2h0M275 447h0M275 446.8h0M275 446.5h0M275.1 446.3h0M275.1 446.1h0M275.2 445.9h0M275.2 445.7h0M275.3 445.5h0M275.3 445.2h0M275.4 445h0M275.4 444.8h0M275.5 444.6h0M275.5 444.4h0M275.6 444.1h0M275.6 443.9h0M275.7 443.7h0M275.7 443.5h0M275.8 443.3h0M275.8 443h0M275.8 442.8h0M275.9 442.6h0M275.9 442.4h0M276 442.2h0M276 442h0M276.1 441.7h0M276.1 441.5h0M276.2 441.3h0M276.2 441.1h0M276.3 440.9h0M276.3 440.6h0M276.4 440.4h0M276.4 440.2h0M276.5 440h0M276.5 439.8h0M276.6 439.5h0M276.6 439.3h0M276.7 439.1h0M276.7 438.9h0M276.7 438.7h0M276.8 438.5h0M276.8 438.2h0M276.9 438h0M276.9 437.8h0M277 437.6h0M277 437.4h0M277.1 437.1h0M277.1 436.9h0M277.2 436.7h0M277.2 436.5h0M277.3 436.3h0M277.3 436h0M277.4 435.8h0M277.4 435.6h0M277.5 435.4h0M277.5 435.2h0M277.5 435h0M277.6 434.7h0M277.6 434.5h0M277.7 434.3h0M277.7 434.1h0M277.8 433.9h0M277.8 433.7h0M277.9 433.5h0M277.9 433.3h0M278 433.1h0M278 432.9h0M278.1 432.7h0M278.1 432.5h0M278.2 432.3h0M278.2 432.1h0M278.3 431.9h0M278.3 431.7h0M278.4 431.5h0M278.4 431.3h0M278.4 431.1h0M278.5 430.9h0M278.5 430.7h0M278.6 430.5h0M278.6 430.3h0M278.7 430.1h0M278.7 429.9h0M278.8 429.7h0M278.8 429.5h0M278.9 429.3h0M278.9 429.1h0M279 428.9h0M279 428.7h0M279.1 428.5h0M279.1 428.3h0M279.2 428.1h0M279.2 427.9h0M278.3 427.2h0M278.4 427.1h0M279.7 427.1h0M278.4 426.8h0M279.7 426.6h0M279.1 425.2h0M279 425h0M278.5 423.6h0M278.9 423.6h0M278.8 422.7h0M279.3 422.5h0M279.7 422h0M278.8 421.9h0M278.3 421.7h0M279.7 418.9h0M279 418.7h0M278.9 417.5h0M279.4 417.2h0M279.2 416.9h0M279.1 416.2h0M278.5 413.8h0M279.4 413h0M278.6 410.5h0M279.2 409.7h0M278.6 409.5h0M278.6 407.1h0M279.2 405.9h0M279.3 401.7h0M279.7 400.6h0M279.3 399.8h0M279.2 398.5h0M279.1 398.1h0M278.7 395h0M279.6 394.6h0M279.1 393.4h0M278.4 392.6h0M279 390h0M278.8 387.4h0M278.5 387.1h0M279.3 385.4h0M279.4 385.3h0M279.6 382.7h0M279.5 380.3h0M279.7 379.9h0M278.6 378h0M279.1 377.1h0M278.9 374.9h0M279.3 371.2h0M279.3 370.8h0M278.4 370.4h0M278.7 367.4h0M278.6 365.1h0M278.4 364.3h0M278.7 364h0M279 362.7h0M278.7 350.8h0M278.5 348.8h0" stroke="#f07474" stroke-width="2.3" stroke-linecap="round" fill="none"/>
<path d="M282.2 499.9h0M282.3 499.9h0M282.3 499.9h0M282.4 499.9h0M282.5 499.9h0M282.5 499.9h0M282.6 499.9h0M282.7 499.9h0M282.7 499.9h0M282.8 499.9h0M282.9 499.9h0M282.9 499.9h0M283 499.9h0M283.1 499.9h0M283.1 499.9h0M283.2 499.9h0M283.3 499.9h0M283.3 499.9h0M283.4 499.9h0M283.5 499.9h0M283.5 499.9h0M283.6 499.9h0M283.7 499.9h0M283.8 499.9h0M283.8 499.9h0M283.9 499.9h0M284 499.9h0M284 499.9h0M284.1 499.9h0M284.2 499.9h0M284.2 499.9h0M284.3 499.8h0M284.4 499.8h0M284.4 499.8h0M284.5 499.8h0M284.6 499.8h0M284.6 499.8h0M284.7 499.8h0M284.8 499.8h0M284.8 499.8h0M284.9 499.8h0M285 499.8h0M285 499.8h0M285.1 499.8h0M285.2 499.8h0M285.2 499.8h0M285.3 499.8h0M285.4 499.8h0M285.4 499.8h0M285.5 499.8h0M285.6 499.8h0M285.6 499.8h0M285.7 499.8h0M285.8 499.8h0M285.8 499.8h0M285.9 499.8h0M286 499.8h0M286 499.8h0M286.1 499.8h0M286.2 499.8h0M286.2 499.8h0M286.3 499.8h0M286.4 499.8h0M286.5 499.8h0M286.5 499.8h0M286.6 499.8h0M286.7 499.8h0M286.7 499.8h0M286.8 499.8h0M286.9 499.8h0M286.9 499.8h0M287 499.8h0M287.1 499.8h0M287.1 499.8h0M287.2 499.8h0M287.3 499.8h0M287.3 499.8h0M287.4 499.8h0M287.5 499.8h0M287.5 499.8h0M287.6 499.8h0M287.7 499.8h0M287.7 499.8h0M287.8 499.8h0M287.9 499.8h0M287.9 499.8h0M288 499.8h0M288.1 499.8h0M288.1 499.8h0M288.2 499.8h0M288.3 499.8h0M288.3 499.7h0M288.4 499.7h0M288.5 499.7h0M288.5 499.7h0M288.6 499.7h0M288.7 499.7h0M288.7 499.7h0M288.8 499.7h0M288.9 499.7h0M288.9 499.7h0M289 499.7h0M289.1 499.7h0M289.1 499.7h0M289.2 499.7h0M289.3 499.7h0M289.4 499.7h0M289.4 499.7h0M289.5 499.7h0M289.6 499.7h0M289.6 499.7h0M289.7 499.7h0M289.8 499.7h0M289.8 499.7h0M289.9 499.7h0M290 499.7h0M290 499.7h0M290.1 499.7h0M290.2 499.7h0M290.2 499.7h0M290.3 499.7h0M290.4 499.7h0M290.4 499.7h0M290.5 499.7h0M290.6 499.7h0M290.6 499.6h0M290.7 499.5h0M290.8 499.5h0M290.8 499.4h0M290.9 499.3h0M291 499.2h0M291 499.1h0M291.1 499.1h0M291.2 499h0M291.2 498.9h0M291.3 498.8h0M291.4 498.7h0M291.4 498.7h0M291.5 498.6h0M291.6 498.5h0M291.6 498.4h0M291.7 498.3h0M291.8 498.3h0M291.8 498.2h0M291.9 498.1h0M292 498h0M292 497.9h0M292.1 497.9h0M292.2 497.8h0M292.3 497.7h0M292.3 497.6h0M292.4 497.5h0M292.5 497.5h0M292.5 497.4h0M292.6 497.3h0M292.7 497.2h0M292.7 497.2h0M292.8 497.1h0M292.9 497h0M292.9 496.9h0M293 496.9h0M293.1 496.8h0M293.1 496.7h0M293.2 496.6h0M293.3 496.6h0M293.3 496.5h0M293.4 496.4h0M293.5 496.3h0M293.5 496.2h0M293.6 496.2h0M293.7 496.1h0M293.7 496h0M293.8 495.9h0M293.9 495.9h0M293.9 495.8h0M294 495.7h0M294.1 495.6h0M294.1 495.6h0M294.2 495.5h0M294.3 495.4h0M294.3 495.3h0M294.4 495.3h0M294.5 495.2h0M294.5 495.1h0M294.6 495h0M294.7 495h0M294.7 494.9h0M294.8 494.8h0M294.9 494.7h0M295 494.6h0M295 494.6h0M295.1 494.5h0M295.2 494.4h0M295.2 494.3h0M295.3 494.3h0M295.4 494.1h0M295.4 494h0M295.5 493.8h0M295.6 493.7h0M295.6 493.5h0M295.7 493.3h0M295.8 493.2h0M295.8 493h0M295.9 492.9h0M296 492.7h0M296 492.5h0M296.1 492.4h0M296.2 492.2h0M296.2 492.1h0M296.3 491.9h0M296.4 491.8h0M296.4 491.6h0M296.5 491.4h0M296.6 491.3h0M296.6 491.1h0M296.7 491h0M296.8 490.8h0M296.8 490.6h0M296.9 490.5h0M297 490.3h0M297 490.2h0M297.1 490h0M297.2 489.9h0M297.2 489.7h0M297.3 489.5h0M297.4 489.4h0M297.4 489.2h0M297.5 489.1h0M297.6 488.9h0M297.6 488.7h0M297.7 488.6h0M297.8 488.4h0M297.9 488.3h0M297.9 488.1h0M298 488h0M298.1 487.7h0M298.1 487.3h0M298.2 486.9h0M298.3 486.5h0M298.3 486.2h0M298.4 485.8h0M298.5 485.4h0M298.5 485h0M298.6 484.6h0M298.7 484.2h0M298.7 483.9h0M298.8 483.5h0M298.9 483.1h0M298.9 482.7h0M299 482.3h0M299.1 481.9h0M299.1 481.6h0M299.2 481.2h0M299.3 480.8h0M299.3 480.4h0M299.4 480h0M299.5 479.7h0M299.5 479.3h0M299.6 478.9h0M299.7 478.5h0M299.7 478.1h0M299.8 477.7h0M299.9 477.4h0M299.9 477h0M300 476.6h0M300.1 476.2h0M300.1 475.8h0M300.2 475.5h0M300.3 475.1h0M300.3 474.7h0M300.4 474.3h0M300.5 473.9h0M300.5 473.5h0M300.6 473.2h0M300.7 472.8h0M300.8 472.4h0M300.8 472h0M300.9 471.6h0M301 471.3h0M301 470.9h0M301.1 470.5h0M301.2 470.1h0M301.2 469.7h0M301.3 469.3h0M301.4 469h0M301.4 468.6h0M301.5 468.2h0M301.6 467.7h0M301.6 467.1h0M301.7 466.5h0M301.8 465.9h0M301.8 465.3h0M301.9 464.7h0M302 464.1h0M302 463.5h0M302.1 462.9h0M302.2 462.4h0M302.2 461.8h0M302.3 461.2h0M302.4 460.6h0M302.4 460h0M302.5 459.4h0M302.6 458.8h0M302.6 458.2h0M302.7 457.6h0M302.8 457h0M302.8 456.4h0M302.9 455.8h0M303 455.2h0M303 454.6h0M303.1 454.1h0M303.2 453.5h0M303.2 452.9h0M303.3 452.3h0M303.4 451.7h0M303.5 451.1h0M303.5 450.5h0M303.6 450.3h0M303.7 450.1h0M303.7 449.9h0M303.8 449.7h0M303.9 449.5h0M303.9 449.2h0M304 449h0M304.1 448.8h0M304.1 448.6h0M304.2 448.4h0M304.3 448.2h0M304.3 448h0M304.4 447.7h0M304.5 447.5h0M304.5 447.3h0M304.6 447.1h0M304.7 446.9h0M304.7 446.7h0M304.8 446.4h0M305 412.5h0" stroke="#3bb34a" stroke-width="2.3" stroke-linecap="round" fill="none"/>
<line x1="211.9" y1="474.9" x2="231.2" y2="474.9" stroke="#000" stroke-width="2.0" />
<line x1="236" y1="498.7" x2="255.3" y2="498.7" stroke="#000" stroke-width="2.0" />
<line x1="260" y1="476.3" x2="279.6" y2="476.3" stroke="#000" stroke-width="2.0" />
<line x1="284.3" y1="498.7" x2="303.7" y2="498.7" stroke="#000" stroke-width="2.0" />
<rect x="205" y="312.7" width="101.5" height="188.6" fill="none" stroke="#2e2e2e" stroke-width="1.3"/>
<line x1="195.8" y1="499.9" x2="205" y2="499.9" stroke="#2e2e2e" stroke-width="1.2" />
<text x="190.2" y="503.2" font-size="9.2" text-anchor="middle" fill="#111" stroke="#111" stroke-width="0.22" >0</text>
<line x1="195.8" y1="469.1" x2="205" y2="469.1" stroke="#2e2e2e" stroke-width="1.2" />
<text x="190.2" y="472.4" font-size="9.2" text-anchor="middle" fill="#111" stroke="#111" stroke-width="0.22" >3</text>
<line x1="195.8" y1="438.2" x2="205" y2="438.2" stroke="#2e2e2e" stroke-width="1.2" />
<text x="190.2" y="441.5" font-size="9.2" text-anchor="middle" fill="#111" stroke="#111" stroke-width="0.22" >6</text>
<line x1="195.8" y1="407.4" x2="205" y2="407.4" stroke="#2e2e2e" stroke-width="1.2" />
<text x="190.2" y="410.7" font-size="9.2" text-anchor="middle" fill="#111" stroke="#111" stroke-width="0.22" >9</text>
<line x1="195.8" y1="376.5" x2="205" y2="376.5" stroke="#2e2e2e" stroke-width="1.2" />
<text x="190.2" y="379.8" font-size="9.2" text-anchor="middle" fill="#111" stroke="#111" stroke-width="0.22" >12</text>
<line x1="195.8" y1="345.7" x2="205" y2="345.7" stroke="#2e2e2e" stroke-width="1.2" />
<text x="190.2" y="349" font-size="9.2" text-anchor="middle" fill="#111" stroke="#111" stroke-width="0.22" >15</text>
<text transform="translate(182.3 415.8) rotate(-90)" font-size="9.4" text-anchor="middle" fill="#111" stroke="#111" stroke-width="0.22" >Transcripts Per Million (TPM)</text>
<text transform="translate(227.3 309) rotate(-45)" font-size="8.5" text-anchor="start" fill="#111" stroke="#111" stroke-width="0.22" >LUAD</text>
<text transform="translate(275.3 309) rotate(-45)" font-size="8.5" text-anchor="start" fill="#111" stroke="#111" stroke-width="0.22" >LUSC</text>
<text transform="translate(201 541.5) rotate(-45)" font-size="9.7" text-anchor="start" fill="#111" stroke="#111" stroke-width="0.22" >T (n=483)</text>
<text transform="translate(224.7 542.8) rotate(-45)" font-size="9.7" text-anchor="start" fill="#111" stroke="#111" stroke-width="0.22" >N (n=347)</text>
<text transform="translate(248 541.5) rotate(-45)" font-size="9.7" text-anchor="start" fill="#111" stroke="#111" stroke-width="0.22" >T (n=486)</text>
<text transform="translate(272.5 542.8) rotate(-45)" font-size="9.7" text-anchor="start" fill="#111" stroke="#111" stroke-width="0.22" >N (n=338)</text>
<text x="323.4" y="287.8" font-size="14.5" text-anchor="start" fill="#000" stroke="#000" stroke-width="0.22" >e</text>
<text x="354.1" y="319.3" font-size="8.4" text-anchor="start" fill="#111" font-weight="bold" font-style="italic" stroke="none">CR2</text>
<line x1="354.4" y1="322.5" x2="354.4" y2="379.2" stroke="#444" stroke-width="0.9" />
<line x1="354.4" y1="379.2" x2="406.4" y2="379.2" stroke="#444" stroke-width="0.9" />
<line x1="352.4" y1="376" x2="354.4" y2="376" stroke="#444" stroke-width="0.7" />
<text x="351.8" y="379" font-size="8.5" text-anchor="end" fill="#222" stroke="#222" stroke-width="0.22" >0</text>
<line x1="352.4" y1="363.5" x2="354.4" y2="363.5" stroke="#444" stroke-width="0.7" />
<text x="351.8" y="366.5" font-size="8.5" text-anchor="end" fill="#222" stroke="#222" stroke-width="0.22" >1</text>
<line x1="352.4" y1="350.4" x2="354.4" y2="350.4" stroke="#444" stroke-width="0.7" />
<text x="351.8" y="353.4" font-size="8.5" text-anchor="end" fill="#222" stroke="#222" stroke-width="0.22" >2</text>
<line x1="352.4" y1="338" x2="354.4" y2="338" stroke="#444" stroke-width="0.7" />
<text x="351.8" y="341" font-size="8.5" text-anchor="end" fill="#222" stroke="#222" stroke-width="0.22" >3</text>
<line x1="352.4" y1="325.5" x2="354.4" y2="325.5" stroke="#444" stroke-width="0.7" />
<text x="351.8" y="328.5" font-size="8.5" text-anchor="end" fill="#222" stroke="#222" stroke-width="0.22" >4</text>
<text x="384.3" y="333.4" font-size="10" text-anchor="middle" fill="#111" stroke="#111" stroke-width="0.22" >***</text>
<line x1="369" y1="373.5" x2="369" y2="374.6" stroke="#3f9a7e" stroke-width="1.1" />
<line x1="369" y1="377.2" x2="369" y2="377.2" stroke="#3f9a7e" stroke-width="1.1" />
<rect x="363" y="374.6" width="12" height="2.6" fill="#fff" stroke="#3f9a7e" stroke-width="1.1"/>
<line x1="363" y1="376" x2="375" y2="376" stroke="#3f9a7e" stroke-width="1.1" />
<line x1="392.6" y1="353.2" x2="392.6" y2="364.9" stroke="#dc3535" stroke-width="1.1" />
<line x1="392.6" y1="375.4" x2="392.6" y2="376" stroke="#dc3535" stroke-width="1.1" />
<rect x="386.6" y="364.9" width="12" height="10.5" fill="#fff" stroke="#dc3535" stroke-width="1.1"/>
<line x1="386.6" y1="371.5" x2="398.6" y2="371.5" stroke="#dc3535" stroke-width="1.1" />
<circle cx="392.6" cy="338" r="1.3" fill="#dc3535" />
<text transform="translate(373.2 388.1) rotate(-45)" font-size="9.5" text-anchor="end" fill="#111" stroke="#111" stroke-width="0.22" >Normal</text>
<text transform="translate(396.2 388.1) rotate(-45)" font-size="9.5" text-anchor="end" fill="#111" stroke="#111" stroke-width="0.22" >Tumors</text>
<text x="420.7" y="319.3" font-size="8.4" text-anchor="start" fill="#111" font-weight="bold" font-style="italic" stroke="none">CD19</text>
<line x1="421" y1="322.5" x2="421" y2="379.2" stroke="#444" stroke-width="0.9" />
<line x1="421" y1="379.2" x2="473" y2="379.2" stroke="#444" stroke-width="0.9" />
<line x1="419" y1="376" x2="421" y2="376" stroke="#444" stroke-width="0.7" />
<text x="418.4" y="379" font-size="8.5" text-anchor="end" fill="#222" stroke="#222" stroke-width="0.22" >0</text>
<line x1="419" y1="361.5" x2="421" y2="361.5" stroke="#444" stroke-width="0.7" />
<text x="418.4" y="364.5" font-size="8.5" text-anchor="end" fill="#222" stroke="#222" stroke-width="0.22" >1</text>
<line x1="419" y1="347" x2="421" y2="347" stroke="#444" stroke-width="0.7" />
<text x="418.4" y="350" font-size="8.5" text-anchor="end" fill="#222" stroke="#222" stroke-width="0.22" >2</text>
<line x1="419" y1="332.4" x2="421" y2="332.4" stroke="#444" stroke-width="0.7" />
<text x="418.4" y="335.4" font-size="8.5" text-anchor="end" fill="#222" stroke="#222" stroke-width="0.22" >3</text>
<text x="448.7" y="333.4" font-size="10" text-anchor="middle" fill="#111" stroke="#111" stroke-width="0.22" >*</text>
<line x1="435.6" y1="368.5" x2="435.6" y2="371.2" stroke="#3f9a7e" stroke-width="1.1" />
<line x1="435.6" y1="376" x2="435.6" y2="376" stroke="#3f9a7e" stroke-width="1.1" />
<rect x="429.6" y="371.2" width="12" height="4.8" fill="#fff" stroke="#3f9a7e" stroke-width="1.1"/>
<line x1="429.6" y1="373.5" x2="441.6" y2="373.5" stroke="#3f9a7e" stroke-width="1.1" />
<line x1="459.2" y1="353.2" x2="459.2" y2="362.4" stroke="#dc3535" stroke-width="1.1" />
<line x1="459.2" y1="372" x2="459.2" y2="374.5" stroke="#dc3535" stroke-width="1.1" />
<rect x="453.2" y="362.4" width="12" height="9.6" fill="#fff" stroke="#dc3535" stroke-width="1.1"/>
<line x1="453.2" y1="368.5" x2="465.2" y2="368.5" stroke="#dc3535" stroke-width="1.1" />
<circle cx="459.2" cy="340" r="1.3" fill="#dc3535" />
<text transform="translate(439.8 388.1) rotate(-45)" font-size="9.5" text-anchor="end" fill="#111" stroke="#111" stroke-width="0.22" >Normal</text>
<text transform="translate(462.8 388.1) rotate(-45)" font-size="9.5" text-anchor="end" fill="#111" stroke="#111" stroke-width="0.22" >Tumors</text>
<text x="492.3" y="319.3" font-size="8.4" text-anchor="start" fill="#111" font-weight="bold" font-style="italic" stroke="none">CD27</text>
<line x1="492.6" y1="322.5" x2="492.6" y2="379.2" stroke="#444" stroke-width="0.9" />
<line x1="492.6" y1="379.2" x2="544.6" y2="379.2" stroke="#444" stroke-width="0.9" />
<line x1="490.6" y1="376.3" x2="492.6" y2="376.3" stroke="#444" stroke-width="0.7" />
<text x="490" y="379.3" font-size="8.5" text-anchor="end" fill="#222" stroke="#222" stroke-width="0.22" >0</text>
<line x1="490.6" y1="365.2" x2="492.6" y2="365.2" stroke="#444" stroke-width="0.7" />
<text x="490" y="368.2" font-size="8.5" text-anchor="end" fill="#222" stroke="#222" stroke-width="0.22" >1</text>
<line x1="490.6" y1="354.8" x2="492.6" y2="354.8" stroke="#444" stroke-width="0.7" />
<text x="490" y="357.8" font-size="8.5" text-anchor="end" fill="#222" stroke="#222" stroke-width="0.22" >2</text>
<line x1="490.6" y1="343.4" x2="492.6" y2="343.4" stroke="#444" stroke-width="0.7" />
<text x="490" y="346.4" font-size="8.5" text-anchor="end" fill="#222" stroke="#222" stroke-width="0.22" >3</text>
<line x1="490.6" y1="332.3" x2="492.6" y2="332.3" stroke="#444" stroke-width="0.7" />
<text x="490" y="335.3" font-size="8.5" text-anchor="end" fill="#222" stroke="#222" stroke-width="0.22" >4</text>
<text x="521.3" y="333.4" font-size="10" text-anchor="middle" fill="#111" stroke="#111" stroke-width="0.22" >**</text>
<line x1="507.2" y1="354.8" x2="507.2" y2="357.5" stroke="#3f9a7e" stroke-width="1.1" />
<line x1="507.2" y1="371.2" x2="507.2" y2="371.2" stroke="#3f9a7e" stroke-width="1.1" />
<rect x="501.2" y="357.5" width="12" height="13.7" fill="#fff" stroke="#3f9a7e" stroke-width="1.1"/>
<line x1="501.2" y1="366.4" x2="513.2" y2="366.4" stroke="#3f9a7e" stroke-width="1.1" />
<line x1="530.8" y1="336.5" x2="530.8" y2="345.8" stroke="#dc3535" stroke-width="1.1" />
<line x1="530.8" y1="362.3" x2="530.8" y2="369.4" stroke="#dc3535" stroke-width="1.1" />
<rect x="524.8" y="345.8" width="12" height="16.5" fill="#fff" stroke="#dc3535" stroke-width="1.1"/>
<line x1="524.8" y1="354.5" x2="536.8" y2="354.5" stroke="#dc3535" stroke-width="1.1" />
<text transform="translate(511.4 388.1) rotate(-45)" font-size="9.5" text-anchor="end" fill="#111" stroke="#111" stroke-width="0.22" >Normal</text>
<text transform="translate(534.4 388.1) rotate(-45)" font-size="9.5" text-anchor="end" fill="#111" stroke="#111" stroke-width="0.22" >Tumors</text>
<text x="561.4" y="319.3" font-size="8.4" text-anchor="start" fill="#111" font-weight="bold" font-style="italic" stroke="none">CTLA4</text>
<line x1="561.7" y1="322.5" x2="561.7" y2="379.2" stroke="#444" stroke-width="0.9" />
<line x1="561.7" y1="379.2" x2="613.7" y2="379.2" stroke="#444" stroke-width="0.9" />
<line x1="559.7" y1="375.7" x2="561.7" y2="375.7" stroke="#444" stroke-width="0.7" />
<text x="559.1" y="378.7" font-size="8.5" text-anchor="end" fill="#222" stroke="#222" stroke-width="0.22" >0</text>
<line x1="559.7" y1="356" x2="561.7" y2="356" stroke="#444" stroke-width="0.7" />
<text x="559.1" y="359" font-size="8.5" text-anchor="end" fill="#222" stroke="#222" stroke-width="0.22" >1</text>
<line x1="559.7" y1="336" x2="561.7" y2="336" stroke="#444" stroke-width="0.7" />
<text x="559.1" y="339" font-size="8.5" text-anchor="end" fill="#222" stroke="#222" stroke-width="0.22" >2</text>
<text x="591.3" y="333.4" font-size="10" text-anchor="middle" fill="#111" stroke="#111" stroke-width="0.22" >**</text>
<line x1="576.3" y1="362.3" x2="576.3" y2="365.2" stroke="#3f9a7e" stroke-width="1.1" />
<line x1="576.3" y1="370.3" x2="576.3" y2="372" stroke="#3f9a7e" stroke-width="1.1" />
<rect x="570.3" y="365.2" width="12" height="5.1" fill="#fff" stroke="#3f9a7e" stroke-width="1.1"/>
<line x1="570.3" y1="367.3" x2="582.3" y2="367.3" stroke="#3f9a7e" stroke-width="1.1" />
<circle cx="576.3" cy="355.4" r="1.3" fill="#3f9a7e" />
<circle cx="576.3" cy="376.3" r="1.3" fill="#3f9a7e" />
<line x1="599.9" y1="345.5" x2="599.9" y2="352.4" stroke="#dc3535" stroke-width="1.1" />
<line x1="599.9" y1="363.8" x2="599.9" y2="371.8" stroke="#dc3535" stroke-width="1.1" />
<rect x="593.9" y="352.4" width="12" height="11.4" fill="#fff" stroke="#dc3535" stroke-width="1.1"/>
<line x1="593.9" y1="357.8" x2="605.9" y2="357.8" stroke="#dc3535" stroke-width="1.1" />
<text transform="translate(580.5 388.1) rotate(-45)" font-size="9.5" text-anchor="end" fill="#111" stroke="#111" stroke-width="0.22" >Normal</text>
<text transform="translate(603.5 388.1) rotate(-45)" font-size="9.5" text-anchor="end" fill="#111" stroke="#111" stroke-width="0.22" >Tumors</text>
<text x="631.7" y="319.3" font-size="8.4" text-anchor="start" fill="#111" font-weight="bold" font-style="italic" stroke="none">CXCL13</text>
<line x1="632" y1="322.5" x2="632" y2="379.2" stroke="#444" stroke-width="0.9" />
<line x1="632" y1="379.2" x2="684" y2="379.2" stroke="#444" stroke-width="0.9" />
<line x1="630" y1="375.7" x2="632" y2="375.7" stroke="#444" stroke-width="0.7" />
<text x="629.4" y="378.7" font-size="8.5" text-anchor="end" fill="#222" stroke="#222" stroke-width="0.22" >0</text>
<line x1="630" y1="357.8" x2="632" y2="357.8" stroke="#444" stroke-width="0.7" />
<text x="629.4" y="360.8" font-size="8.5" text-anchor="end" fill="#222" stroke="#222" stroke-width="0.22" >2</text>
<line x1="630" y1="339.8" x2="632" y2="339.8" stroke="#444" stroke-width="0.7" />
<text x="629.4" y="342.8" font-size="8.5" text-anchor="end" fill="#222" stroke="#222" stroke-width="0.22" >4</text>
<line x1="630" y1="321.8" x2="632" y2="321.8" stroke="#444" stroke-width="0.7" />
<text x="629.4" y="324.8" font-size="8.5" text-anchor="end" fill="#222" stroke="#222" stroke-width="0.22" >6</text>
<text x="663.2" y="333.4" font-size="10" text-anchor="middle" fill="#111" stroke="#111" stroke-width="0.22" >***</text>
<line x1="646.6" y1="372.7" x2="646.6" y2="374.1" stroke="#3f9a7e" stroke-width="1.1" />
<line x1="646.6" y1="375.8" x2="646.6" y2="375.8" stroke="#3f9a7e" stroke-width="1.1" />
<rect x="640.6" y="374.1" width="12" height="1.7" fill="#fff" stroke="#3f9a7e" stroke-width="1.1"/>
<line x1="640.6" y1="375" x2="652.6" y2="375" stroke="#3f9a7e" stroke-width="1.1" />
<line x1="670.2" y1="334.4" x2="670.2" y2="350.9" stroke="#dc3535" stroke-width="1.1" />
<line x1="670.2" y1="374.8" x2="670.2" y2="375.5" stroke="#dc3535" stroke-width="1.1" />
<rect x="664.2" y="350.9" width="12" height="23.9" fill="#fff" stroke="#dc3535" stroke-width="1.1"/>
<line x1="664.2" y1="371.2" x2="676.2" y2="371.2" stroke="#dc3535" stroke-width="1.1" />
<text transform="translate(650.8 388.1) rotate(-45)" font-size="9.5" text-anchor="end" fill="#111" stroke="#111" stroke-width="0.22" >Normal</text>
<text transform="translate(673.8 388.1) rotate(-45)" font-size="9.5" text-anchor="end" fill="#111" stroke="#111" stroke-width="0.22" >Tumors</text>
<text x="353.1" y="447.7" font-size="8.4" text-anchor="start" fill="#111" font-weight="bold" font-style="italic" stroke="none">MS4A1</text>
<line x1="353.4" y1="450.3" x2="353.4" y2="506.8" stroke="#444" stroke-width="0.9" />
<line x1="353.4" y1="506.8" x2="405.4" y2="506.8" stroke="#444" stroke-width="0.9" />
<line x1="351.4" y1="503" x2="353.4" y2="503" stroke="#444" stroke-width="0.7" />
<text x="350.8" y="506" font-size="8.5" text-anchor="end" fill="#222" stroke="#222" stroke-width="0.22" >0</text>
<line x1="351.4" y1="491.5" x2="353.4" y2="491.5" stroke="#444" stroke-width="0.7" />
<text x="350.8" y="494.5" font-size="8.5" text-anchor="end" fill="#222" stroke="#222" stroke-width="0.22" >1</text>
<line x1="351.4" y1="479.6" x2="353.4" y2="479.6" stroke="#444" stroke-width="0.7" />
<text x="350.8" y="482.6" font-size="8.5" text-anchor="end" fill="#222" stroke="#222" stroke-width="0.22" >2</text>
<line x1="351.4" y1="467.8" x2="353.4" y2="467.8" stroke="#444" stroke-width="0.7" />
<text x="350.8" y="470.8" font-size="8.5" text-anchor="end" fill="#222" stroke="#222" stroke-width="0.22" >3</text>
<line x1="351.4" y1="455" x2="353.4" y2="455" stroke="#444" stroke-width="0.7" />
<text x="350.8" y="458" font-size="8.5" text-anchor="end" fill="#222" stroke="#222" stroke-width="0.22" >4</text>
<text x="382.5" y="457.2" font-size="10" text-anchor="middle" fill="#111" stroke="#111" stroke-width="0.22" >**</text>
<line x1="368" y1="494.5" x2="368" y2="495.4" stroke="#3f9a7e" stroke-width="1.1" />
<line x1="368" y1="500.7" x2="368" y2="503" stroke="#3f9a7e" stroke-width="1.1" />
<rect x="362" y="495.4" width="12" height="5.3" fill="#fff" stroke="#3f9a7e" stroke-width="1.1"/>
<line x1="362" y1="498" x2="374" y2="498" stroke="#3f9a7e" stroke-width="1.1" />
<line x1="391.6" y1="465.2" x2="391.6" y2="476.5" stroke="#dc3535" stroke-width="1.1" />
<line x1="391.6" y1="496.2" x2="391.6" y2="502.8" stroke="#dc3535" stroke-width="1.1" />
<rect x="385.6" y="476.5" width="12" height="19.7" fill="#fff" stroke="#dc3535" stroke-width="1.1"/>
<line x1="385.6" y1="491.5" x2="397.6" y2="491.5" stroke="#dc3535" stroke-width="1.1" />
<text transform="translate(372.2 515.7) rotate(-45)" font-size="9.5" text-anchor="end" fill="#111" stroke="#111" stroke-width="0.22" >Normal</text>
<text transform="translate(395.2 515.7) rotate(-45)" font-size="9.5" text-anchor="end" fill="#111" stroke="#111" stroke-width="0.22" >Tumors</text>
<text x="423" y="447.7" font-size="8.4" text-anchor="start" fill="#111" font-weight="bold" font-style="italic" stroke="none">TOX</text>
<line x1="423.3" y1="450.3" x2="423.3" y2="506.8" stroke="#444" stroke-width="0.9" />
<line x1="423.3" y1="506.8" x2="475.3" y2="506.8" stroke="#444" stroke-width="0.9" />
<line x1="421.3" y1="503" x2="423.3" y2="503" stroke="#444" stroke-width="0.7" />
<text x="420.7" y="506" font-size="8.5" text-anchor="end" fill="#222" stroke="#222" stroke-width="0.22" >0</text>
<line x1="421.3" y1="489.1" x2="423.3" y2="489.1" stroke="#444" stroke-width="0.7" />
<text x="420.7" y="492.1" font-size="8.5" text-anchor="end" fill="#222" stroke="#222" stroke-width="0.22" >1</text>
<line x1="421.3" y1="475.2" x2="423.3" y2="475.2" stroke="#444" stroke-width="0.7" />
<text x="420.7" y="478.2" font-size="8.5" text-anchor="end" fill="#222" stroke="#222" stroke-width="0.22" >2</text>
<line x1="421.3" y1="460.7" x2="423.3" y2="460.7" stroke="#444" stroke-width="0.7" />
<text x="420.7" y="463.7" font-size="8.5" text-anchor="end" fill="#222" stroke="#222" stroke-width="0.22" >3</text>
<text x="450.6" y="457.2" font-size="10" text-anchor="middle" fill="#111" stroke="#111" stroke-width="0.22" >*</text>
<line x1="437.9" y1="482.3" x2="437.9" y2="482.3" stroke="#3f9a7e" stroke-width="1.1" />
<line x1="437.9" y1="492.3" x2="437.9" y2="501.4" stroke="#3f9a7e" stroke-width="1.1" />
<rect x="431.9" y="482.3" width="12" height="10" fill="#fff" stroke="#3f9a7e" stroke-width="1.1"/>
<line x1="431.9" y1="486.5" x2="443.9" y2="486.5" stroke="#3f9a7e" stroke-width="1.1" />
<line x1="461.5" y1="467.3" x2="461.5" y2="472" stroke="#dc3535" stroke-width="1.1" />
<line x1="461.5" y1="488.8" x2="461.5" y2="500.1" stroke="#dc3535" stroke-width="1.1" />
<rect x="455.5" y="472" width="12" height="16.8" fill="#fff" stroke="#dc3535" stroke-width="1.1"/>
<line x1="455.5" y1="477.3" x2="467.5" y2="477.3" stroke="#dc3535" stroke-width="1.1" />
<text transform="translate(442.1 515.7) rotate(-45)" font-size="9.5" text-anchor="end" fill="#111" stroke="#111" stroke-width="0.22" >Normal</text>
<text transform="translate(465.1 515.7) rotate(-45)" font-size="9.5" text-anchor="end" fill="#111" stroke="#111" stroke-width="0.22" >Tumors</text>
<text x="489.7" y="447.7" font-size="8.4" text-anchor="start" fill="#111" font-weight="bold" font-style="italic" stroke="none">FOXP3</text>
<line x1="490" y1="450.3" x2="490" y2="506.8" stroke="#444" stroke-width="0.9" />
<line x1="490" y1="506.8" x2="542" y2="506.8" stroke="#444" stroke-width="0.9" />
<line x1="488" y1="504" x2="490" y2="504" stroke="#444" stroke-width="0.7" />
<text x="487.4" y="507" font-size="8.5" text-anchor="end" fill="#222" stroke="#222" stroke-width="0.22" >0</text>
<line x1="488" y1="487.8" x2="490" y2="487.8" stroke="#444" stroke-width="0.7" />
<text x="487.4" y="490.8" font-size="8.5" text-anchor="end" fill="#222" stroke="#222" stroke-width="0.22" >1</text>
<line x1="488" y1="470.7" x2="490" y2="470.7" stroke="#444" stroke-width="0.7" />
<text x="487.4" y="473.7" font-size="8.5" text-anchor="end" fill="#222" stroke="#222" stroke-width="0.22" >2</text>
<line x1="488" y1="453.6" x2="490" y2="453.6" stroke="#444" stroke-width="0.7" />
<text x="487.4" y="456.6" font-size="8.5" text-anchor="end" fill="#222" stroke="#222" stroke-width="0.22" >3</text>
<text x="518.9" y="457.2" font-size="10" text-anchor="middle" fill="#111" stroke="#111" stroke-width="0.22" >**</text>
<line x1="504.6" y1="493.6" x2="504.6" y2="494.1" stroke="#3f9a7e" stroke-width="1.1" />
<line x1="504.6" y1="499.3" x2="504.6" y2="503.6" stroke="#3f9a7e" stroke-width="1.1" />
<rect x="498.6" y="494.1" width="12" height="5.2" fill="#fff" stroke="#3f9a7e" stroke-width="1.1"/>
<line x1="498.6" y1="496.7" x2="510.6" y2="496.7" stroke="#3f9a7e" stroke-width="1.1" />
<line x1="528.2" y1="477.8" x2="528.2" y2="487" stroke="#dc3535" stroke-width="1.1" />
<line x1="528.2" y1="493.6" x2="528.2" y2="498.8" stroke="#dc3535" stroke-width="1.1" />
<rect x="522.2" y="487" width="12" height="6.6" fill="#fff" stroke="#dc3535" stroke-width="1.1"/>
<line x1="522.2" y1="490.2" x2="534.2" y2="490.2" stroke="#dc3535" stroke-width="1.1" />
<circle cx="528.2" cy="477" r="1.3" fill="#dc3535" />
<circle cx="528.2" cy="470" r="1.3" fill="#dc3535" />
<text transform="translate(508.8 515.7) rotate(-45)" font-size="9.5" text-anchor="end" fill="#111" stroke="#111" stroke-width="0.22" >Normal</text>
<text transform="translate(531.8 515.7) rotate(-45)" font-size="9.5" text-anchor="end" fill="#111" stroke="#111" stroke-width="0.22" >Tumors</text>
<text x="562.5" y="447.7" font-size="8.4" text-anchor="start" fill="#111" font-weight="bold" font-style="italic" stroke="none">FGFBP2</text>
<line x1="562.8" y1="450.3" x2="562.8" y2="506.8" stroke="#444" stroke-width="0.9" />
<line x1="562.8" y1="506.8" x2="614.8" y2="506.8" stroke="#444" stroke-width="0.9" />
<line x1="560.8" y1="504.6" x2="562.8" y2="504.6" stroke="#444" stroke-width="0.7" />
<text x="560.2" y="507.6" font-size="8.5" text-anchor="end" fill="#222" stroke="#222" stroke-width="0.22" >0</text>
<line x1="560.8" y1="494.9" x2="562.8" y2="494.9" stroke="#444" stroke-width="0.7" />
<text x="560.2" y="497.9" font-size="8.5" text-anchor="end" fill="#222" stroke="#222" stroke-width="0.22" >1</text>
<line x1="560.8" y1="484.9" x2="562.8" y2="484.9" stroke="#444" stroke-width="0.7" />
<text x="560.2" y="487.9" font-size="8.5" text-anchor="end" fill="#222" stroke="#222" stroke-width="0.22" >2</text>
<line x1="560.8" y1="474.7" x2="562.8" y2="474.7" stroke="#444" stroke-width="0.7" />
<text x="560.2" y="477.7" font-size="8.5" text-anchor="end" fill="#222" stroke="#222" stroke-width="0.22" >3</text>
<line x1="560.8" y1="464.7" x2="562.8" y2="464.7" stroke="#444" stroke-width="0.7" />
<text x="560.2" y="467.7" font-size="8.5" text-anchor="end" fill="#222" stroke="#222" stroke-width="0.22" >4</text>
<line x1="560.8" y1="454.7" x2="562.8" y2="454.7" stroke="#444" stroke-width="0.7" />
<text x="560.2" y="457.7" font-size="8.5" text-anchor="end" fill="#222" stroke="#222" stroke-width="0.22" >5</text>
<text x="587.2" y="457.2" font-size="10" text-anchor="middle" fill="#111" stroke="#111" stroke-width="0.22" >*</text>
<line x1="577.4" y1="463.9" x2="577.4" y2="472.5" stroke="#3f9a7e" stroke-width="1.1" />
<line x1="577.4" y1="496.7" x2="577.4" y2="502" stroke="#3f9a7e" stroke-width="1.1" />
<rect x="571.4" y="472.5" width="12" height="24.2" fill="#fff" stroke="#3f9a7e" stroke-width="1.1"/>
<line x1="571.4" y1="486.2" x2="583.4" y2="486.2" stroke="#3f9a7e" stroke-width="1.1" />
<line x1="601" y1="468.6" x2="601" y2="488.3" stroke="#dc3535" stroke-width="1.1" />
<line x1="601" y1="502.2" x2="601" y2="504" stroke="#dc3535" stroke-width="1.1" />
<rect x="595" y="488.3" width="12" height="13.9" fill="#fff" stroke="#dc3535" stroke-width="1.1"/>
<line x1="595" y1="498" x2="607" y2="498" stroke="#dc3535" stroke-width="1.1" />
<text transform="translate(581.6 515.7) rotate(-45)" font-size="9.5" text-anchor="end" fill="#111" stroke="#111" stroke-width="0.22" >Normal</text>
<text transform="translate(604.6 515.7) rotate(-45)" font-size="9.5" text-anchor="end" fill="#111" stroke="#111" stroke-width="0.22" >Tumors</text>
<text transform="translate(342 350) rotate(-90)" font-size="8.8" text-anchor="middle" fill="#111" stroke="#111" stroke-width="0.22" >log2 (TPM + 1)</text>
<text x="1.2" y="570.6" font-size="14.5" text-anchor="start" fill="#000" stroke="#000" stroke-width="0.22" >f</text>
<line x1="86.5" y1="587.5" x2="86.5" y2="596.5" stroke="#333" stroke-width="0.7" />
<rect x="83.2" y="589" width="6.6" height="6" fill="#46967d" stroke="#333" stroke-width="0.6"/>
<line x1="83.2" y1="592" x2="89.8" y2="592" stroke="#333" stroke-width="0.6" />
<text x="93.7" y="595.4" font-size="9.5" text-anchor="start" fill="#111" stroke="#111" stroke-width="0.22" >Normal</text>
<line x1="136.5" y1="587.5" x2="136.5" y2="596.5" stroke="#333" stroke-width="0.7" />
<rect x="133.2" y="589" width="6.6" height="6" fill="#dc322d" stroke="#333" stroke-width="0.6"/>
<line x1="133.2" y1="592" x2="139.8" y2="592" stroke="#333" stroke-width="0.6" />
<text x="142.8" y="595.4" font-size="9.5" text-anchor="start" fill="#111" stroke="#111" stroke-width="0.22" >Tumors</text>
<line x1="27.4" y1="826.4" x2="218.6" y2="826.4" stroke="#ebebeb" stroke-width="0.9" />
<line x1="27.4" y1="800.5" x2="218.6" y2="800.5" stroke="#ebebeb" stroke-width="0.5" />
<line x1="27.4" y1="774.6" x2="218.6" y2="774.6" stroke="#ebebeb" stroke-width="0.9" />
<line x1="27.4" y1="748.7" x2="218.6" y2="748.7" stroke="#ebebeb" stroke-width="0.5" />
<line x1="27.4" y1="722.8" x2="218.6" y2="722.8" stroke="#ebebeb" stroke-width="0.9" />
<line x1="27.4" y1="696.9" x2="218.6" y2="696.9" stroke="#ebebeb" stroke-width="0.5" />
<line x1="27.4" y1="671" x2="218.6" y2="671" stroke="#ebebeb" stroke-width="0.9" />
<line x1="27.4" y1="645.1" x2="218.6" y2="645.1" stroke="#ebebeb" stroke-width="0.5" />
<line x1="27.4" y1="619.2" x2="218.6" y2="619.2" stroke="#ebebeb" stroke-width="0.9" />
<line x1="43.2" y1="601.6" x2="43.2" y2="836.9" stroke="#ebebeb" stroke-width="0.9" />
<line x1="69.6" y1="601.6" x2="69.6" y2="836.9" stroke="#ebebeb" stroke-width="0.9" />
<line x1="96" y1="601.6" x2="96" y2="836.9" stroke="#ebebeb" stroke-width="0.9" />
<line x1="122.4" y1="601.6" x2="122.4" y2="836.9" stroke="#ebebeb" stroke-width="0.9" />
<line x1="148.8" y1="601.6" x2="148.8" y2="836.9" stroke="#ebebeb" stroke-width="0.9" />
<line x1="175.2" y1="601.6" x2="175.2" y2="836.9" stroke="#ebebeb" stroke-width="0.9" />
<line x1="201.7" y1="601.6" x2="201.7" y2="836.9" stroke="#ebebeb" stroke-width="0.9" />
<line x1="38.6" y1="766.6" x2="38.6" y2="795" stroke="#555" stroke-width="1.0" />
<line x1="38.6" y1="814.5" x2="38.6" y2="826.4" stroke="#555" stroke-width="1.0" />
<rect x="34" y="795" width="9.2" height="19.5" fill="#46967d" stroke="#2a2a2a" stroke-width="0.7"/>
<line x1="34" y1="808.2" x2="43.2" y2="808.2" stroke="#2a2a2a" stroke-width="1.0" />
<line x1="47.9" y1="720" x2="47.9" y2="742.1" stroke="#555" stroke-width="1.0" />
<line x1="47.9" y1="777.5" x2="47.9" y2="826.4" stroke="#555" stroke-width="1.0" />
<rect x="43.2" y="742.1" width="9.2" height="35.4" fill="#dc322d" stroke="#2a2a2a" stroke-width="0.7"/>
<line x1="43.2" y1="764.4" x2="52.5" y2="764.4" stroke="#2a2a2a" stroke-width="1.0" />
<line x1="65" y1="684.4" x2="65" y2="710.8" stroke="#555" stroke-width="1.0" />
<line x1="65" y1="764.4" x2="65" y2="790.7" stroke="#555" stroke-width="1.0" />
<rect x="60.4" y="710.8" width="9.2" height="53.6" fill="#46967d" stroke="#2a2a2a" stroke-width="0.7"/>
<line x1="60.4" y1="737.7" x2="69.6" y2="737.7" stroke="#2a2a2a" stroke-width="1.0" />
<line x1="74.3" y1="613.3" x2="74.3" y2="673.3" stroke="#555" stroke-width="1.0" />
<line x1="74.3" y1="715.3" x2="74.3" y2="747.6" stroke="#555" stroke-width="1.0" />
<rect x="69.7" y="673.3" width="9.2" height="42" fill="#dc322d" stroke="#2a2a2a" stroke-width="0.7"/>
<line x1="69.7" y1="701.6" x2="78.9" y2="701.6" stroke="#2a2a2a" stroke-width="1.0" />
<circle cx="74.3" cy="790.4" r="1.2" fill="#6e1414" />
<circle cx="74.3" cy="826.4" r="1.2" fill="#6e1414" />
<line x1="91.4" y1="723" x2="91.4" y2="740.3" stroke="#555" stroke-width="1.0" />
<line x1="91.4" y1="812.3" x2="91.4" y2="826.4" stroke="#555" stroke-width="1.0" />
<rect x="86.8" y="740.3" width="9.2" height="72" fill="#46967d" stroke="#2a2a2a" stroke-width="0.7"/>
<line x1="86.8" y1="767.9" x2="96" y2="767.9" stroke="#2a2a2a" stroke-width="1.0" />
<line x1="100.7" y1="684.4" x2="100.7" y2="705.3" stroke="#555" stroke-width="1.0" />
<line x1="100.7" y1="777.5" x2="100.7" y2="826.4" stroke="#555" stroke-width="1.0" />
<rect x="96.1" y="705.3" width="9.2" height="72.2" fill="#dc322d" stroke="#2a2a2a" stroke-width="0.7"/>
<line x1="96.1" y1="744" x2="105.3" y2="744" stroke="#2a2a2a" stroke-width="1.0" />
<line x1="117.8" y1="713.4" x2="117.8" y2="736.6" stroke="#555" stroke-width="1.0" />
<line x1="117.8" y1="763.6" x2="117.8" y2="780.4" stroke="#555" stroke-width="1.0" />
<rect x="113.2" y="736.6" width="9.2" height="27" fill="#46967d" stroke="#2a2a2a" stroke-width="0.7"/>
<line x1="113.2" y1="746.9" x2="122.4" y2="746.9" stroke="#2a2a2a" stroke-width="1.0" />
<circle cx="117.8" cy="826.4" r="1.2" fill="#1f4f3f" />
<line x1="127.1" y1="695.4" x2="127.1" y2="723.7" stroke="#555" stroke-width="1.0" />
<line x1="127.1" y1="748.4" x2="127.1" y2="767.9" stroke="#555" stroke-width="1.0" />
<rect x="122.5" y="723.7" width="9.2" height="24.7" fill="#dc322d" stroke="#2a2a2a" stroke-width="0.7"/>
<line x1="122.5" y1="734" x2="131.7" y2="734" stroke="#2a2a2a" stroke-width="1.0" />
<circle cx="127.1" cy="684.4" r="1.2" fill="#6e1414" />
<circle cx="127.1" cy="790" r="1.2" fill="#6e1414" />
<line x1="144.2" y1="780.8" x2="144.2" y2="783.7" stroke="#555" stroke-width="1.0" />
<line x1="144.2" y1="815" x2="144.2" y2="826.4" stroke="#555" stroke-width="1.0" />
<rect x="139.6" y="783.7" width="9.2" height="31.3" fill="#46967d" stroke="#2a2a2a" stroke-width="0.7"/>
<line x1="139.6" y1="795.5" x2="148.8" y2="795.5" stroke="#2a2a2a" stroke-width="1.0" />
<line x1="153.5" y1="754.3" x2="153.5" y2="774.5" stroke="#555" stroke-width="1.0" />
<line x1="153.5" y1="800.3" x2="153.5" y2="826.4" stroke="#555" stroke-width="1.0" />
<rect x="148.9" y="774.5" width="9.2" height="25.8" fill="#dc322d" stroke="#2a2a2a" stroke-width="0.7"/>
<line x1="148.9" y1="785.9" x2="158.1" y2="785.9" stroke="#2a2a2a" stroke-width="1.0" />
<line x1="170.6" y1="711.6" x2="170.6" y2="740.3" stroke="#555" stroke-width="1.0" />
<line x1="170.6" y1="781.9" x2="170.6" y2="807.2" stroke="#555" stroke-width="1.0" />
<rect x="166" y="740.3" width="9.2" height="41.6" fill="#46967d" stroke="#2a2a2a" stroke-width="0.7"/>
<line x1="166" y1="764.2" x2="175.2" y2="764.2" stroke="#2a2a2a" stroke-width="1.0" />
<line x1="179.9" y1="683.3" x2="179.9" y2="719.3" stroke="#555" stroke-width="1.0" />
<line x1="179.9" y1="757.6" x2="179.9" y2="788.1" stroke="#555" stroke-width="1.0" />
<rect x="175.3" y="719.3" width="9.2" height="38.3" fill="#dc322d" stroke="#2a2a2a" stroke-width="0.7"/>
<line x1="175.3" y1="723.7" x2="184.5" y2="723.7" stroke="#2a2a2a" stroke-width="1.0" />
<circle cx="179.9" cy="826.4" r="1.2" fill="#6e1414" />
<line x1="197" y1="774.5" x2="197" y2="778.9" stroke="#555" stroke-width="1.0" />
<line x1="197" y1="786.3" x2="197" y2="791.8" stroke="#555" stroke-width="1.0" />
<rect x="192.4" y="778.9" width="9.2" height="7.4" fill="#46967d" stroke="#2a2a2a" stroke-width="0.7"/>
<line x1="192.4" y1="783.3" x2="201.6" y2="783.3" stroke="#2a2a2a" stroke-width="1.0" />
<circle cx="197" cy="812" r="1.2" fill="#1f4f3f" />
<line x1="206.3" y1="753.2" x2="206.3" y2="784.4" stroke="#555" stroke-width="1.0" />
<line x1="206.3" y1="804.7" x2="206.3" y2="826.4" stroke="#555" stroke-width="1.0" />
<rect x="201.7" y="784.4" width="9.2" height="20.3" fill="#dc322d" stroke="#2a2a2a" stroke-width="0.7"/>
<line x1="201.7" y1="791" x2="210.9" y2="791" stroke="#2a2a2a" stroke-width="1.0" />
<circle cx="206.3" cy="752" r="1.2" fill="#6e1414" />
<rect x="27.4" y="601.6" width="191.2" height="235.3" fill="none" stroke="#333" stroke-width="0.7"/>
<line x1="25.3" y1="826.4" x2="27.4" y2="826.4" stroke="#333" stroke-width="0.6" />
<text x="24.2" y="829.8" font-size="9.5" text-anchor="end" fill="#4d4d4d" stroke="#4d4d4d" stroke-width="0.22" >0.0</text>
<line x1="25.3" y1="774.6" x2="27.4" y2="774.6" stroke="#333" stroke-width="0.6" />
<text x="24.2" y="778" font-size="9.5" text-anchor="end" fill="#4d4d4d" stroke="#4d4d4d" stroke-width="0.22" >0.1</text>
<line x1="25.3" y1="722.8" x2="27.4" y2="722.8" stroke="#333" stroke-width="0.6" />
<text x="24.2" y="726.2" font-size="9.5" text-anchor="end" fill="#4d4d4d" stroke="#4d4d4d" stroke-width="0.22" >0.2</text>
<line x1="25.3" y1="671" x2="27.4" y2="671" stroke="#333" stroke-width="0.6" />
<text x="24.2" y="674.4" font-size="9.5" text-anchor="end" fill="#4d4d4d" stroke="#4d4d4d" stroke-width="0.22" >0.3</text>
<line x1="25.3" y1="619.2" x2="27.4" y2="619.2" stroke="#333" stroke-width="0.6" />
<text x="24.2" y="622.6" font-size="9.5" text-anchor="end" fill="#4d4d4d" stroke="#4d4d4d" stroke-width="0.22" >0.4</text>
<line x1="43.2" y1="836.9" x2="43.2" y2="838.9" stroke="#333" stroke-width="0.6" />
<line x1="69.6" y1="836.9" x2="69.6" y2="838.9" stroke="#333" stroke-width="0.6" />
<line x1="96" y1="836.9" x2="96" y2="838.9" stroke="#333" stroke-width="0.6" />
<line x1="122.4" y1="836.9" x2="122.4" y2="838.9" stroke="#333" stroke-width="0.6" />
<line x1="148.8" y1="836.9" x2="148.8" y2="838.9" stroke="#333" stroke-width="0.6" />
<line x1="175.2" y1="836.9" x2="175.2" y2="838.9" stroke="#333" stroke-width="0.6" />
<line x1="201.7" y1="836.9" x2="201.7" y2="838.9" stroke="#333" stroke-width="0.6" />
<text x="45.6" y="612.6" font-size="9" text-anchor="middle" fill="#111" stroke="#111" stroke-width="0.22" >***</text>
<text x="72" y="612.6" font-size="9" text-anchor="middle" fill="#111" stroke="#111" stroke-width="0.22" >*</text>
<text x="98.4" y="612.6" font-size="9" text-anchor="middle" fill="#111" stroke="#111" stroke-width="0.22" >*</text>
<text x="124.6" y="612" font-size="8.5" text-anchor="middle" fill="#111" stroke="#111" stroke-width="0.22" >ns</text>
<text x="151" y="612" font-size="8.5" text-anchor="middle" fill="#111" stroke="#111" stroke-width="0.22" >ns</text>
<text x="177.7" y="612.6" font-size="9" text-anchor="middle" fill="#111" stroke="#111" stroke-width="0.22" >*</text>
<text x="203.9" y="612" font-size="8.5" text-anchor="middle" fill="#111" stroke="#111" stroke-width="0.22" >ns</text>
<text transform="translate(8 716.4) rotate(-90)" font-size="9.5" text-anchor="middle" fill="#111" stroke="#111" stroke-width="0.22" >Abundance</text>
<text transform="translate(25.1 877) rotate(-45)" font-size="9.7" text-anchor="start" fill="#111" stroke="#111" stroke-width="0.22" >Exhausted</text>
<text transform="translate(59.8 864.4) rotate(-45)" font-size="9.7" text-anchor="start" fill="#111" stroke="#111" stroke-width="0.22" >nTreg</text>
<text transform="translate(86.4 863.3) rotate(-45)" font-size="9.7" text-anchor="start" fill="#111" stroke="#111" stroke-width="0.22" >iTreg</text>
<text transform="translate(113.8 860.5) rotate(-45)" font-size="9.7" text-anchor="start" fill="#111" stroke="#111" stroke-width="0.22" >Th1</text>
<text transform="translate(138.4 862.3) rotate(-45)" font-size="9.7" text-anchor="start" fill="#111" stroke="#111" stroke-width="0.22" >Th17</text>
<text transform="translate(162 868.4) rotate(-45)" font-size="9.7" text-anchor="start" fill="#111" stroke="#111" stroke-width="0.22" >CD4_T</text>
<text transform="translate(188.3 868.4) rotate(-45)" font-size="9.7" text-anchor="start" fill="#111" stroke="#111" stroke-width="0.22" >CD8_T</text>
<text x="228.1" y="569.2" font-size="14" text-anchor="start" fill="#000" stroke="#000" stroke-width="0.22" >g</text>
<rect x="282.5" y="577.1" width="273.3" height="6.8" fill="#e0282a" />
<rect x="306.2" y="577.1" width="249.6" height="6.8" fill="#a33d58" />
<rect x="326" y="577.1" width="229.8" height="6.8" fill="#6f5d88" />
<rect x="327" y="577.1" width="228.8" height="6.8" fill="#469d6f" />
<rect x="405.7" y="577.1" width="150.1" height="6.8" fill="#4dab4a" />
<rect x="417.5" y="577.1" width="138.3" height="6.8" fill="#7e6e86" />
<rect x="429.8" y="577.1" width="126" height="6.8" fill="#9350a2" />
<rect x="436.8" y="577.1" width="119" height="6.8" fill="#db6f38" />
<rect x="448.9" y="577.1" width="106.9" height="6.8" fill="#f2ea55" />
<rect x="520.2" y="577.1" width="35.6" height="6.8" fill="#c28d42" />
<rect x="536.7" y="577.1" width="19.1" height="6.8" fill="#a0562c" />
<rect x="546.7" y="577.1" width="9.1" height="6.8" fill="#d9738e" />
<text x="248" y="581.2" font-size="6.5" text-anchor="start" fill="#404040" stroke="#555" stroke-width="0.08">P1N</text>
<circle cx="272.6" cy="578.9" r="3.6" fill="#439a7c" />
<rect x="282.5" y="584.8" width="273.3" height="6.8" fill="#e0282a" />
<rect x="325" y="584.8" width="230.8" height="6.8" fill="#a33d58" />
<rect x="329" y="584.8" width="226.8" height="6.8" fill="#6f5d88" />
<rect x="339.3" y="584.8" width="216.5" height="6.8" fill="#3a7ab5" />
<rect x="390.8" y="584.8" width="165" height="6.8" fill="#4dab4a" />
<rect x="401.6" y="584.8" width="154.2" height="6.8" fill="#668e68" />
<rect x="402.6" y="584.8" width="153.2" height="6.8" fill="#7e6e86" />
<rect x="457.3" y="584.8" width="98.5" height="6.8" fill="#9350a2" />
<rect x="458.8" y="584.8" width="97" height="6.8" fill="#db6f38" />
<rect x="474.3" y="584.8" width="81.5" height="6.8" fill="#f2ea55" />
<rect x="516.2" y="584.8" width="39.6" height="6.8" fill="#c28d42" />
<rect x="532.9" y="584.8" width="22.9" height="6.8" fill="#a0562c" />
<text x="248" y="589" font-size="6.5" text-anchor="start" fill="#404040" stroke="#555" stroke-width="0.08">P1T1</text>
<circle cx="272.6" cy="586.7" r="3.6" fill="#e0302e" />
<rect x="282.5" y="592.6" width="273.3" height="6.8" fill="#a33d58" />
<rect x="292.3" y="592.6" width="263.5" height="6.8" fill="#6f5d88" />
<rect x="316.4" y="592.6" width="239.4" height="6.8" fill="#7e6e86" />
<rect x="390.8" y="592.6" width="165" height="6.8" fill="#9350a2" />
<rect x="399" y="592.6" width="156.8" height="6.8" fill="#b85e6d" />
<rect x="403" y="592.6" width="152.8" height="6.8" fill="#f77f10" />
<rect x="420.9" y="592.6" width="134.9" height="6.8" fill="#f2ea55" />
<rect x="520.8" y="592.6" width="35" height="6.8" fill="#c28d42" />
<text x="248" y="596.9" font-size="6.5" text-anchor="start" fill="#404040" stroke="#555" stroke-width="0.08">P1T2</text>
<circle cx="272.6" cy="594.6" r="3.6" fill="#e0302e" />
<rect x="282.5" y="600.3" width="273.3" height="6.8" fill="#e0282a" />
<rect x="285.1" y="600.3" width="270.7" height="6.8" fill="#6f5d88" />
<rect x="296.3" y="600.3" width="259.5" height="6.8" fill="#469d6f" />
<rect x="335.2" y="600.3" width="220.6" height="6.8" fill="#4dab4a" />
<rect x="336.8" y="600.3" width="219" height="6.8" fill="#7e6e86" />
<rect x="416" y="600.3" width="139.8" height="6.8" fill="#9350a2" />
<rect x="439.3" y="600.3" width="116.5" height="6.8" fill="#b85e6d" />
<rect x="443.2" y="600.3" width="112.6" height="6.8" fill="#db6f38" />
<rect x="475.3" y="600.3" width="80.5" height="6.8" fill="#f8a828" />
<rect x="478.1" y="600.3" width="77.7" height="6.8" fill="#f2ea55" />
<rect x="503.9" y="600.3" width="51.9" height="6.8" fill="#c28d42" />
<rect x="539.5" y="600.3" width="16.3" height="6.8" fill="#a0562c" />
<rect x="545.8" y="600.3" width="10" height="6.8" fill="#d9738e" />
<text x="248" y="604.7" font-size="6.5" text-anchor="start" fill="#404040" stroke="#555" stroke-width="0.08">P1T3</text>
<circle cx="272.6" cy="602.4" r="3.6" fill="#e0302e" />
<rect x="282.5" y="608.1" width="273.3" height="6.8" fill="#a33d58" />
<rect x="310.7" y="608.1" width="245.1" height="6.8" fill="#6f5d88" />
<rect x="315.2" y="608.1" width="240.6" height="6.8" fill="#469d6f" />
<rect x="328" y="608.1" width="227.8" height="6.8" fill="#7e6e86" />
<rect x="358.3" y="608.1" width="197.5" height="6.8" fill="#9350a2" />
<rect x="398.5" y="608.1" width="157.3" height="6.8" fill="#b85e6d" />
<rect x="400.2" y="608.1" width="155.6" height="6.8" fill="#db6f38" />
<rect x="433" y="608.1" width="122.8" height="6.8" fill="#f77f10" />
<rect x="439.3" y="608.1" width="116.5" height="6.8" fill="#f8a828" />
<rect x="443.6" y="608.1" width="112.2" height="6.8" fill="#f2ea55" />
<rect x="468.3" y="608.1" width="87.5" height="6.8" fill="#c28d42" />
<rect x="539.9" y="608.1" width="15.9" height="6.8" fill="#a0562c" />
<text x="248" y="612.6" font-size="6.5" text-anchor="start" fill="#404040" stroke="#555" stroke-width="0.08">P2N</text>
<circle cx="272.6" cy="610.3" r="3.6" fill="#439a7c" />
<rect x="282.5" y="615.8" width="273.3" height="6.8" fill="#e0282a" />
<rect x="343.4" y="615.8" width="212.4" height="6.8" fill="#a33d58" />
<rect x="385.3" y="615.8" width="170.5" height="6.8" fill="#6f5d88" />
<rect x="387.3" y="615.8" width="168.5" height="6.8" fill="#469d6f" />
<rect x="426" y="615.8" width="129.8" height="6.8" fill="#7e6e86" />
<rect x="429.4" y="615.8" width="126.4" height="6.8" fill="#9350a2" />
<rect x="436.8" y="615.8" width="119" height="6.8" fill="#db6f38" />
<rect x="460.9" y="615.8" width="94.9" height="6.8" fill="#f2ea55" />
<rect x="472.2" y="615.8" width="83.6" height="6.8" fill="#c28d42" />
<rect x="516.6" y="615.8" width="39.2" height="6.8" fill="#a0562c" />
<text x="248" y="620.4" font-size="6.5" text-anchor="start" fill="#404040" stroke="#555" stroke-width="0.08">P2T1</text>
<circle cx="272.6" cy="618.1" r="3.6" fill="#e0302e" />
<rect x="282.5" y="623.6" width="273.3" height="6.8" fill="#a33d58" />
<rect x="301" y="623.6" width="254.8" height="6.8" fill="#469d6f" />
<rect x="342.3" y="623.6" width="213.5" height="6.8" fill="#4dab4a" />
<rect x="346.4" y="623.6" width="209.4" height="6.8" fill="#7e6e86" />
<rect x="355" y="623.6" width="200.8" height="6.8" fill="#9350a2" />
<rect x="368.9" y="623.6" width="186.9" height="6.8" fill="#b85e6d" />
<rect x="374" y="623.6" width="181.8" height="6.8" fill="#db6f38" />
<rect x="390" y="623.6" width="165.8" height="6.8" fill="#f77f10" />
<rect x="419.7" y="623.6" width="136.1" height="6.8" fill="#f2ea55" />
<rect x="540.3" y="623.6" width="15.5" height="6.8" fill="#c28d42" />
<text x="248" y="628.2" font-size="6.5" text-anchor="start" fill="#404040" stroke="#555" stroke-width="0.08">P2T2</text>
<circle cx="272.6" cy="625.9" r="3.6" fill="#e0302e" />
<rect x="282.5" y="631.3" width="273.3" height="6.8" fill="#a33d58" />
<rect x="302.5" y="631.3" width="253.3" height="6.8" fill="#6f5d88" />
<rect x="309.6" y="631.3" width="246.2" height="6.8" fill="#3a7ab5" />
<rect x="340.3" y="631.3" width="215.5" height="6.8" fill="#7e6e86" />
<rect x="385.9" y="631.3" width="169.9" height="6.8" fill="#9350a2" />
<rect x="447.2" y="631.3" width="108.6" height="6.8" fill="#db6f38" />
<rect x="468.3" y="631.3" width="87.5" height="6.8" fill="#f2ea55" />
<rect x="484.9" y="631.3" width="70.9" height="6.8" fill="#c28d42" />
<rect x="518.1" y="631.3" width="37.7" height="6.8" fill="#a0562c" />
<rect x="546.9" y="631.3" width="8.9" height="6.8" fill="#d9738e" />
<text x="248" y="636.1" font-size="6.5" text-anchor="start" fill="#404040" stroke="#555" stroke-width="0.08">P2T3</text>
<circle cx="272.6" cy="633.8" r="3.6" fill="#e0302e" />
<rect x="282.5" y="639.1" width="273.3" height="6.8" fill="#e0282a" />
<rect x="301.9" y="639.1" width="253.9" height="6.8" fill="#3a7ab5" />
<rect x="347.4" y="639.1" width="208.4" height="6.8" fill="#469d6f" />
<rect x="517.7" y="639.1" width="38.1" height="6.8" fill="#4dab4a" />
<rect x="520.2" y="639.1" width="35.6" height="6.8" fill="#668e68" />
<rect x="524" y="639.1" width="31.8" height="6.8" fill="#7e6e86" />
<rect x="528.3" y="639.1" width="27.5" height="6.8" fill="#db6f38" />
<rect x="530.4" y="639.1" width="25.4" height="6.8" fill="#f8a828" />
<rect x="531.9" y="639.1" width="23.9" height="6.8" fill="#f2ea55" />
<rect x="533.1" y="639.1" width="22.7" height="6.8" fill="#c28d42" />
<rect x="539.9" y="639.1" width="15.9" height="6.8" fill="#a0562c" />
<rect x="548.8" y="639.1" width="7" height="6.8" fill="#d9738e" />
<text x="248" y="643.9" font-size="6.5" text-anchor="start" fill="#404040" stroke="#555" stroke-width="0.08">P3N</text>
<circle cx="272.6" cy="641.6" r="3.6" fill="#439a7c" />
<rect x="282.5" y="646.8" width="273.3" height="6.8" fill="#e0282a" />
<rect x="284" y="646.8" width="271.8" height="6.8" fill="#6f5d88" />
<rect x="285.7" y="646.8" width="270.1" height="6.8" fill="#469d6f" />
<rect x="349" y="646.8" width="206.8" height="6.8" fill="#7e6e86" />
<rect x="392" y="646.8" width="163.8" height="6.8" fill="#9350a2" />
<rect x="426" y="646.8" width="129.8" height="6.8" fill="#b85e6d" />
<rect x="430.9" y="646.8" width="124.9" height="6.8" fill="#db6f38" />
<rect x="465.8" y="646.8" width="90" height="6.8" fill="#f77f10" />
<rect x="473.2" y="646.8" width="82.6" height="6.8" fill="#f2ea55" />
<rect x="502.8" y="646.8" width="53" height="6.8" fill="#c28d42" />
<rect x="537.8" y="646.8" width="18" height="6.8" fill="#a0562c" />
<rect x="554.1" y="646.8" width="1.7" height="6.8" fill="#d9738e" />
<text x="248" y="651.8" font-size="6.5" text-anchor="start" fill="#404040" stroke="#555" stroke-width="0.08">P3T1</text>
<circle cx="272.6" cy="649.5" r="3.6" fill="#e0302e" />
<rect x="282.5" y="654.5" width="273.3" height="6.8" fill="#6f5d88" />
<rect x="294.7" y="654.5" width="261.1" height="6.8" fill="#469d6f" />
<rect x="376" y="654.5" width="179.8" height="6.8" fill="#7e6e86" />
<rect x="388.3" y="654.5" width="167.5" height="6.8" fill="#9350a2" />
<rect x="405.3" y="654.5" width="150.5" height="6.8" fill="#b85e6d" />
<rect x="408.8" y="654.5" width="147" height="6.8" fill="#db6f38" />
<rect x="410.8" y="654.5" width="145" height="6.8" fill="#f77f10" />
<rect x="444" y="654.5" width="111.8" height="6.8" fill="#f2ea55" />
<rect x="512" y="654.5" width="43.8" height="6.8" fill="#c28d42" />
<rect x="552.2" y="654.5" width="3.6" height="6.8" fill="#a0562c" />
<text x="248" y="659.6" font-size="6.5" text-anchor="start" fill="#404040" stroke="#555" stroke-width="0.08">P3T2</text>
<circle cx="272.6" cy="657.3" r="3.6" fill="#e0302e" />
<rect x="282.5" y="662.3" width="273.3" height="6.8" fill="#e0282a" />
<rect x="291.9" y="662.3" width="263.9" height="6.8" fill="#6f5d88" />
<rect x="298.4" y="662.3" width="257.4" height="6.8" fill="#3a7ab5" />
<rect x="303.5" y="662.3" width="252.3" height="6.8" fill="#469d6f" />
<rect x="316.4" y="662.3" width="239.4" height="6.8" fill="#4dab4a" />
<rect x="319.4" y="662.3" width="236.4" height="6.8" fill="#7e6e86" />
<rect x="380.8" y="662.3" width="175" height="6.8" fill="#9350a2" />
<rect x="385.9" y="662.3" width="169.9" height="6.8" fill="#db6f38" />
<rect x="421.4" y="662.3" width="134.4" height="6.8" fill="#f8a828" />
<rect x="424.5" y="662.3" width="131.3" height="6.8" fill="#f2ea55" />
<rect x="470" y="662.3" width="85.8" height="6.8" fill="#c28d42" />
<rect x="534" y="662.3" width="21.8" height="6.8" fill="#a0562c" />
<text x="248" y="667.4" font-size="6.5" text-anchor="start" fill="#404040" stroke="#555" stroke-width="0.08">P3T3</text>
<circle cx="272.6" cy="665.1" r="3.6" fill="#e0302e" />
<rect x="282.5" y="670" width="273.3" height="6.8" fill="#a33d58" />
<rect x="320.9" y="670" width="234.9" height="6.8" fill="#6f5d88" />
<rect x="332.7" y="670" width="223.1" height="6.8" fill="#469d6f" />
<rect x="363.4" y="670" width="192.4" height="6.8" fill="#4dab4a" />
<rect x="364.8" y="670" width="191" height="6.8" fill="#7e6e86" />
<rect x="383.2" y="670" width="172.6" height="6.8" fill="#9350a2" />
<rect x="411.4" y="670" width="144.4" height="6.8" fill="#db6f38" />
<rect x="421" y="670" width="134.8" height="6.8" fill="#f2ea55" />
<rect x="490.1" y="670" width="65.7" height="6.8" fill="#c28d42" />
<rect x="537.8" y="670" width="18" height="6.8" fill="#a0562c" />
<text x="248" y="675.3" font-size="6.5" text-anchor="start" fill="#404040" stroke="#555" stroke-width="0.08">P4N</text>
<circle cx="272.6" cy="673" r="3.6" fill="#439a7c" />
<rect x="282.5" y="677.8" width="273.3" height="6.8" fill="#a33d58" />
<rect x="314.3" y="677.8" width="241.5" height="6.8" fill="#6f5d88" />
<rect x="318.8" y="677.8" width="237" height="6.8" fill="#469d6f" />
<rect x="343.4" y="677.8" width="212.4" height="6.8" fill="#9350a2" />
<rect x="359.7" y="677.8" width="196.1" height="6.8" fill="#db6f38" />
<rect x="376" y="677.8" width="179.8" height="6.8" fill="#f77f10" />
<rect x="401" y="677.8" width="154.8" height="6.8" fill="#f2ea55" />
<rect x="500.7" y="677.8" width="55.1" height="6.8" fill="#c28d42" />
<text x="248" y="683.1" font-size="6.5" text-anchor="start" fill="#404040" stroke="#555" stroke-width="0.08">P4T1</text>
<circle cx="272.6" cy="680.8" r="3.6" fill="#e0302e" />
<rect x="282.5" y="685.5" width="273.3" height="6.8" fill="#e0282a" />
<rect x="302.1" y="685.5" width="253.7" height="6.8" fill="#a33d58" />
<rect x="303.5" y="685.5" width="252.3" height="6.8" fill="#6f5d88" />
<rect x="311.7" y="685.5" width="244.1" height="6.8" fill="#3a7ab5" />
<rect x="315.2" y="685.5" width="240.6" height="6.8" fill="#668e68" />
<rect x="324" y="685.5" width="231.8" height="6.8" fill="#7e6e86" />
<rect x="350.9" y="685.5" width="204.9" height="6.8" fill="#9350a2" />
<rect x="421.4" y="685.5" width="134.4" height="6.8" fill="#db6f38" />
<rect x="443" y="685.5" width="112.8" height="6.8" fill="#f2ea55" />
<rect x="493.7" y="685.5" width="62.1" height="6.8" fill="#c28d42" />
<rect x="517" y="685.5" width="38.8" height="6.8" fill="#a0562c" />
<rect x="548.8" y="685.5" width="7" height="6.8" fill="#d9738e" />
<text x="248" y="690.9" font-size="6.5" text-anchor="start" fill="#404040" stroke="#555" stroke-width="0.08">P4T2</text>
<circle cx="272.6" cy="688.6" r="3.6" fill="#e0302e" />
<rect x="282.5" y="693.3" width="273.3" height="6.8" fill="#e0282a" />
<rect x="285.1" y="693.3" width="270.7" height="6.8" fill="#6f5d88" />
<rect x="295.9" y="693.3" width="259.9" height="6.8" fill="#3a7ab5" />
<rect x="304.1" y="693.3" width="251.7" height="6.8" fill="#4dab4a" />
<rect x="310.2" y="693.3" width="245.6" height="6.8" fill="#7e6e86" />
<rect x="332.7" y="693.3" width="223.1" height="6.8" fill="#9350a2" />
<rect x="366.9" y="693.3" width="188.9" height="6.8" fill="#b85e6d" />
<rect x="377.5" y="693.3" width="178.3" height="6.8" fill="#db6f38" />
<rect x="404" y="693.3" width="151.8" height="6.8" fill="#f77f10" />
<rect x="411.8" y="693.3" width="144" height="6.8" fill="#f8a828" />
<rect x="413.3" y="693.3" width="142.5" height="6.8" fill="#f2ea55" />
<rect x="496" y="693.3" width="59.8" height="6.8" fill="#c28d42" />
<text x="248" y="698.8" font-size="6.5" text-anchor="start" fill="#404040" stroke="#555" stroke-width="0.08">P4T3</text>
<circle cx="272.6" cy="696.5" r="3.6" fill="#e0302e" />
<rect x="282.5" y="701" width="273.3" height="6.8" fill="#e0282a" />
<rect x="289.2" y="701" width="266.6" height="6.8" fill="#a33d58" />
<rect x="290.6" y="701" width="265.2" height="6.8" fill="#6f5d88" />
<rect x="304.1" y="701" width="251.7" height="6.8" fill="#469d6f" />
<rect x="311.7" y="701" width="244.1" height="6.8" fill="#7e6e86" />
<rect x="362.8" y="701" width="193" height="6.8" fill="#9350a2" />
<rect x="384.6" y="701" width="171.2" height="6.8" fill="#b85e6d" />
<rect x="400.6" y="701" width="155.2" height="6.8" fill="#db6f38" />
<rect x="426" y="701" width="129.8" height="6.8" fill="#f2ea55" />
<rect x="516.2" y="701" width="39.6" height="6.8" fill="#c28d42" />
<rect x="549.8" y="701" width="6" height="6.8" fill="#a0562c" />
<text x="248" y="706.6" font-size="6.5" text-anchor="start" fill="#404040" stroke="#555" stroke-width="0.08">P5N</text>
<circle cx="272.6" cy="704.3" r="3.6" fill="#439a7c" />
<rect x="282.5" y="708.8" width="273.3" height="6.8" fill="#6f5d88" />
<rect x="301" y="708.8" width="254.8" height="6.8" fill="#469d6f" />
<rect x="307.6" y="708.8" width="248.2" height="6.8" fill="#668e68" />
<rect x="316.8" y="708.8" width="239" height="6.8" fill="#7e6e86" />
<rect x="321.9" y="708.8" width="233.9" height="6.8" fill="#9350a2" />
<rect x="356" y="708.8" width="199.8" height="6.8" fill="#b85e6d" />
<rect x="364.4" y="708.8" width="191.4" height="6.8" fill="#db6f38" />
<rect x="407.7" y="708.8" width="148.1" height="6.8" fill="#f77f10" />
<rect x="430.5" y="708.8" width="125.3" height="6.8" fill="#f2ea55" />
<rect x="498" y="708.8" width="57.8" height="6.8" fill="#c28d42" />
<text x="248" y="714.5" font-size="6.5" text-anchor="start" fill="#404040" stroke="#555" stroke-width="0.08">P5T1</text>
<circle cx="272.6" cy="712.2" r="3.6" fill="#e0302e" />
<rect x="282.5" y="716.5" width="273.3" height="6.8" fill="#a33d58" />
<rect x="287.2" y="716.5" width="268.6" height="6.8" fill="#6f5d88" />
<rect x="303.9" y="716.5" width="251.9" height="6.8" fill="#469d6f" />
<rect x="343.4" y="716.5" width="212.4" height="6.8" fill="#668e68" />
<rect x="381.2" y="716.5" width="174.6" height="6.8" fill="#9350a2" />
<rect x="391.8" y="716.5" width="164" height="6.8" fill="#db6f38" />
<rect x="398.1" y="716.5" width="157.7" height="6.8" fill="#f77f10" />
<rect x="426.6" y="716.5" width="129.2" height="6.8" fill="#f2ea55" />
<rect x="525.5" y="716.5" width="30.3" height="6.8" fill="#c28d42" />
<rect x="552" y="716.5" width="3.8" height="6.8" fill="#a0562c" />
<text x="248" y="722.3" font-size="6.5" text-anchor="start" fill="#404040" stroke="#555" stroke-width="0.08">P5T2</text>
<circle cx="272.6" cy="720" r="3.6" fill="#e0302e" />
<rect x="282.5" y="724.2" width="273.3" height="6.8" fill="#e0282a" />
<rect x="292.7" y="724.2" width="263.1" height="6.8" fill="#3a7ab5" />
<rect x="311.1" y="724.2" width="244.7" height="6.8" fill="#469d6f" />
<rect x="320.5" y="724.2" width="235.3" height="6.8" fill="#668e68" />
<rect x="359.7" y="724.2" width="196.1" height="6.8" fill="#7e6e86" />
<rect x="393.4" y="724.2" width="162.4" height="6.8" fill="#9350a2" />
<rect x="424.5" y="724.2" width="131.3" height="6.8" fill="#db6f38" />
<rect x="456.7" y="724.2" width="99.1" height="6.8" fill="#f2ea55" />
<rect x="482.1" y="724.2" width="73.7" height="6.8" fill="#c28d42" />
<rect x="534" y="724.2" width="21.8" height="6.8" fill="#a0562c" />
<rect x="553" y="724.2" width="2.8" height="6.8" fill="#d9738e" />
<text x="248" y="730.1" font-size="6.5" text-anchor="start" fill="#404040" stroke="#555" stroke-width="0.08">P6N</text>
<circle cx="272.6" cy="727.8" r="3.6" fill="#439a7c" />
<rect x="282.5" y="732" width="273.3" height="6.8" fill="#a33d58" />
<rect x="286.5" y="732" width="269.3" height="6.8" fill="#6f5d88" />
<rect x="299.8" y="732" width="256" height="6.8" fill="#469d6f" />
<rect x="340.3" y="732" width="215.5" height="6.8" fill="#7e6e86" />
<rect x="372.6" y="732" width="183.2" height="6.8" fill="#9350a2" />
<rect x="374" y="732" width="181.8" height="6.8" fill="#b85e6d" />
<rect x="381.6" y="732" width="174.2" height="6.8" fill="#db6f38" />
<rect x="383.8" y="732" width="172" height="6.8" fill="#f77f10" />
<rect x="435.1" y="732" width="120.7" height="6.8" fill="#f2ea55" />
<rect x="499.7" y="732" width="56.1" height="6.8" fill="#c28d42" />
<text x="248" y="738" font-size="6.5" text-anchor="start" fill="#404040" stroke="#555" stroke-width="0.08">P6T1</text>
<circle cx="272.6" cy="735.7" r="3.6" fill="#e0302e" />
<rect x="282.5" y="739.7" width="273.3" height="6.8" fill="#a33d58" />
<rect x="309.2" y="739.7" width="246.6" height="6.8" fill="#6f5d88" />
<rect x="312.7" y="739.7" width="243.1" height="6.8" fill="#469d6f" />
<rect x="360.1" y="739.7" width="195.7" height="6.8" fill="#4dab4a" />
<rect x="362.4" y="739.7" width="193.4" height="6.8" fill="#7e6e86" />
<rect x="434" y="739.7" width="121.8" height="6.8" fill="#9350a2" />
<rect x="442.1" y="739.7" width="113.7" height="6.8" fill="#db6f38" />
<rect x="453.1" y="739.7" width="102.7" height="6.8" fill="#f2ea55" />
<rect x="516.6" y="739.7" width="39.2" height="6.8" fill="#c28d42" />
<rect x="539.5" y="739.7" width="16.3" height="6.8" fill="#a0562c" />
<text x="248" y="745.8" font-size="6.5" text-anchor="start" fill="#404040" stroke="#555" stroke-width="0.08">P6T2</text>
<circle cx="272.6" cy="743.5" r="3.6" fill="#e0302e" />
<rect x="282.5" y="747.5" width="273.3" height="6.8" fill="#a33d58" />
<rect x="310.7" y="747.5" width="245.1" height="6.8" fill="#469d6f" />
<rect x="370.9" y="747.5" width="184.9" height="6.8" fill="#4dab4a" />
<rect x="373" y="747.5" width="182.8" height="6.8" fill="#7e6e86" />
<rect x="414.9" y="747.5" width="140.9" height="6.8" fill="#9350a2" />
<rect x="418.2" y="747.5" width="137.6" height="6.8" fill="#f77f10" />
<rect x="435.1" y="747.5" width="120.7" height="6.8" fill="#f2ea55" />
<rect x="513.4" y="747.5" width="42.4" height="6.8" fill="#dcc44a" />
<rect x="520.8" y="747.5" width="35" height="6.8" fill="#c28d42" />
<text x="248" y="753.7" font-size="6.5" text-anchor="start" fill="#404040" stroke="#555" stroke-width="0.08">P6T3</text>
<circle cx="272.6" cy="751.4" r="3.6" fill="#e0302e" />
<rect x="282.5" y="755.2" width="273.3" height="6.8" fill="#a33d58" />
<rect x="305.1" y="755.2" width="250.7" height="6.8" fill="#469d6f" />
<rect x="390.4" y="755.2" width="165.4" height="6.8" fill="#4dab4a" />
<rect x="394.9" y="755.2" width="160.9" height="6.8" fill="#7e6e86" />
<rect x="418.2" y="755.2" width="137.6" height="6.8" fill="#9350a2" />
<rect x="431.9" y="755.2" width="123.9" height="6.8" fill="#db6f38" />
<rect x="453.7" y="755.2" width="102.1" height="6.8" fill="#f77f10" />
<rect x="461.6" y="755.2" width="94.2" height="6.8" fill="#c28d42" />
<rect x="528.3" y="755.2" width="27.5" height="6.8" fill="#a0562c" />
<rect x="554.1" y="755.2" width="1.7" height="6.8" fill="#d9738e" />
<text x="248" y="761.5" font-size="6.5" text-anchor="start" fill="#404040" stroke="#555" stroke-width="0.08">P7N</text>
<circle cx="272.6" cy="759.2" r="3.6" fill="#439a7c" />
<rect x="282.5" y="763" width="273.3" height="6.8" fill="#e0282a" />
<rect x="287.2" y="763" width="268.6" height="6.8" fill="#6f5d88" />
<rect x="309.6" y="763" width="246.2" height="6.8" fill="#469d6f" />
<rect x="373" y="763" width="182.8" height="6.8" fill="#7e6e86" />
<rect x="433" y="763" width="122.8" height="6.8" fill="#9350a2" />
<rect x="456.3" y="763" width="99.5" height="6.8" fill="#b85e6d" />
<rect x="460.1" y="763" width="95.7" height="6.8" fill="#db6f38" />
<rect x="482.3" y="763" width="73.5" height="6.8" fill="#f77f10" />
<rect x="491.6" y="763" width="64.2" height="6.8" fill="#f2ea55" />
<rect x="513.9" y="763" width="41.9" height="6.8" fill="#c28d42" />
<text x="248" y="769.3" font-size="6.5" text-anchor="start" fill="#404040" stroke="#555" stroke-width="0.08">P7T1</text>
<circle cx="272.6" cy="767" r="3.6" fill="#e0302e" />
<rect x="282.5" y="770.7" width="273.3" height="6.8" fill="#e0282a" />
<rect x="292.3" y="770.7" width="263.5" height="6.8" fill="#469d6f" />
<rect x="328" y="770.7" width="227.8" height="6.8" fill="#4dab4a" />
<rect x="335.6" y="770.7" width="220.2" height="6.8" fill="#7e6e86" />
<rect x="412.4" y="770.7" width="143.4" height="6.8" fill="#9350a2" />
<rect x="434.5" y="770.7" width="121.3" height="6.8" fill="#b85e6d" />
<rect x="436.2" y="770.7" width="119.6" height="6.8" fill="#db6f38" />
<rect x="462.6" y="770.7" width="93.2" height="6.8" fill="#f2ea55" />
<rect x="494" y="770.7" width="61.8" height="6.8" fill="#c28d42" />
<rect x="523.4" y="770.7" width="32.4" height="6.8" fill="#a0562c" />
<rect x="545.8" y="770.7" width="10" height="6.8" fill="#d9738e" />
<text x="248" y="777.2" font-size="6.5" text-anchor="start" fill="#404040" stroke="#555" stroke-width="0.08">P7T2</text>
<circle cx="272.6" cy="774.9" r="3.6" fill="#e0302e" />
<rect x="282.5" y="778.5" width="273.3" height="6.8" fill="#e0282a" />
<rect x="290.6" y="778.5" width="265.2" height="6.8" fill="#6f5d88" />
<rect x="301.5" y="778.5" width="254.3" height="6.8" fill="#3a7ab5" />
<rect x="308.6" y="778.5" width="247.2" height="6.8" fill="#469d6f" />
<rect x="317.2" y="778.5" width="238.6" height="6.8" fill="#7e6e86" />
<rect x="396.9" y="778.5" width="158.9" height="6.8" fill="#9350a2" />
<rect x="443" y="778.5" width="112.8" height="6.8" fill="#db6f38" />
<rect x="469" y="778.5" width="86.8" height="6.8" fill="#f2ea55" />
<rect x="505.6" y="778.5" width="50.2" height="6.8" fill="#c28d42" />
<rect x="530.8" y="778.5" width="25" height="6.8" fill="#a0562c" />
<rect x="547.9" y="778.5" width="7.9" height="6.8" fill="#d9738e" />
<text x="248" y="785" font-size="6.5" text-anchor="start" fill="#404040" stroke="#555" stroke-width="0.08">P8N</text>
<circle cx="272.6" cy="782.7" r="3.6" fill="#439a7c" />
<rect x="282.5" y="786.2" width="273.3" height="6.8" fill="#a33d58" />
<rect x="292.3" y="786.2" width="263.5" height="6.8" fill="#6f5d88" />
<rect x="296" y="786.2" width="259.8" height="6.8" fill="#469d6f" />
<rect x="329" y="786.2" width="226.8" height="6.8" fill="#7e6e86" />
<rect x="353.6" y="786.2" width="202.2" height="6.8" fill="#9350a2" />
<rect x="390.4" y="786.2" width="165.4" height="6.8" fill="#db6f38" />
<rect x="425.2" y="786.2" width="130.6" height="6.8" fill="#f2ea55" />
<rect x="502.9" y="786.2" width="52.9" height="6.8" fill="#c28d42" />
<rect x="549" y="786.2" width="6.8" height="6.8" fill="#a0562c" />
<text x="248" y="792.8" font-size="6.5" text-anchor="start" fill="#404040" stroke="#555" stroke-width="0.08">P8T1</text>
<circle cx="272.6" cy="790.5" r="3.6" fill="#e0302e" />
<rect x="282.5" y="793.9" width="273.3" height="6.8" fill="#e0282a" />
<rect x="291.6" y="793.9" width="264.2" height="6.8" fill="#6f5d88" />
<rect x="296" y="793.9" width="259.8" height="6.8" fill="#469d6f" />
<rect x="297.4" y="793.9" width="258.4" height="6.8" fill="#4dab4a" />
<rect x="300.4" y="793.9" width="255.4" height="6.8" fill="#7e6e86" />
<rect x="353.6" y="793.9" width="202.2" height="6.8" fill="#9350a2" />
<rect x="392" y="793.9" width="163.8" height="6.8" fill="#db6f38" />
<rect x="442.1" y="793.9" width="113.7" height="6.8" fill="#f77f10" />
<rect x="453.1" y="793.9" width="102.7" height="6.8" fill="#f2ea55" />
<rect x="499.7" y="793.9" width="56.1" height="6.8" fill="#c28d42" />
<rect x="554.1" y="793.9" width="1.7" height="6.8" fill="#a0562c" />
<text x="248" y="800.7" font-size="6.5" text-anchor="start" fill="#404040" stroke="#555" stroke-width="0.08">P8T2</text>
<circle cx="272.6" cy="798.4" r="3.6" fill="#e0302e" />
<rect x="282.5" y="801.7" width="273.3" height="6.8" fill="#a33d58" />
<rect x="291.9" y="801.7" width="263.9" height="6.8" fill="#6f5d88" />
<rect x="293.9" y="801.7" width="261.9" height="6.8" fill="#469d6f" />
<rect x="348.1" y="801.7" width="207.7" height="6.8" fill="#4dab4a" />
<rect x="351.9" y="801.7" width="203.9" height="6.8" fill="#7e6e86" />
<rect x="399.6" y="801.7" width="156.2" height="6.8" fill="#9350a2" />
<rect x="434.5" y="801.7" width="121.3" height="6.8" fill="#db6f38" />
<rect x="440.8" y="801.7" width="115" height="6.8" fill="#f77f10" />
<rect x="450.6" y="801.7" width="105.2" height="6.8" fill="#f2ea55" />
<rect x="541" y="801.7" width="14.8" height="6.8" fill="#c28d42" />
<text x="248" y="808.5" font-size="6.5" text-anchor="start" fill="#404040" stroke="#555" stroke-width="0.08">P8T3</text>
<circle cx="272.6" cy="806.2" r="3.6" fill="#e0302e" />
<rect x="282.5" y="809.4" width="273.3" height="6.8" fill="#6f5d88" />
<rect x="303.9" y="809.4" width="251.9" height="6.8" fill="#469d6f" />
<rect x="307.6" y="809.4" width="248.2" height="6.8" fill="#4dab4a" />
<rect x="309.2" y="809.4" width="246.6" height="6.8" fill="#7e6e86" />
<rect x="376.5" y="809.4" width="179.3" height="6.8" fill="#9350a2" />
<rect x="416" y="809.4" width="139.8" height="6.8" fill="#b85e6d" />
<rect x="421.4" y="809.4" width="134.4" height="6.8" fill="#db6f38" />
<rect x="442.5" y="809.4" width="113.3" height="6.8" fill="#f77f10" />
<rect x="452" y="809.4" width="103.8" height="6.8" fill="#f2ea55" />
<rect x="521.9" y="809.4" width="33.9" height="6.8" fill="#c28d42" />
<rect x="553" y="809.4" width="2.8" height="6.8" fill="#a0562c" />
<text x="248" y="816.4" font-size="6.5" text-anchor="start" fill="#404040" stroke="#555" stroke-width="0.08">P9N</text>
<circle cx="272.6" cy="814.1" r="3.6" fill="#439a7c" />
<rect x="282.5" y="817.2" width="273.3" height="6.8" fill="#e0282a" />
<rect x="291.9" y="817.2" width="263.9" height="6.8" fill="#6f5d88" />
<rect x="296" y="817.2" width="259.8" height="6.8" fill="#4dab4a" />
<rect x="310.7" y="817.2" width="245.1" height="6.8" fill="#668e68" />
<rect x="317.8" y="817.2" width="238" height="6.8" fill="#7e6e86" />
<rect x="372.6" y="817.2" width="183.2" height="6.8" fill="#9350a2" />
<rect x="398.1" y="817.2" width="157.7" height="6.8" fill="#db6f38" />
<rect x="425.6" y="817.2" width="130.2" height="6.8" fill="#f2ea55" />
<rect x="481" y="817.2" width="74.8" height="6.8" fill="#c28d42" />
<rect x="546.2" y="817.2" width="9.6" height="6.8" fill="#a0562c" />
<rect x="551.5" y="817.2" width="4.3" height="6.8" fill="#d9738e" />
<text x="248" y="824.2" font-size="6.5" text-anchor="start" fill="#404040" stroke="#555" stroke-width="0.08">P9T1</text>
<circle cx="272.6" cy="821.9" r="3.6" fill="#e0302e" />
<rect x="282.5" y="824.9" width="273.3" height="6.8" fill="#6f5d88" />
<rect x="307.6" y="824.9" width="248.2" height="6.8" fill="#4dab4a" />
<rect x="321.9" y="824.9" width="233.9" height="6.8" fill="#7e6e86" />
<rect x="353" y="824.9" width="202.8" height="6.8" fill="#9350a2" />
<rect x="410.2" y="824.9" width="145.6" height="6.8" fill="#b85e6d" />
<rect x="414.9" y="824.9" width="140.9" height="6.8" fill="#db6f38" />
<rect x="433" y="824.9" width="122.8" height="6.8" fill="#f77f10" />
<rect x="448.9" y="824.9" width="106.9" height="6.8" fill="#f2ea55" />
<rect x="527.2" y="824.9" width="28.6" height="6.8" fill="#c28d42" />
<text x="248" y="832" font-size="6.5" text-anchor="start" fill="#404040" stroke="#555" stroke-width="0.08">P9T2</text>
<circle cx="272.6" cy="829.7" r="3.6" fill="#e0302e" />
<rect x="282.5" y="832.7" width="273.3" height="6.8" fill="#a33d58" />
<rect x="293.9" y="832.7" width="261.9" height="6.8" fill="#6f5d88" />
<rect x="299.8" y="832.7" width="256" height="6.8" fill="#469d6f" />
<rect x="318.2" y="832.7" width="237.6" height="6.8" fill="#4dab4a" />
<rect x="321.9" y="832.7" width="233.9" height="6.8" fill="#7e6e86" />
<rect x="341.9" y="832.7" width="213.9" height="6.8" fill="#9350a2" />
<rect x="377.7" y="832.7" width="178.1" height="6.8" fill="#db6f38" />
<rect x="396.9" y="832.7" width="158.9" height="6.8" fill="#f77f10" />
<rect x="422" y="832.7" width="133.8" height="6.8" fill="#f2ea55" />
<rect x="532.9" y="832.7" width="22.9" height="6.8" fill="#c28d42" />
<text x="248" y="839.9" font-size="6.5" text-anchor="start" fill="#404040" stroke="#555" stroke-width="0.08">P9T3</text>
<circle cx="272.6" cy="837.6" r="3.6" fill="#e0302e" />
<rect x="282.5" y="840.4" width="273.3" height="6.8" fill="#a33d58" />
<rect x="292.7" y="840.4" width="263.1" height="6.8" fill="#469d6f" />
<rect x="316.8" y="840.4" width="239" height="6.8" fill="#7e6e86" />
<rect x="379.5" y="840.4" width="176.3" height="6.8" fill="#9350a2" />
<rect x="395.1" y="840.4" width="160.7" height="6.8" fill="#db6f38" />
<rect x="404.7" y="840.4" width="151.1" height="6.8" fill="#f77f10" />
<rect x="437.2" y="840.4" width="118.6" height="6.8" fill="#f2ea55" />
<rect x="520.8" y="840.4" width="35" height="6.8" fill="#c28d42" />
<text x="248" y="847.7" font-size="6.5" text-anchor="start" fill="#404040" stroke="#555" stroke-width="0.08">P10N</text>
<circle cx="272.6" cy="845.4" r="3.6" fill="#439a7c" />
<rect x="282.5" y="848.2" width="273.3" height="6.8" fill="#a33d58" />
<rect x="289.8" y="848.2" width="266" height="6.8" fill="#6f5d88" />
<rect x="293.9" y="848.2" width="261.9" height="6.8" fill="#469d6f" />
<rect x="327" y="848.2" width="228.8" height="6.8" fill="#7e6e86" />
<rect x="388.9" y="848.2" width="166.9" height="6.8" fill="#9350a2" />
<rect x="418.8" y="848.2" width="137" height="6.8" fill="#db6f38" />
<rect x="429.8" y="848.2" width="126" height="6.8" fill="#f2ea55" />
<rect x="525.1" y="848.2" width="30.7" height="6.8" fill="#c28d42" />
<rect x="554.1" y="848.2" width="1.7" height="6.8" fill="#a0562c" />
<text x="248" y="855.6" font-size="6.5" text-anchor="start" fill="#404040" stroke="#555" stroke-width="0.08">P10T1</text>
<circle cx="272.6" cy="853.3" r="3.6" fill="#e0302e" />
<rect x="282.5" y="855.9" width="273.3" height="6.8" fill="#a33d58" />
<rect x="298" y="855.9" width="257.8" height="6.8" fill="#469d6f" />
<rect x="309.2" y="855.9" width="246.6" height="6.8" fill="#4dab4a" />
<rect x="311.1" y="855.9" width="244.7" height="6.8" fill="#7e6e86" />
<rect x="405.1" y="855.9" width="150.7" height="6.8" fill="#9350a2" />
<rect x="425" y="855.9" width="130.8" height="6.8" fill="#db6f38" />
<rect x="446.1" y="855.9" width="109.7" height="6.8" fill="#f2ea55" />
<rect x="530" y="855.9" width="25.8" height="6.8" fill="#c28d42" />
<rect x="553" y="855.9" width="2.8" height="6.8" fill="#a0562c" />
<text x="248" y="863.4" font-size="6.5" text-anchor="start" fill="#404040" stroke="#555" stroke-width="0.08">P10T2</text>
<circle cx="272.6" cy="861.1" r="3.6" fill="#e0302e" />
<rect x="279.8" y="575.2" width="278.5" height="289" fill="none" stroke="#2e2e2e" stroke-width="1.1"/>
<line x1="282.5" y1="864.2" x2="282.5" y2="866.4" stroke="#333" stroke-width="0.7" />
<text x="283.7" y="874.5" font-size="9" text-anchor="middle" fill="#4d4d4d" stroke="#4d4d4d" stroke-width="0.22" >0.00</text>
<line x1="350.8" y1="864.2" x2="350.8" y2="866.4" stroke="#333" stroke-width="0.7" />
<text x="352" y="874.5" font-size="9" text-anchor="middle" fill="#4d4d4d" stroke="#4d4d4d" stroke-width="0.22" >0.25</text>
<line x1="419.2" y1="864.2" x2="419.2" y2="866.4" stroke="#333" stroke-width="0.7" />
<text x="420.4" y="874.5" font-size="9" text-anchor="middle" fill="#4d4d4d" stroke="#4d4d4d" stroke-width="0.22" >0.50</text>
<line x1="487.5" y1="864.2" x2="487.5" y2="866.4" stroke="#333" stroke-width="0.7" />
<text x="488.7" y="874.5" font-size="9" text-anchor="middle" fill="#4d4d4d" stroke="#4d4d4d" stroke-width="0.22" >0.75</text>
<line x1="555.8" y1="864.2" x2="555.8" y2="866.4" stroke="#333" stroke-width="0.7" />
<text x="557" y="874.5" font-size="9" text-anchor="middle" fill="#4d4d4d" stroke="#4d4d4d" stroke-width="0.22" >1.00</text>
<text x="419.8" y="882.8" font-size="9" text-anchor="middle" fill="#111" stroke="#111" stroke-width="0.22" >Proportion</text>
<text x="564.5" y="580.8" font-size="9.5" text-anchor="start" fill="#111" stroke="#111" stroke-width="0.22" >Cell Type</text>
<rect x="564.6" y="584.7" width="8.5" height="8.2" fill="#e0282a" />
<text x="576.3" y="592.1" font-size="9.1" text-anchor="start" fill="#111" stroke="#111" stroke-width="0.22" >Memory B</text>
<rect x="564.6" y="594.2" width="8.5" height="8.2" fill="#a33d58" />
<text x="576.3" y="601.6" font-size="9.1" text-anchor="start" fill="#111" stroke="#111" stroke-width="0.22" >Naive B</text>
<rect x="564.6" y="603.7" width="8.5" height="8.2" fill="#6f5d88" />
<text x="576.3" y="611.1" font-size="9.1" text-anchor="start" fill="#111" stroke="#111" stroke-width="0.22" >Activated Dendritic cells</text>
<rect x="564.6" y="613.2" width="8.5" height="8.2" fill="#3a7ab5" />
<text x="576.3" y="620.6" font-size="9.1" text-anchor="start" fill="#111" stroke="#111" stroke-width="0.22" >Resting Dendritic cells</text>
<rect x="564.6" y="622.4" width="8.5" height="8.2" fill="#3e8c92" />
<text x="576.3" y="629.8" font-size="9.1" text-anchor="start" fill="#111" stroke="#111" stroke-width="0.22" >Eosinophils</text>
<rect x="564.6" y="631.8" width="8.5" height="8.2" fill="#469d6f" />
<text x="576.3" y="639.2" font-size="9.1" text-anchor="start" fill="#111" stroke="#111" stroke-width="0.22" >Macrophages M0</text>
<rect x="564.6" y="641.1" width="8.5" height="8.2" fill="#4dab4a" />
<text x="576.3" y="648.5" font-size="9.1" text-anchor="start" fill="#111" stroke="#111" stroke-width="0.22" >Macrophages M1</text>
<rect x="564.6" y="650.5" width="8.5" height="8.2" fill="#668e68" />
<text x="576.3" y="657.9" font-size="9.1" text-anchor="start" fill="#111" stroke="#111" stroke-width="0.22" >Activated Mast cells</text>
<rect x="564.6" y="659.9" width="8.5" height="8.2" fill="#7e6e86" />
<text x="576.3" y="667.3" font-size="9.1" text-anchor="start" fill="#111" stroke="#111" stroke-width="0.22" >Resting Mast cells</text>
<rect x="564.6" y="669.4" width="8.5" height="8.2" fill="#9350a2" />
<text x="576.3" y="676.8" font-size="9.1" text-anchor="start" fill="#111" stroke="#111" stroke-width="0.22" >Monocytes</text>
<rect x="564.6" y="678.9" width="8.5" height="8.2" fill="#b85e6d" />
<text x="576.3" y="686.3" font-size="9.1" text-anchor="start" fill="#111" stroke="#111" stroke-width="0.22" >Neutrophils</text>
<rect x="564.6" y="688.1" width="8.5" height="8.2" fill="#db6f38" />
<text x="576.3" y="695.5" font-size="9.1" text-anchor="start" fill="#111" stroke="#111" stroke-width="0.22" >Activated NK</text>
<rect x="564.6" y="697.4" width="8.5" height="8.2" fill="#f77f10" />
<text x="576.3" y="704.8" font-size="9.1" text-anchor="start" fill="#111" stroke="#111" stroke-width="0.22" >Resting NK</text>
<rect x="564.6" y="706.6" width="8.5" height="8.2" fill="#f8a828" />
<text x="576.3" y="714" font-size="9.1" text-anchor="start" fill="#111" stroke="#111" stroke-width="0.22" >Plasma cells</text>
<rect x="564.6" y="718.3" width="8.5" height="8.2" fill="#f2ea55" />
<text x="576.3" y="725.7" font-size="9.1" text-anchor="start" fill="#111" stroke="#111" stroke-width="0.22" >CD4+ memory resting T</text>
<rect x="564.6" y="728" width="8.5" height="8.2" fill="#dcc44a" />
<text x="576.3" y="735.4" font-size="9.1" text-anchor="start" fill="#111" stroke="#111" stroke-width="0.22" >CD4+ naive T</text>
<rect x="564.6" y="737.6" width="8.5" height="8.2" fill="#c28d42" />
<text x="576.3" y="745" font-size="9.1" text-anchor="start" fill="#111" stroke="#111" stroke-width="0.22" >CD8+ T</text>
<rect x="564.6" y="746.9" width="8.5" height="8.2" fill="#a0562c" />
<text x="576.3" y="754.3" font-size="9.1" text-anchor="start" fill="#111" stroke="#111" stroke-width="0.22" >Follicular helper T</text>
<rect x="564.6" y="758.7" width="8.5" height="8.2" fill="#d9738e" />
<text x="576.3" y="766.1" font-size="9.1" text-anchor="start" fill="#111" stroke="#111" stroke-width="0.22" >Regulatory T (Tregs)</text>
<text x="564.5" y="776.4" font-size="8" text-anchor="start" fill="#111" stroke="#111" stroke-width="0.22" >Sample</text>
<circle cx="567.7" cy="785" r="3.4" fill="#439a7c" />
<text x="574.5" y="788.3" font-size="9.1" text-anchor="start" fill="#111" stroke="#111" stroke-width="0.22" >Normal</text>
<circle cx="567.7" cy="796" r="3.4" fill="#e0302e" />
<text x="574.5" y="799.3" font-size="9.1" text-anchor="start" fill="#111" stroke="#111" stroke-width="0.22" >Tumors</text>
</svg></body></html>
